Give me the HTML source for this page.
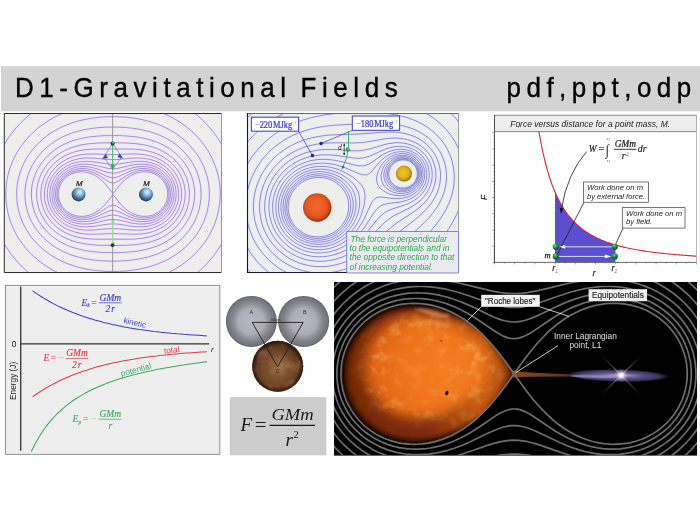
<!DOCTYPE html>
<html lang="en"><head><meta charset="utf-8"><title>D1-Gravitational Fields</title>
<style>html,body{margin:0;padding:0;background:#fff;width:700px;height:525px;overflow:hidden}svg{display:block}text{white-space:pre}</style></head>
<body>
<svg width="700" height="525" viewBox="0 0 700 525">
<defs>
<radialGradient id="gBlue" cx="0.58" cy="0.34" r="0.72"><stop offset="0" stop-color="#d4f0ff"/><stop offset="0.25" stop-color="#a4cce8"/><stop offset="0.55" stop-color="#5a84a8"/><stop offset="0.85" stop-color="#2a4868"/><stop offset="1" stop-color="#182c44"/></radialGradient>
<radialGradient id="gOrange" cx="0.47" cy="0.45" r="0.56"><stop offset="0" stop-color="#f4682a"/><stop offset="0.6" stop-color="#ea5a20"/><stop offset="0.85" stop-color="#c84818"/><stop offset="0.96" stop-color="#8a2c10"/><stop offset="1" stop-color="#6a200c"/></radialGradient>
<radialGradient id="gYellow" cx="0.47" cy="0.45" r="0.56"><stop offset="0" stop-color="#eec422"/><stop offset="0.6" stop-color="#e0b01a"/><stop offset="0.85" stop-color="#b08c14"/><stop offset="0.96" stop-color="#7a6410"/><stop offset="1" stop-color="#5a4a0c"/></radialGradient>
<radialGradient id="gGreen" cx="0.4" cy="0.3" r="0.75"><stop offset="0" stop-color="#7ad890"/><stop offset="0.35" stop-color="#269c44"/><stop offset="1" stop-color="#064a18"/></radialGradient>
<radialGradient id="gGrayA" cx="0.5" cy="0.5" r="0.5"><stop offset="0" stop-color="#b8b8c4"/><stop offset="0.5" stop-color="#adadb8"/><stop offset="0.66" stop-color="#94949c"/><stop offset="0.8" stop-color="#808088"/><stop offset="0.94" stop-color="#74747c"/><stop offset="1" stop-color="#5c5c62"/></radialGradient>
<radialGradient id="gBrown" cx="0.5" cy="0.55" r="0.55"><stop offset="0" stop-color="#8e623e"/><stop offset="0.55" stop-color="#744828"/><stop offset="0.88" stop-color="#52301a"/><stop offset="1" stop-color="#321c0e"/></radialGradient>
<radialGradient id="gStar" gradientUnits="userSpaceOnUse" cx="445" cy="368" r="105"><stop offset="0" stop-color="#f47e22"/><stop offset="0.4" stop-color="#ee741c"/><stop offset="0.65" stop-color="#e06616"/><stop offset="0.85" stop-color="#c45410"/><stop offset="1" stop-color="#9a400a"/></radialGradient>
<linearGradient id="gSh1" gradientUnits="userSpaceOnUse" x1="340" y1="0" x2="515" y2="0"><stop offset="0" stop-color="#6a2006"/><stop offset="0.5" stop-color="#702408"/><stop offset="0.85" stop-color="#7a2606" stop-opacity="0.15"/><stop offset="1" stop-color="#7a2606" stop-opacity="0.3"/></linearGradient>
<linearGradient id="gSh2" gradientUnits="userSpaceOnUse" x1="340" y1="0" x2="515" y2="0"><stop offset="0" stop-color="#2a0a00"/><stop offset="0.5" stop-color="#2a0a00"/><stop offset="0.8" stop-color="#2a0a00" stop-opacity="0.1"/><stop offset="1" stop-color="#2a0a00" stop-opacity="0.4"/></linearGradient>
<linearGradient id="gSh3" gradientUnits="userSpaceOnUse" x1="340" y1="0" x2="515" y2="0"><stop offset="0" stop-color="#0a0200"/><stop offset="0.5" stop-color="#0a0200"/><stop offset="0.8" stop-color="#0a0200" stop-opacity="0.1"/><stop offset="1" stop-color="#0a0200" stop-opacity="0.3"/></linearGradient>
<radialGradient id="gMask" gradientUnits="userSpaceOnUse" cx="425" cy="372" r="88"><stop offset="0" stop-color="#fff" stop-opacity="0.25"/><stop offset="0.35" stop-color="#fff" stop-opacity="0.45"/><stop offset="0.7" stop-color="#fff" stop-opacity="1"/><stop offset="1" stop-color="#fff" stop-opacity="0.8"/></radialGradient>
<mask id="mTex" maskUnits="userSpaceOnUse" x="330" y="280" width="200" height="180"><rect x="330" y="280" width="200" height="180" fill="url(#gMask)"/></mask>
<radialGradient id="gSpike" gradientUnits="userSpaceOnUse" cx="621.2" cy="375.3" r="27"><stop offset="0" stop-color="#c8a8a0" stop-opacity="0.9"/><stop offset="0.4" stop-color="#8a6a60" stop-opacity="0.6"/><stop offset="1" stop-color="#6a5048" stop-opacity="0"/></radialGradient>
<linearGradient id="gTip" gradientUnits="userSpaceOnUse" x1="478" y1="0" x2="515" y2="0"><stop offset="0" stop-color="#3a1a08" stop-opacity="0"/><stop offset="0.6" stop-color="#3a1a08" stop-opacity="0.2"/><stop offset="1" stop-color="#2a1408" stop-opacity="0.6"/></linearGradient>
<linearGradient id="gLimb" gradientUnits="userSpaceOnUse" x1="340" y1="0" x2="514" y2="0"><stop offset="0" stop-color="#5a2406"/><stop offset="0.5" stop-color="#7a3408"/><stop offset="1" stop-color="#9a4a10"/></linearGradient>
<linearGradient id="gStream" gradientUnits="userSpaceOnUse" x1="506" y1="0" x2="588" y2="0"><stop offset="0" stop-color="#8a4a1c"/><stop offset="0.3" stop-color="#7c441c"/><stop offset="0.7" stop-color="#5a3420"/><stop offset="1" stop-color="#4a3848" stop-opacity="0.5"/></linearGradient>
<radialGradient id="gDisk" cx="0.5" cy="0.5" r="0.5"><stop offset="0" stop-color="#8474a4"/><stop offset="0.5" stop-color="#5c4c84"/><stop offset="0.82" stop-color="#423e6e" stop-opacity="0.8"/><stop offset="1" stop-color="#303050" stop-opacity="0"/></radialGradient>
<radialGradient id="gDisk2" cx="0.5" cy="0.5" r="0.5"><stop offset="0" stop-color="#fff"/><stop offset="0.5" stop-color="#b8a8d8" stop-opacity="0.8"/><stop offset="1" stop-color="#8a88c0" stop-opacity="0"/></radialGradient>
<radialGradient id="gGlow" cx="0.5" cy="0.5" r="0.5"><stop offset="0" stop-color="#fff"/><stop offset="0.25" stop-color="#fff" stop-opacity="0.95"/><stop offset="0.5" stop-color="#e8d8f0" stop-opacity="0.5"/><stop offset="1" stop-color="#c0a0c0" stop-opacity="0"/></radialGradient>
<filter id="fBlur5" x="-0.3" y="-0.3" width="1.6" height="1.6"><feGaussianBlur stdDeviation="6"/></filter>
<filter id="fBlur3" x="-0.2" y="-0.2" width="1.4" height="1.4"><feGaussianBlur stdDeviation="2"/></filter>
<filter id="fBlur1" x="-0.2" y="-0.2" width="1.4" height="1.4"><feGaussianBlur stdDeviation="1.1"/></filter>
<filter id="fBlur05" x="-0.2" y="-0.5" width="1.4" height="2"><feGaussianBlur stdDeviation="0.5"/></filter>
<filter id="fTexB" x="0" y="0" width="1" height="1" color-interpolation-filters="sRGB"><feTurbulence type="fractalNoise" baseFrequency="0.07" numOctaves="3" seed="3"/><feColorMatrix type="matrix" values="0 0 0 0 0.72  0 0 0 0 0.56  0 0 0 0 0.4  2.4 0 0 0 -1.0"/></filter>
<filter id="fTex" x="0" y="0" width="1" height="1" color-interpolation-filters="sRGB"><feTurbulence type="fractalNoise" baseFrequency="0.085" numOctaves="4" seed="11"/><feColorMatrix type="matrix" values="0 0 0 0 1  0 0 0 0 0.8  0 0 0 0 0.45  2.4 0 0 0 -1.15"/></filter>
</defs>
<rect x="0" y="0" width="700" height="525" fill="#fff"/>
<rect x="1" y="66" width="699" height="45.3" fill="#d3d3d3"/>
<g transform="translate(0 96.9) scale(1 1.055)" font-family="Liberation Sans,sans-serif" font-size="26" fill="#000" stroke="#000" stroke-width="0.35"><text x="15" y="0" letter-spacing="5.55">D1-Gravitational<tspan dx="-3.8"> Fields</tspan></text><text x="506.6" y="0" letter-spacing="5.45">pdf,ppt,odp</text></g>
<g id="p1">
<clipPath id="c1"><rect x="4.5" y="113.5" width="217.0" height="159.0"/></clipPath>
<rect x="4.5" y="113.5" width="217.0" height="159.0" fill="#eeeeec"/>
<g clip-path="url(#c1)">
<g fill="none" stroke="#f1e6ff" stroke-width="3" opacity="0.95">
<path d=""/>
<path d="M33.8,111.5L29.0,115.2L24.4,119.2L20.1,123.5L15.9,128.0L12.1,132.8L8.6,137.5L5.4,142.5L2.5,147.7 M223.5,147.7L220.6,142.5L217.4,137.5L213.9,132.8L210.1,128.0L205.9,123.5L201.6,119.2L197.0,115.2L192.2,111.5 M2.5,240.5L5.2,245.2L8.2,250.0L11.4,254.5L14.8,258.8L18.5,263.0L22.4,267.0L26.5,270.8L30.9,274.5 M195.1,274.5L199.5,270.8L203.6,267.0L207.5,263.0L211.2,258.8L214.6,254.5L217.8,250.0L220.8,245.2L223.5,240.5"/>
<path d="M67.4,111.5L64.0,112.8L60.8,114.2L57.5,115.7L54.5,117.2L51.5,118.9L48.5,120.6L45.5,122.6L42.8,124.5L40.0,126.5L37.2,128.7L34.8,130.9L32.2,133.2L29.9,135.5L27.6,138.0L25.4,140.5L23.4,143.0L21.5,145.6L19.7,148.2L17.9,151.0L16.2,154.0L14.6,157.0L13.3,159.8L12.0,162.8L10.8,165.8L9.8,168.8L8.8,172.0L8.0,175.0L7.3,178.2L6.7,181.5L6.3,184.8L6.0,188.0L5.8,191.2L5.8,194.5L5.9,197.8L6.1,201.0L6.4,204.2L6.9,207.5L7.5,210.8L8.2,213.8L9.0,217.0L10.1,220.2L11.1,223.2L12.3,226.2L13.7,229.2L15.2,232.2L16.6,235.0L18.3,237.8L20.0,240.5L22.0,243.2L23.9,245.8L26.0,248.4L28.2,250.9L30.5,253.3L33.0,255.7L35.5,258.0L38.0,260.1L40.8,262.3L43.5,264.3L46.2,266.1L49.2,268.0L52.2,269.8L55.5,271.5L58.8,273.1L61.9,274.5 M164.1,274.5L167.2,273.1L170.5,271.5L173.8,269.8L176.8,268.0L179.8,266.1L182.5,264.3L185.2,262.3L188.0,260.1L190.5,258.0L193.0,255.7L195.5,253.3L197.8,250.9L200.0,248.4L202.1,245.8L204.0,243.2L206.0,240.5L207.7,237.8L209.4,235.0L210.8,232.2L212.3,229.2L213.7,226.2L214.9,223.2L215.9,220.2L217.0,217.0L217.8,213.8L218.5,210.8L219.1,207.5L219.6,204.2L219.9,201.0L220.1,197.8L220.2,194.5L220.2,191.2L220.0,188.0L219.7,184.8L219.3,181.5L218.7,178.2L218.0,175.0L217.2,172.0L216.2,168.8L215.2,165.8L214.0,162.8L212.7,159.8L211.4,157.0L209.8,154.0L208.1,151.0L206.3,148.2L204.5,145.6L202.6,143.0L200.6,140.5L198.4,138.0L196.1,135.5L193.8,133.2L191.2,130.9L188.7,128.7L186.0,126.5L183.2,124.5L180.5,122.6L177.5,120.6L174.5,118.9L171.5,117.2L168.5,115.7L165.2,114.2L162.0,112.8L158.6,111.5"/>
<path d="M107.8,116.7L102.2,117.0L96.8,117.6L91.5,118.3L86.2,119.2L81.2,120.3L76.2,121.6L71.5,123.1L67.0,124.8L62.5,126.7L58.2,128.8L54.2,131.0L50.2,133.5L46.5,136.2L43.0,139.0L39.6,142.0L36.5,145.1L33.5,148.5L30.7,152.0L28.1,155.8L25.8,159.5L23.7,163.5L21.9,167.5L20.3,171.8L19.0,176.0L18.0,180.2L17.3,184.8L16.8,189.0L16.6,193.5L16.8,198.0L17.1,202.2L17.8,206.8L18.7,211.0L19.9,215.0L21.3,219.0L22.9,223.0L24.8,226.8L26.9,230.5L29.2,234.2L31.9,237.8L34.6,241.0L37.6,244.2L40.8,247.3L44.2,250.2L47.8,252.9L51.5,255.5L55.2,257.8L59.2,259.9L63.5,261.9L68.0,263.8L72.5,265.4L77.2,266.9L82.0,268.1L87.0,269.2L92.2,270.1L97.5,270.7L102.8,271.2L108.2,271.5L114.0,271.5L119.5,271.4L125.0,271.1L130.2,270.5L135.5,269.8L140.8,268.8L145.8,267.7L149.8,266.6L153.8,265.3L157.8,263.9L161.5,262.4L165.2,260.7L168.8,258.9L172.2,256.9L175.5,254.8L178.8,252.6L181.8,250.3L184.7,247.8L187.4,245.2L190.0,242.6L192.5,239.7L194.9,236.8L197.0,233.8L199.0,230.8L200.8,227.5L202.5,224.2L204.1,220.8L205.4,217.2L206.5,213.8L207.5,210.2L208.2,206.5L208.8,202.8L209.2,199.2L209.3,195.5L209.3,191.8L209.1,188.0L208.7,184.5L208.1,180.8L207.3,177.2L206.3,173.8L205.1,170.2L203.9,167.0L202.4,163.8L200.7,160.5L199.0,157.5L197.1,154.5L194.9,151.5L192.7,148.8L190.2,145.9L187.7,143.2L185.0,140.7L182.0,138.1L179.0,135.8L176.0,133.7L172.8,131.6L169.5,129.7L166.0,127.9L162.5,126.3L158.8,124.7L155.0,123.3L151.2,122.1L147.2,120.9L143.2,119.9L139.0,119.0L134.8,118.3L130.5,117.7L126.0,117.2L121.5,116.9L117.0,116.7L112.2,116.7L107.8,116.7"/>
<path d="M104.5,127.2L99.0,127.6L93.8,128.2L88.8,128.9L83.8,129.8L79.0,130.9L74.5,132.2L70.2,133.7L66.0,135.4L62.0,137.2L58.0,139.4L54.2,141.7L50.8,144.1L47.5,146.8L44.2,149.6L41.2,152.7L38.6,155.8L36.0,159.2L33.7,162.8L31.6,166.5L29.9,170.2L28.4,174.0L27.1,178.0L26.2,182.0L25.4,186.2L25.0,190.5L24.9,194.8L25.1,199.0L25.6,203.0L26.4,207.2L27.4,211.2L28.8,215.2L30.3,219.0L32.1,222.5L33.9,225.8L36.0,229.0L38.3,232.0L40.8,235.0L43.5,237.8L46.5,240.6L49.5,243.1L52.8,245.5L56.2,247.8L59.8,249.8L63.5,251.7L67.2,253.3L71.2,254.9L75.5,256.3L79.8,257.4L84.8,258.6L89.8,259.5L95.0,260.2L100.5,260.7L106.2,261.0L112.0,261.2L118.0,261.1L123.8,260.8L129.2,260.4L134.5,259.7L139.5,258.9L144.2,257.9L148.8,256.8L153.2,255.4L157.5,253.9L161.5,252.2L164.5,250.7L167.5,249.1L170.2,247.5L173.0,245.7L175.5,243.9L178.0,241.9L180.5,239.8L182.8,237.6L185.0,235.2L186.9,233.0L188.9,230.5L190.6,228.0L192.2,225.5L193.8,222.8L195.2,220.0L196.5,217.0L197.6,214.2L198.6,211.2L199.4,208.2L200.0,205.2L200.5,202.2L200.9,199.2L201.1,196.0L201.1,193.0L200.9,189.8L200.6,186.8L200.2,183.8L199.6,180.8L198.8,177.8L197.9,174.8L196.9,172.0L195.6,169.0L194.2,166.2L192.9,163.8L191.3,161.2L189.8,158.9L188.0,156.5L186.1,154.2L184.1,152.0L182.0,149.9L179.8,147.8L177.5,145.9L175.1,144.0L172.6,142.2L170.0,140.6L167.2,139.0L164.5,137.5L161.8,136.2L158.8,134.9L155.8,133.7L152.8,132.6L149.5,131.6L146.2,130.8L143.0,130.0L139.5,129.3L136.0,128.7L132.2,128.2L128.5,127.8L120.8,127.2L116.8,127.1L112.5,127.0L104.5,127.2"/>
<path d="M103.8,135.7L98.2,136.1L93.0,136.5L88.2,137.2L83.8,137.9L79.2,138.9L75.0,140.1L71.0,141.4L67.2,142.9L63.5,144.6L59.7,146.6L56.5,148.7L53.2,151.0L50.2,153.5L47.3,156.2L44.7,159.0L42.3,162.0L40.0,165.2L37.9,168.8L36.2,172.2L34.6,176.0L33.4,179.8L32.5,183.5L31.8,187.2L31.5,191.2L31.4,195.0L31.6,199.0L32.2,203.0L33.0,206.8L34.0,210.5L35.4,214.2L37.0,217.8L38.9,221.2L40.9,224.2L42.9,227.0L45.2,229.7L47.5,232.2L50.0,234.5L52.8,236.8L55.8,239.0L58.8,241.0L61.8,242.7L65.0,244.3L68.5,245.8L72.0,247.1L75.8,248.3L79.5,249.3L83.5,250.2L87.8,251.0L92.8,251.6L98.2,252.1L104.2,252.5L110.5,252.6L117.2,252.6L123.5,252.4L129.2,252.0L134.8,251.5L139.5,250.8L144.0,249.9L148.2,248.9L152.2,247.7L156.2,246.3L160.0,244.8L163.5,243.1L167.0,241.1L169.5,239.5L171.8,237.9L174.0,236.2L176.0,234.5L178.0,232.7L179.9,230.8L181.7,228.8L183.3,226.8L185.0,224.5L186.4,222.2L187.8,220.0L189.0,217.8L190.2,215.2L191.2,212.8L192.0,210.2L192.8,207.8L193.4,205.2L193.9,202.5L194.3,199.8L194.5,197.2L194.6,194.8L194.6,192.0L194.4,189.2L194.1,186.8L193.6,184.0L193.1,181.5L192.4,179.0L191.6,176.5L190.6,174.0L189.5,171.5L188.2,169.0L186.9,166.8L185.7,164.8L184.2,162.7L182.7,160.8L181.1,158.8L179.2,156.8L177.5,155.0L175.8,153.5L173.8,151.8L171.8,150.3L169.8,148.8L167.5,147.4L165.2,146.1L163.0,144.9L160.5,143.7L158.0,142.6L155.5,141.6L150.5,139.9L145.2,138.6L139.5,137.4L133.5,136.6L126.8,136.0L119.5,135.6L111.5,135.6L103.8,135.7"/>
<path d="M99.5,143.0L94.2,143.3L89.5,143.7L85.0,144.3L81.0,145.0L77.0,146.0L73.2,147.1L69.8,148.3L66.2,149.8L62.8,151.6L59.5,153.5L56.5,155.6L53.5,158.0L50.8,160.5L48.4,163.0L46.2,165.8L44.1,168.8L42.2,172.0L40.6,175.2L39.2,178.8L38.1,182.2L37.4,185.8L36.8,189.5L36.6,193.0L36.7,196.8L37.0,200.5L37.7,204.0L38.6,207.8L39.9,211.2L41.4,214.8L43.2,218.0L45.1,221.0L47.4,224.0L49.5,226.4L51.8,228.7L54.0,230.7L56.5,232.6L59.0,234.4L61.7,236.1L64.8,237.7L67.8,239.1L70.8,240.3L74.0,241.4L77.2,242.3L80.8,243.1L84.2,243.8L88.0,244.3L92.0,244.7L96.2,245.1L102.2,245.3L109.2,245.4L118.0,245.4L125.2,245.3L130.2,245.0L135.0,244.7L139.5,244.1L143.5,243.5L147.5,242.6L151.5,241.5L155.2,240.3L158.8,238.9L162.2,237.2L165.5,235.3L168.5,233.4L171.5,231.1L173.3,229.5L175.2,227.8L176.9,226.0L178.4,224.2L179.8,222.5L181.2,220.5L182.5,218.5L183.7,216.5L184.7,214.5L185.7,212.2L186.6,210.0L187.3,208.0L187.9,205.8L188.4,203.5L188.9,201.2L189.1,199.0L189.3,196.8L189.4,194.5L189.4,192.0L189.2,189.8L188.9,187.5L188.6,185.2L188.1,183.0L187.4,180.8L186.7,178.5L185.8,176.2L184.8,174.0L183.8,172.0L182.7,170.0L181.4,168.0L180.0,166.0L178.6,164.2L175.8,161.0L172.8,158.2L169.4,155.5L165.8,153.0L162.0,150.9L158.0,149.0L153.8,147.4L149.2,146.0L144.8,145.0L140.2,144.2L135.5,143.6L130.2,143.2L124.0,142.9L116.2,142.8L107.0,142.8L99.5,143.0"/>
<path d="M96.5,149.0L91.8,149.2L87.5,149.5L83.5,150.0L79.8,150.6L76.2,151.4L72.8,152.5L69.5,153.7L66.2,155.1L63.2,156.7L60.2,158.5L57.5,160.5L54.8,162.9L52.2,165.4L50.0,168.0L48.0,170.7L46.3,173.5L44.7,176.5L43.4,179.8L42.3,183.0L41.5,186.5L41.1,189.8L40.8,193.2L40.9,196.8L41.3,200.2L42.0,203.8L42.9,207.0L44.1,210.2L45.5,213.2L47.2,216.2L49.1,219.0L51.3,221.8L53.8,224.4L56.4,226.8L59.2,229.0L62.2,230.9L65.2,232.6L68.5,234.1L72.2,235.6L76.0,236.7L79.8,237.6L83.0,238.2L86.5,238.6L90.0,238.9L94.0,239.1L99.8,239.2L113.0,239.2L127.2,239.2L131.2,239.2L135.0,239.0L138.5,238.7L141.8,238.4L145.0,237.8L148.0,237.2L151.0,236.4L153.8,235.6L156.5,234.5L159.2,233.3L161.8,232.1L164.2,230.6L166.5,229.1L168.8,227.5L171.0,225.6L173.0,223.6L175.8,220.5L177.1,218.8L178.2,217.1L179.4,215.2L180.4,213.5L181.3,211.5L182.1,209.8L182.9,207.8L183.5,205.8L184.0,203.8L184.5,201.8L184.8,199.5L185.0,197.5L185.2,193.5L185.1,191.5L184.9,189.2L184.2,185.2L183.7,183.2L183.1,181.2L181.7,177.5L180.9,175.8L179.9,173.8L177.7,170.2L176.4,168.5L175.0,166.8L172.2,163.8L169.5,161.3L166.5,159.1L163.5,157.1L160.2,155.3L157.0,153.9L153.2,152.5L149.5,151.4L145.8,150.5L142.5,150.0L139.0,149.5L135.5,149.2L131.5,149.0L126.0,149.0L113.5,149.0L96.5,149.0"/>
<path d="M90.0,154.0L86.2,154.2L82.5,154.6L79.0,155.1L75.8,155.9L72.5,156.9L69.5,158.0L66.5,159.4L63.8,160.9L61.0,162.6L58.5,164.6L56.1,166.8L53.9,169.0L51.9,171.5L50.2,174.0L48.6,176.8L47.3,179.5L46.2,182.5L45.4,185.5L44.8,188.5L44.4,191.8L44.4,195.0L44.6,198.0L45.0,201.2L45.8,204.2L46.7,207.2L48.0,210.2L49.5,213.0L51.2,215.8L53.1,218.2L55.2,220.6L57.5,222.8L60.0,224.8L62.5,226.6L65.0,228.1L67.8,229.4L70.8,230.7L73.8,231.7L77.0,232.6L80.2,233.3L83.5,233.8L87.5,234.1L92.0,234.2L96.5,234.2L107.0,233.7L112.2,233.6L118.0,233.7L131.8,234.2L135.8,234.2L139.5,234.0L142.2,233.8L145.0,233.4L147.5,233.0L150.0,232.4L152.5,231.7L155.0,230.8L157.2,229.9L159.5,228.8L161.8,227.6L163.8,226.4L165.8,225.0L167.5,223.6L169.2,222.1L171.0,220.4L172.7,218.5L174.1,216.8L176.2,213.5L178.0,210.2L179.4,206.8L180.5,203.2L181.2,199.8L181.6,196.0L181.6,192.2L181.2,188.5L180.5,184.8L179.4,181.2L177.9,177.8L176.1,174.5L174.0,171.4L171.6,168.5L169.0,165.9L166.0,163.4L163.5,161.6L161.0,160.1L158.2,158.8L155.5,157.6L152.5,156.5L149.5,155.7L146.2,155.0L143.0,154.5L139.0,154.1L134.5,154.0L129.8,154.0L118.5,154.5L113.0,154.6L107.5,154.5L95.8,154.0L90.0,154.0"/>
<path d="M83.2,158.2L80.0,158.6L77.0,159.2L74.0,160.0L71.2,160.9L68.5,162.1L65.8,163.5L63.2,165.0L61.0,166.6L58.7,168.5L56.8,170.5L55.0,172.5L53.2,174.9L51.8,177.2L50.5,179.8L49.4,182.2L48.6,185.0L47.9,187.8L47.5,190.5L47.3,193.2L47.4,196.2L47.7,199.0L48.2,201.8L48.9,204.5L50.0,207.2L51.1,209.8L52.5,212.2L54.2,214.7L56.0,216.9L58.0,219.0L60.2,221.0L62.5,222.7L65.0,224.3L67.2,225.5L69.5,226.6L71.8,227.5L74.2,228.3L76.8,228.9L79.2,229.4L81.8,229.8L84.5,230.1L88.2,230.2L92.5,230.1L96.5,229.8L106.8,228.8L109.8,228.7L112.7,228.6L115.8,228.6L118.8,228.8L129.8,229.8L134.5,230.1L139.5,230.2L142.0,230.0L144.2,229.8L146.8,229.4L149.0,229.0L151.2,228.4L153.5,227.7L155.8,226.9L157.8,226.0L159.8,225.0L161.8,223.9L163.8,222.5L165.5,221.2L167.2,219.8L168.8,218.3L170.2,216.6L171.6,215.0L172.8,213.2L173.9,211.5L175.5,208.5L176.8,205.2L177.8,202.0L178.4,198.8L178.7,195.5L178.6,192.0L178.2,188.5L177.5,185.2L176.5,182.0L175.0,178.8L173.3,175.8L171.4,173.0L169.2,170.5L166.7,168.0L164.0,165.8L161.0,163.9L159.0,162.8L156.8,161.7L154.5,160.8L152.0,160.0L149.5,159.3L147.0,158.8L144.5,158.4L141.8,158.2L137.8,158.0L133.5,158.1L129.5,158.4L119.0,159.4L116.0,159.6L113.0,159.6L110.0,159.6L107.0,159.4L96.5,158.4L92.0,158.1L87.5,158.0L83.2,158.2"/>
<path d="M82.5,161.5L79.5,161.8L76.8,162.3L74.0,163.0L71.5,163.9L69.0,164.9L66.5,166.2L64.2,167.6L62.0,169.2L60.0,170.9L58.2,172.7L56.5,174.8L54.9,177.0L53.6,179.2L52.4,181.8L51.4,184.2L50.7,186.8L50.2,189.5L49.9,192.0L49.9,194.8L50.0,197.2L50.4,200.0L51.0,202.5L51.8,205.0L52.9,207.5L54.0,209.8L55.5,212.1L57.2,214.2L59.0,216.2L61.0,218.2L63.0,219.7L65.2,221.3L67.5,222.5L69.2,223.4L71.2,224.2L73.2,224.9L75.2,225.5L77.2,226.0L79.5,226.4L81.5,226.6L83.8,226.8L87.8,226.8L92.0,226.5L96.2,226.0L106.8,224.3L109.8,224.0L112.8,223.9L115.8,224.0L119.0,224.3L130.5,226.1L135.5,226.7L138.2,226.8L141.0,226.8L143.5,226.7L146.0,226.4L148.2,226.1L150.2,225.6L152.2,225.1L154.2,224.4L156.2,223.6L158.2,222.7L160.0,221.7L161.8,220.6L163.5,219.4L165.0,218.2L166.5,216.7L168.0,215.2L169.2,213.7L170.5,212.0L171.7,210.2L172.6,208.5L173.9,205.8L174.9,202.8L175.6,199.8L176.1,196.5L176.1,193.2L175.9,190.2L175.4,187.2L174.6,184.2L173.4,181.2L172.0,178.5L170.4,176.0L168.5,173.5L166.3,171.2L164.0,169.2L161.3,167.2L158.5,165.7L156.8,164.8L154.8,164.0L152.8,163.3L150.8,162.7L148.8,162.2L146.8,161.9L144.8,161.6L142.5,161.4L138.5,161.4L134.2,161.6L130.0,162.2L119.2,163.9L116.0,164.2L113.0,164.3L110.0,164.2L106.8,163.9L96.0,162.2L91.5,161.6L86.8,161.4L82.5,161.5"/>
<path d="M81.8,164.2L79.0,164.5L76.5,165.0L74.0,165.6L71.5,166.5L69.2,167.4L67.0,168.6L64.8,170.0L62.8,171.5L61.0,173.1L59.2,175.0L57.6,177.0L56.3,179.0L55.2,181.0L54.1,183.2L53.3,185.5L52.7,188.0L52.3,190.2L52.0,192.8L52.0,195.2L52.2,197.8L52.7,200.2L53.3,202.8L54.2,205.0L55.2,207.2L56.3,209.2L57.8,211.4L59.3,213.2L61.0,215.1L62.9,216.8L64.9,218.2L67.0,219.6L69.2,220.8L71.2,221.6L73.2,222.3L75.2,222.9L77.2,223.4L79.2,223.7L81.5,223.9L83.5,224.0L85.8,224.0L89.5,223.8L93.5,223.2L97.2,222.4L105.0,220.5L108.0,219.9L111.0,219.5L114.0,219.5L116.5,219.7L119.2,220.1L122.0,220.7L130.2,222.7L133.0,223.3L135.5,223.6L138.5,224.0L141.2,224.1L144.0,224.0L146.8,223.7L148.8,223.4L150.8,222.9L152.8,222.3L154.5,221.7L156.2,221.0L158.0,220.1L159.8,219.1L161.2,218.2L162.8,217.0L164.3,215.8L165.8,214.3L167.0,212.9L168.2,211.4L169.4,209.8L170.3,208.2L171.2,206.5L172.3,203.8L173.1,201.0L173.7,198.2L174.0,195.2L173.9,192.2L173.6,189.5L173.0,186.8L172.2,184.0L171.0,181.2L169.6,178.8L168.0,176.5L166.1,174.2L164.0,172.2L161.8,170.4L159.2,168.8L156.8,167.4L155.0,166.7L153.0,165.9L151.0,165.3L149.0,164.9L147.0,164.5L144.8,164.3L142.5,164.2L140.2,164.2L136.5,164.4L132.5,165.0L128.8,165.8L121.0,167.7L117.8,168.4L114.8,168.7L111.8,168.7L109.2,168.5L106.5,168.0L96.2,165.6L91.5,164.7L89.0,164.4L86.5,164.2L84.0,164.1L81.8,164.2"/>
<path d="M79.5,166.7L77.0,167.1L74.8,167.6L72.5,168.3L70.5,169.1L68.2,170.3L66.2,171.5L64.5,172.8L62.7,174.2L61.0,175.9L59.5,177.7L58.2,179.5L57.1,181.5L56.1,183.5L55.3,185.5L54.7,187.8L54.2,190.0L54.0,192.2L53.9,194.5L54.0,196.8L54.4,199.0L54.9,201.2L55.6,203.5L56.5,205.5L57.5,207.5L58.8,209.5L60.1,211.2L61.7,213.0L63.3,214.5L65.0,215.9L67.0,217.2L69.0,218.3L71.2,219.4L73.2,220.1L75.0,220.6L77.0,221.1L79.0,221.4L81.0,221.6L83.0,221.7L85.0,221.7L87.2,221.5L91.0,220.9L94.8,220.0L98.2,218.9L105.2,216.5L108.0,215.7L110.8,215.2L112.2,215.1L113.5,215.1L116.0,215.3L118.8,215.9L121.2,216.7L130.0,219.6L133.0,220.5L135.8,221.0L139.0,221.5L142.0,221.7L145.0,221.6L147.8,221.3L149.8,220.9L151.5,220.5L153.2,219.9L155.0,219.3L156.8,218.5L158.2,217.7L159.8,216.7L161.2,215.7L162.8,214.5L164.0,213.2L165.2,212.0L166.5,210.5L167.6,209.0L168.5,207.5L169.3,206.0L170.1,204.2L171.0,201.8L171.6,199.0L172.0,196.5L172.1,193.8L171.9,191.0L171.5,188.5L170.8,186.0L169.9,183.5L168.7,181.0L167.3,178.8L165.7,176.8L163.8,174.8L161.8,172.9L159.5,171.3L157.2,170.0L154.8,168.8L153.0,168.2L151.0,167.6L149.2,167.2L147.2,166.8L145.2,166.6L143.2,166.5L141.2,166.5L139.0,166.7L135.2,167.2L131.5,168.1L127.8,169.2L120.8,171.7L118.0,172.5L115.2,173.0L113.8,173.1L112.5,173.1L110.0,172.9L107.2,172.3L104.8,171.5L96.2,168.6L93.5,167.9L90.8,167.2L87.8,166.8L85.0,166.5L82.2,166.5L79.5,166.7"/>
<path d="M79.0,168.7L76.8,169.1L74.5,169.6L72.5,170.3L70.5,171.1L68.5,172.2L66.8,173.2L65.0,174.5L63.5,175.8L62.0,177.4L60.7,179.0L59.4,180.8L58.3,182.8L57.4,184.8L56.7,186.8L56.1,188.8L55.8,190.8L55.6,192.8L55.6,195.0L55.7,197.0L56.1,199.2L56.6,201.2L57.3,203.2L58.2,205.2L59.2,207.0L60.3,208.8L61.7,210.5L63.1,212.0L64.8,213.5L66.5,214.8L68.2,215.9L70.2,217.0L72.2,217.8L74.0,218.4L76.0,218.9L78.0,219.3L80.0,219.6L82.0,219.7L84.0,219.6L86.2,219.4L88.2,219.1L92.0,218.3L95.8,217.0L99.3,215.5L106.0,212.3L108.5,211.3L109.8,210.9L111.0,210.6L112.2,210.5L113.2,210.5L114.2,210.5L115.5,210.7L118.0,211.5L120.5,212.5L126.2,215.2L129.0,216.5L132.2,217.7L135.2,218.6L138.5,219.3L141.8,219.6L145.0,219.6L148.0,219.3L149.8,219.0L151.5,218.6L153.0,218.1L154.8,217.4L156.2,216.7L157.8,215.9L159.2,215.0L160.8,213.9L162.0,212.8L163.2,211.6L164.5,210.2L165.5,209.0L166.5,207.5L167.4,206.0L168.2,204.5L168.8,203.0L169.5,200.8L170.1,198.2L170.4,195.8L170.4,193.2L170.2,190.8L169.8,188.5L169.1,186.0L168.2,183.8L167.0,181.5L165.7,179.5L164.1,177.5L162.4,175.8L160.5,174.1L158.2,172.6L156.0,171.4L153.8,170.4L152.0,169.8L150.0,169.3L148.0,168.9L146.0,168.6L144.0,168.5L142.0,168.6L140.0,168.7L137.8,169.1L134.0,169.9L130.2,171.2L126.6,172.8L120.0,175.9L117.5,176.9L116.2,177.3L115.0,177.6L113.8,177.7L112.8,177.7L111.8,177.7L110.5,177.5L108.0,176.7L105.5,175.7L99.9,173.0L97.1,171.8L94.2,170.6L91.2,169.7L88.2,169.1L85.0,168.6L82.0,168.5L79.0,168.7"/>
<path d="M78.8,170.5L76.8,170.8L74.8,171.3L72.8,171.9L71.0,172.6L69.2,173.5L67.5,174.6L65.8,175.9L64.2,177.2L62.8,178.8L61.6,180.2L60.4,182.0L59.4,183.8L58.7,185.5L58.0,187.5L57.5,189.2L57.2,191.2L57.0,193.2L57.0,195.2L57.2,197.2L57.6,199.2L58.1,201.2L58.8,203.0L59.6,204.8L60.6,206.5L61.8,208.2L63.1,209.8L64.5,211.2L66.0,212.5L67.5,213.6L69.2,214.7L71.0,215.6L73.0,216.4L75.0,217.0L77.0,217.5L79.3,217.8L81.2,217.9L83.2,217.9L85.5,217.7L87.5,217.3L89.8,216.8L91.8,216.2L93.6,215.5L95.5,214.7L97.5,213.6L100.5,211.9L106.8,207.7L109.2,206.2L110.2,205.8L111.2,205.4L112.2,205.3L113.0,205.2L114.0,205.3L115.0,205.5L116.0,205.9L117.0,206.3L119.0,207.5L124.5,211.2L127.5,213.1L130.8,214.8L134.0,216.1L135.8,216.7L137.5,217.1L139.5,217.5L141.2,217.8L143.0,217.9L144.8,217.9L146.5,217.8L148.2,217.6L149.8,217.3L151.5,216.9L153.2,216.3L154.8,215.7L156.2,214.9L157.8,214.1L160.2,212.3L161.5,211.2L162.7,210.0L163.8,208.7L164.7,207.5L165.6,206.2L166.4,204.8L167.1,203.2L167.7,201.8L168.3,199.5L168.8,197.2L169.0,195.0L168.9,192.8L168.7,190.2L168.2,188.0L167.4,185.8L166.6,183.8L165.4,181.8L164.2,180.0L162.8,178.2L161.0,176.5L159.2,175.1L157.2,173.8L155.2,172.8L153.0,171.8L151.0,171.2L149.0,170.7L147.0,170.5L144.8,170.3L142.8,170.3L140.5,170.5L138.5,170.9L136.2,171.4L134.5,171.9L132.5,172.7L130.5,173.5L128.5,174.6L125.6,176.2L119.2,180.5L116.7,182.0L115.8,182.4L114.8,182.8L113.8,182.9L113.0,183.0L112.0,182.9L111.0,182.7L110.0,182.3L109.0,181.9L107.0,180.7L101.5,177.0L98.7,175.2L95.5,173.5L92.2,172.2L90.5,171.6L88.8,171.1L85.5,170.5L83.8,170.4L82.0,170.3L78.8,170.5"/>
<path d="M78.8,172.0L76.8,172.3L75.0,172.7L73.0,173.3L71.2,174.0L69.5,175.0L68.0,175.9L66.5,177.0L65.1,178.2L63.9,179.5L62.7,181.0L61.6,182.5L60.7,184.2L59.9,186.0L59.3,187.8L58.8,189.5L58.5,191.5L58.3,193.2L58.3,195.2L58.5,197.2L58.9,199.0L59.4,201.0L60.1,202.8L60.9,204.5L61.8,206.0L62.9,207.5L64.2,209.0L65.5,210.3L67.0,211.6L68.5,212.6L70.2,213.7L72.0,214.5L73.8,215.1L76.2,215.8L78.8,216.2L81.2,216.4L83.8,216.3L86.5,215.9L89.0,215.2L91.5,214.4L94.0,213.2L96.2,212.0L98.4,210.5L100.6,208.8L102.8,206.8L104.6,205.0L106.3,203.0L108.6,200.2L112.0,195.7L112.5,195.1L112.8,194.9L113.0,194.8L113.2,194.9L113.8,195.4L118.2,201.2L121.2,204.7L124.2,207.8L127.2,210.3L129.0,211.5L130.7,212.5L132.5,213.5L134.2,214.3L136.0,214.9L138.0,215.5L139.8,215.9L141.8,216.2L143.8,216.4L145.8,216.3L147.8,216.2L149.8,215.8L151.8,215.3L153.5,214.7L155.2,213.9L157.0,212.9L158.8,211.8L160.2,210.5L161.6,209.2L162.9,207.8L164.0,206.3L165.1,204.5L165.9,202.8L166.6,201.0L167.1,199.0L167.5,196.8L167.7,194.8L167.6,192.5L167.4,190.2L166.9,188.2L166.2,186.2L165.3,184.2L164.2,182.3L163.0,180.6L161.6,179.0L160.0,177.4L158.2,176.1L156.2,174.8L154.2,173.8L152.2,173.1L149.8,172.4L147.2,172.0L144.8,171.8L142.2,171.9L139.5,172.3L137.0,173.0L134.5,173.8L131.9,175.0L129.7,176.2L127.5,177.8L125.3,179.5L123.1,181.5L121.4,183.2L119.6,185.2L117.4,188.0L114.0,192.5L113.5,193.1L113.0,193.4L112.8,193.3L112.2,192.8L107.4,186.5L105.7,184.5L103.9,182.5L102.1,180.8L100.2,179.1L98.5,177.8L96.5,176.4L94.5,175.2L92.2,174.1L90.0,173.3L87.8,172.6L85.5,172.2L83.2,171.9L81.0,171.8L78.8,172.0"/>
</g>
<g fill="none" stroke="#5c3aa8" stroke-width="0.52">
<path d=""/>
<path d="M33.8,111.5L29.0,115.2L24.4,119.2L20.1,123.5L15.9,128.0L12.1,132.8L8.6,137.5L5.4,142.5L2.5,147.7 M223.5,147.7L220.6,142.5L217.4,137.5L213.9,132.8L210.1,128.0L205.9,123.5L201.6,119.2L197.0,115.2L192.2,111.5 M2.5,240.5L5.2,245.2L8.2,250.0L11.4,254.5L14.8,258.8L18.5,263.0L22.4,267.0L26.5,270.8L30.9,274.5 M195.1,274.5L199.5,270.8L203.6,267.0L207.5,263.0L211.2,258.8L214.6,254.5L217.8,250.0L220.8,245.2L223.5,240.5"/>
<path d="M67.4,111.5L64.0,112.8L60.8,114.2L57.5,115.7L54.5,117.2L51.5,118.9L48.5,120.6L45.5,122.6L42.8,124.5L40.0,126.5L37.2,128.7L34.8,130.9L32.2,133.2L29.9,135.5L27.6,138.0L25.4,140.5L23.4,143.0L21.5,145.6L19.7,148.2L17.9,151.0L16.2,154.0L14.6,157.0L13.3,159.8L12.0,162.8L10.8,165.8L9.8,168.8L8.8,172.0L8.0,175.0L7.3,178.2L6.7,181.5L6.3,184.8L6.0,188.0L5.8,191.2L5.8,194.5L5.9,197.8L6.1,201.0L6.4,204.2L6.9,207.5L7.5,210.8L8.2,213.8L9.0,217.0L10.1,220.2L11.1,223.2L12.3,226.2L13.7,229.2L15.2,232.2L16.6,235.0L18.3,237.8L20.0,240.5L22.0,243.2L23.9,245.8L26.0,248.4L28.2,250.9L30.5,253.3L33.0,255.7L35.5,258.0L38.0,260.1L40.8,262.3L43.5,264.3L46.2,266.1L49.2,268.0L52.2,269.8L55.5,271.5L58.8,273.1L61.9,274.5 M164.1,274.5L167.2,273.1L170.5,271.5L173.8,269.8L176.8,268.0L179.8,266.1L182.5,264.3L185.2,262.3L188.0,260.1L190.5,258.0L193.0,255.7L195.5,253.3L197.8,250.9L200.0,248.4L202.1,245.8L204.0,243.2L206.0,240.5L207.7,237.8L209.4,235.0L210.8,232.2L212.3,229.2L213.7,226.2L214.9,223.2L215.9,220.2L217.0,217.0L217.8,213.8L218.5,210.8L219.1,207.5L219.6,204.2L219.9,201.0L220.1,197.8L220.2,194.5L220.2,191.2L220.0,188.0L219.7,184.8L219.3,181.5L218.7,178.2L218.0,175.0L217.2,172.0L216.2,168.8L215.2,165.8L214.0,162.8L212.7,159.8L211.4,157.0L209.8,154.0L208.1,151.0L206.3,148.2L204.5,145.6L202.6,143.0L200.6,140.5L198.4,138.0L196.1,135.5L193.8,133.2L191.2,130.9L188.7,128.7L186.0,126.5L183.2,124.5L180.5,122.6L177.5,120.6L174.5,118.9L171.5,117.2L168.5,115.7L165.2,114.2L162.0,112.8L158.6,111.5"/>
<path d="M107.8,116.7L102.2,117.0L96.8,117.6L91.5,118.3L86.2,119.2L81.2,120.3L76.2,121.6L71.5,123.1L67.0,124.8L62.5,126.7L58.2,128.8L54.2,131.0L50.2,133.5L46.5,136.2L43.0,139.0L39.6,142.0L36.5,145.1L33.5,148.5L30.7,152.0L28.1,155.8L25.8,159.5L23.7,163.5L21.9,167.5L20.3,171.8L19.0,176.0L18.0,180.2L17.3,184.8L16.8,189.0L16.6,193.5L16.8,198.0L17.1,202.2L17.8,206.8L18.7,211.0L19.9,215.0L21.3,219.0L22.9,223.0L24.8,226.8L26.9,230.5L29.2,234.2L31.9,237.8L34.6,241.0L37.6,244.2L40.8,247.3L44.2,250.2L47.8,252.9L51.5,255.5L55.2,257.8L59.2,259.9L63.5,261.9L68.0,263.8L72.5,265.4L77.2,266.9L82.0,268.1L87.0,269.2L92.2,270.1L97.5,270.7L102.8,271.2L108.2,271.5L114.0,271.5L119.5,271.4L125.0,271.1L130.2,270.5L135.5,269.8L140.8,268.8L145.8,267.7L149.8,266.6L153.8,265.3L157.8,263.9L161.5,262.4L165.2,260.7L168.8,258.9L172.2,256.9L175.5,254.8L178.8,252.6L181.8,250.3L184.7,247.8L187.4,245.2L190.0,242.6L192.5,239.7L194.9,236.8L197.0,233.8L199.0,230.8L200.8,227.5L202.5,224.2L204.1,220.8L205.4,217.2L206.5,213.8L207.5,210.2L208.2,206.5L208.8,202.8L209.2,199.2L209.3,195.5L209.3,191.8L209.1,188.0L208.7,184.5L208.1,180.8L207.3,177.2L206.3,173.8L205.1,170.2L203.9,167.0L202.4,163.8L200.7,160.5L199.0,157.5L197.1,154.5L194.9,151.5L192.7,148.8L190.2,145.9L187.7,143.2L185.0,140.7L182.0,138.1L179.0,135.8L176.0,133.7L172.8,131.6L169.5,129.7L166.0,127.9L162.5,126.3L158.8,124.7L155.0,123.3L151.2,122.1L147.2,120.9L143.2,119.9L139.0,119.0L134.8,118.3L130.5,117.7L126.0,117.2L121.5,116.9L117.0,116.7L112.2,116.7L107.8,116.7"/>
<path d="M104.5,127.2L99.0,127.6L93.8,128.2L88.8,128.9L83.8,129.8L79.0,130.9L74.5,132.2L70.2,133.7L66.0,135.4L62.0,137.2L58.0,139.4L54.2,141.7L50.8,144.1L47.5,146.8L44.2,149.6L41.2,152.7L38.6,155.8L36.0,159.2L33.7,162.8L31.6,166.5L29.9,170.2L28.4,174.0L27.1,178.0L26.2,182.0L25.4,186.2L25.0,190.5L24.9,194.8L25.1,199.0L25.6,203.0L26.4,207.2L27.4,211.2L28.8,215.2L30.3,219.0L32.1,222.5L33.9,225.8L36.0,229.0L38.3,232.0L40.8,235.0L43.5,237.8L46.5,240.6L49.5,243.1L52.8,245.5L56.2,247.8L59.8,249.8L63.5,251.7L67.2,253.3L71.2,254.9L75.5,256.3L79.8,257.4L84.8,258.6L89.8,259.5L95.0,260.2L100.5,260.7L106.2,261.0L112.0,261.2L118.0,261.1L123.8,260.8L129.2,260.4L134.5,259.7L139.5,258.9L144.2,257.9L148.8,256.8L153.2,255.4L157.5,253.9L161.5,252.2L164.5,250.7L167.5,249.1L170.2,247.5L173.0,245.7L175.5,243.9L178.0,241.9L180.5,239.8L182.8,237.6L185.0,235.2L186.9,233.0L188.9,230.5L190.6,228.0L192.2,225.5L193.8,222.8L195.2,220.0L196.5,217.0L197.6,214.2L198.6,211.2L199.4,208.2L200.0,205.2L200.5,202.2L200.9,199.2L201.1,196.0L201.1,193.0L200.9,189.8L200.6,186.8L200.2,183.8L199.6,180.8L198.8,177.8L197.9,174.8L196.9,172.0L195.6,169.0L194.2,166.2L192.9,163.8L191.3,161.2L189.8,158.9L188.0,156.5L186.1,154.2L184.1,152.0L182.0,149.9L179.8,147.8L177.5,145.9L175.1,144.0L172.6,142.2L170.0,140.6L167.2,139.0L164.5,137.5L161.8,136.2L158.8,134.9L155.8,133.7L152.8,132.6L149.5,131.6L146.2,130.8L143.0,130.0L139.5,129.3L136.0,128.7L132.2,128.2L128.5,127.8L120.8,127.2L116.8,127.1L112.5,127.0L104.5,127.2"/>
<path d="M103.8,135.7L98.2,136.1L93.0,136.5L88.2,137.2L83.8,137.9L79.2,138.9L75.0,140.1L71.0,141.4L67.2,142.9L63.5,144.6L59.7,146.6L56.5,148.7L53.2,151.0L50.2,153.5L47.3,156.2L44.7,159.0L42.3,162.0L40.0,165.2L37.9,168.8L36.2,172.2L34.6,176.0L33.4,179.8L32.5,183.5L31.8,187.2L31.5,191.2L31.4,195.0L31.6,199.0L32.2,203.0L33.0,206.8L34.0,210.5L35.4,214.2L37.0,217.8L38.9,221.2L40.9,224.2L42.9,227.0L45.2,229.7L47.5,232.2L50.0,234.5L52.8,236.8L55.8,239.0L58.8,241.0L61.8,242.7L65.0,244.3L68.5,245.8L72.0,247.1L75.8,248.3L79.5,249.3L83.5,250.2L87.8,251.0L92.8,251.6L98.2,252.1L104.2,252.5L110.5,252.6L117.2,252.6L123.5,252.4L129.2,252.0L134.8,251.5L139.5,250.8L144.0,249.9L148.2,248.9L152.2,247.7L156.2,246.3L160.0,244.8L163.5,243.1L167.0,241.1L169.5,239.5L171.8,237.9L174.0,236.2L176.0,234.5L178.0,232.7L179.9,230.8L181.7,228.8L183.3,226.8L185.0,224.5L186.4,222.2L187.8,220.0L189.0,217.8L190.2,215.2L191.2,212.8L192.0,210.2L192.8,207.8L193.4,205.2L193.9,202.5L194.3,199.8L194.5,197.2L194.6,194.8L194.6,192.0L194.4,189.2L194.1,186.8L193.6,184.0L193.1,181.5L192.4,179.0L191.6,176.5L190.6,174.0L189.5,171.5L188.2,169.0L186.9,166.8L185.7,164.8L184.2,162.7L182.7,160.8L181.1,158.8L179.2,156.8L177.5,155.0L175.8,153.5L173.8,151.8L171.8,150.3L169.8,148.8L167.5,147.4L165.2,146.1L163.0,144.9L160.5,143.7L158.0,142.6L155.5,141.6L150.5,139.9L145.2,138.6L139.5,137.4L133.5,136.6L126.8,136.0L119.5,135.6L111.5,135.6L103.8,135.7"/>
<path d="M99.5,143.0L94.2,143.3L89.5,143.7L85.0,144.3L81.0,145.0L77.0,146.0L73.2,147.1L69.8,148.3L66.2,149.8L62.8,151.6L59.5,153.5L56.5,155.6L53.5,158.0L50.8,160.5L48.4,163.0L46.2,165.8L44.1,168.8L42.2,172.0L40.6,175.2L39.2,178.8L38.1,182.2L37.4,185.8L36.8,189.5L36.6,193.0L36.7,196.8L37.0,200.5L37.7,204.0L38.6,207.8L39.9,211.2L41.4,214.8L43.2,218.0L45.1,221.0L47.4,224.0L49.5,226.4L51.8,228.7L54.0,230.7L56.5,232.6L59.0,234.4L61.7,236.1L64.8,237.7L67.8,239.1L70.8,240.3L74.0,241.4L77.2,242.3L80.8,243.1L84.2,243.8L88.0,244.3L92.0,244.7L96.2,245.1L102.2,245.3L109.2,245.4L118.0,245.4L125.2,245.3L130.2,245.0L135.0,244.7L139.5,244.1L143.5,243.5L147.5,242.6L151.5,241.5L155.2,240.3L158.8,238.9L162.2,237.2L165.5,235.3L168.5,233.4L171.5,231.1L173.3,229.5L175.2,227.8L176.9,226.0L178.4,224.2L179.8,222.5L181.2,220.5L182.5,218.5L183.7,216.5L184.7,214.5L185.7,212.2L186.6,210.0L187.3,208.0L187.9,205.8L188.4,203.5L188.9,201.2L189.1,199.0L189.3,196.8L189.4,194.5L189.4,192.0L189.2,189.8L188.9,187.5L188.6,185.2L188.1,183.0L187.4,180.8L186.7,178.5L185.8,176.2L184.8,174.0L183.8,172.0L182.7,170.0L181.4,168.0L180.0,166.0L178.6,164.2L175.8,161.0L172.8,158.2L169.4,155.5L165.8,153.0L162.0,150.9L158.0,149.0L153.8,147.4L149.2,146.0L144.8,145.0L140.2,144.2L135.5,143.6L130.2,143.2L124.0,142.9L116.2,142.8L107.0,142.8L99.5,143.0"/>
<path d="M96.5,149.0L91.8,149.2L87.5,149.5L83.5,150.0L79.8,150.6L76.2,151.4L72.8,152.5L69.5,153.7L66.2,155.1L63.2,156.7L60.2,158.5L57.5,160.5L54.8,162.9L52.2,165.4L50.0,168.0L48.0,170.7L46.3,173.5L44.7,176.5L43.4,179.8L42.3,183.0L41.5,186.5L41.1,189.8L40.8,193.2L40.9,196.8L41.3,200.2L42.0,203.8L42.9,207.0L44.1,210.2L45.5,213.2L47.2,216.2L49.1,219.0L51.3,221.8L53.8,224.4L56.4,226.8L59.2,229.0L62.2,230.9L65.2,232.6L68.5,234.1L72.2,235.6L76.0,236.7L79.8,237.6L83.0,238.2L86.5,238.6L90.0,238.9L94.0,239.1L99.8,239.2L113.0,239.2L127.2,239.2L131.2,239.2L135.0,239.0L138.5,238.7L141.8,238.4L145.0,237.8L148.0,237.2L151.0,236.4L153.8,235.6L156.5,234.5L159.2,233.3L161.8,232.1L164.2,230.6L166.5,229.1L168.8,227.5L171.0,225.6L173.0,223.6L175.8,220.5L177.1,218.8L178.2,217.1L179.4,215.2L180.4,213.5L181.3,211.5L182.1,209.8L182.9,207.8L183.5,205.8L184.0,203.8L184.5,201.8L184.8,199.5L185.0,197.5L185.2,193.5L185.1,191.5L184.9,189.2L184.2,185.2L183.7,183.2L183.1,181.2L181.7,177.5L180.9,175.8L179.9,173.8L177.7,170.2L176.4,168.5L175.0,166.8L172.2,163.8L169.5,161.3L166.5,159.1L163.5,157.1L160.2,155.3L157.0,153.9L153.2,152.5L149.5,151.4L145.8,150.5L142.5,150.0L139.0,149.5L135.5,149.2L131.5,149.0L126.0,149.0L113.5,149.0L96.5,149.0"/>
<path d="M90.0,154.0L86.2,154.2L82.5,154.6L79.0,155.1L75.8,155.9L72.5,156.9L69.5,158.0L66.5,159.4L63.8,160.9L61.0,162.6L58.5,164.6L56.1,166.8L53.9,169.0L51.9,171.5L50.2,174.0L48.6,176.8L47.3,179.5L46.2,182.5L45.4,185.5L44.8,188.5L44.4,191.8L44.4,195.0L44.6,198.0L45.0,201.2L45.8,204.2L46.7,207.2L48.0,210.2L49.5,213.0L51.2,215.8L53.1,218.2L55.2,220.6L57.5,222.8L60.0,224.8L62.5,226.6L65.0,228.1L67.8,229.4L70.8,230.7L73.8,231.7L77.0,232.6L80.2,233.3L83.5,233.8L87.5,234.1L92.0,234.2L96.5,234.2L107.0,233.7L112.2,233.6L118.0,233.7L131.8,234.2L135.8,234.2L139.5,234.0L142.2,233.8L145.0,233.4L147.5,233.0L150.0,232.4L152.5,231.7L155.0,230.8L157.2,229.9L159.5,228.8L161.8,227.6L163.8,226.4L165.8,225.0L167.5,223.6L169.2,222.1L171.0,220.4L172.7,218.5L174.1,216.8L176.2,213.5L178.0,210.2L179.4,206.8L180.5,203.2L181.2,199.8L181.6,196.0L181.6,192.2L181.2,188.5L180.5,184.8L179.4,181.2L177.9,177.8L176.1,174.5L174.0,171.4L171.6,168.5L169.0,165.9L166.0,163.4L163.5,161.6L161.0,160.1L158.2,158.8L155.5,157.6L152.5,156.5L149.5,155.7L146.2,155.0L143.0,154.5L139.0,154.1L134.5,154.0L129.8,154.0L118.5,154.5L113.0,154.6L107.5,154.5L95.8,154.0L90.0,154.0"/>
<path d="M83.2,158.2L80.0,158.6L77.0,159.2L74.0,160.0L71.2,160.9L68.5,162.1L65.8,163.5L63.2,165.0L61.0,166.6L58.7,168.5L56.8,170.5L55.0,172.5L53.2,174.9L51.8,177.2L50.5,179.8L49.4,182.2L48.6,185.0L47.9,187.8L47.5,190.5L47.3,193.2L47.4,196.2L47.7,199.0L48.2,201.8L48.9,204.5L50.0,207.2L51.1,209.8L52.5,212.2L54.2,214.7L56.0,216.9L58.0,219.0L60.2,221.0L62.5,222.7L65.0,224.3L67.2,225.5L69.5,226.6L71.8,227.5L74.2,228.3L76.8,228.9L79.2,229.4L81.8,229.8L84.5,230.1L88.2,230.2L92.5,230.1L96.5,229.8L106.8,228.8L109.8,228.7L112.7,228.6L115.8,228.6L118.8,228.8L129.8,229.8L134.5,230.1L139.5,230.2L142.0,230.0L144.2,229.8L146.8,229.4L149.0,229.0L151.2,228.4L153.5,227.7L155.8,226.9L157.8,226.0L159.8,225.0L161.8,223.9L163.8,222.5L165.5,221.2L167.2,219.8L168.8,218.3L170.2,216.6L171.6,215.0L172.8,213.2L173.9,211.5L175.5,208.5L176.8,205.2L177.8,202.0L178.4,198.8L178.7,195.5L178.6,192.0L178.2,188.5L177.5,185.2L176.5,182.0L175.0,178.8L173.3,175.8L171.4,173.0L169.2,170.5L166.7,168.0L164.0,165.8L161.0,163.9L159.0,162.8L156.8,161.7L154.5,160.8L152.0,160.0L149.5,159.3L147.0,158.8L144.5,158.4L141.8,158.2L137.8,158.0L133.5,158.1L129.5,158.4L119.0,159.4L116.0,159.6L113.0,159.6L110.0,159.6L107.0,159.4L96.5,158.4L92.0,158.1L87.5,158.0L83.2,158.2"/>
<path d="M82.5,161.5L79.5,161.8L76.8,162.3L74.0,163.0L71.5,163.9L69.0,164.9L66.5,166.2L64.2,167.6L62.0,169.2L60.0,170.9L58.2,172.7L56.5,174.8L54.9,177.0L53.6,179.2L52.4,181.8L51.4,184.2L50.7,186.8L50.2,189.5L49.9,192.0L49.9,194.8L50.0,197.2L50.4,200.0L51.0,202.5L51.8,205.0L52.9,207.5L54.0,209.8L55.5,212.1L57.2,214.2L59.0,216.2L61.0,218.2L63.0,219.7L65.2,221.3L67.5,222.5L69.2,223.4L71.2,224.2L73.2,224.9L75.2,225.5L77.2,226.0L79.5,226.4L81.5,226.6L83.8,226.8L87.8,226.8L92.0,226.5L96.2,226.0L106.8,224.3L109.8,224.0L112.8,223.9L115.8,224.0L119.0,224.3L130.5,226.1L135.5,226.7L138.2,226.8L141.0,226.8L143.5,226.7L146.0,226.4L148.2,226.1L150.2,225.6L152.2,225.1L154.2,224.4L156.2,223.6L158.2,222.7L160.0,221.7L161.8,220.6L163.5,219.4L165.0,218.2L166.5,216.7L168.0,215.2L169.2,213.7L170.5,212.0L171.7,210.2L172.6,208.5L173.9,205.8L174.9,202.8L175.6,199.8L176.1,196.5L176.1,193.2L175.9,190.2L175.4,187.2L174.6,184.2L173.4,181.2L172.0,178.5L170.4,176.0L168.5,173.5L166.3,171.2L164.0,169.2L161.3,167.2L158.5,165.7L156.8,164.8L154.8,164.0L152.8,163.3L150.8,162.7L148.8,162.2L146.8,161.9L144.8,161.6L142.5,161.4L138.5,161.4L134.2,161.6L130.0,162.2L119.2,163.9L116.0,164.2L113.0,164.3L110.0,164.2L106.8,163.9L96.0,162.2L91.5,161.6L86.8,161.4L82.5,161.5"/>
<path d="M81.8,164.2L79.0,164.5L76.5,165.0L74.0,165.6L71.5,166.5L69.2,167.4L67.0,168.6L64.8,170.0L62.8,171.5L61.0,173.1L59.2,175.0L57.6,177.0L56.3,179.0L55.2,181.0L54.1,183.2L53.3,185.5L52.7,188.0L52.3,190.2L52.0,192.8L52.0,195.2L52.2,197.8L52.7,200.2L53.3,202.8L54.2,205.0L55.2,207.2L56.3,209.2L57.8,211.4L59.3,213.2L61.0,215.1L62.9,216.8L64.9,218.2L67.0,219.6L69.2,220.8L71.2,221.6L73.2,222.3L75.2,222.9L77.2,223.4L79.2,223.7L81.5,223.9L83.5,224.0L85.8,224.0L89.5,223.8L93.5,223.2L97.2,222.4L105.0,220.5L108.0,219.9L111.0,219.5L114.0,219.5L116.5,219.7L119.2,220.1L122.0,220.7L130.2,222.7L133.0,223.3L135.5,223.6L138.5,224.0L141.2,224.1L144.0,224.0L146.8,223.7L148.8,223.4L150.8,222.9L152.8,222.3L154.5,221.7L156.2,221.0L158.0,220.1L159.8,219.1L161.2,218.2L162.8,217.0L164.3,215.8L165.8,214.3L167.0,212.9L168.2,211.4L169.4,209.8L170.3,208.2L171.2,206.5L172.3,203.8L173.1,201.0L173.7,198.2L174.0,195.2L173.9,192.2L173.6,189.5L173.0,186.8L172.2,184.0L171.0,181.2L169.6,178.8L168.0,176.5L166.1,174.2L164.0,172.2L161.8,170.4L159.2,168.8L156.8,167.4L155.0,166.7L153.0,165.9L151.0,165.3L149.0,164.9L147.0,164.5L144.8,164.3L142.5,164.2L140.2,164.2L136.5,164.4L132.5,165.0L128.8,165.8L121.0,167.7L117.8,168.4L114.8,168.7L111.8,168.7L109.2,168.5L106.5,168.0L96.2,165.6L91.5,164.7L89.0,164.4L86.5,164.2L84.0,164.1L81.8,164.2"/>
<path d="M79.5,166.7L77.0,167.1L74.8,167.6L72.5,168.3L70.5,169.1L68.2,170.3L66.2,171.5L64.5,172.8L62.7,174.2L61.0,175.9L59.5,177.7L58.2,179.5L57.1,181.5L56.1,183.5L55.3,185.5L54.7,187.8L54.2,190.0L54.0,192.2L53.9,194.5L54.0,196.8L54.4,199.0L54.9,201.2L55.6,203.5L56.5,205.5L57.5,207.5L58.8,209.5L60.1,211.2L61.7,213.0L63.3,214.5L65.0,215.9L67.0,217.2L69.0,218.3L71.2,219.4L73.2,220.1L75.0,220.6L77.0,221.1L79.0,221.4L81.0,221.6L83.0,221.7L85.0,221.7L87.2,221.5L91.0,220.9L94.8,220.0L98.2,218.9L105.2,216.5L108.0,215.7L110.8,215.2L112.2,215.1L113.5,215.1L116.0,215.3L118.8,215.9L121.2,216.7L130.0,219.6L133.0,220.5L135.8,221.0L139.0,221.5L142.0,221.7L145.0,221.6L147.8,221.3L149.8,220.9L151.5,220.5L153.2,219.9L155.0,219.3L156.8,218.5L158.2,217.7L159.8,216.7L161.2,215.7L162.8,214.5L164.0,213.2L165.2,212.0L166.5,210.5L167.6,209.0L168.5,207.5L169.3,206.0L170.1,204.2L171.0,201.8L171.6,199.0L172.0,196.5L172.1,193.8L171.9,191.0L171.5,188.5L170.8,186.0L169.9,183.5L168.7,181.0L167.3,178.8L165.7,176.8L163.8,174.8L161.8,172.9L159.5,171.3L157.2,170.0L154.8,168.8L153.0,168.2L151.0,167.6L149.2,167.2L147.2,166.8L145.2,166.6L143.2,166.5L141.2,166.5L139.0,166.7L135.2,167.2L131.5,168.1L127.8,169.2L120.8,171.7L118.0,172.5L115.2,173.0L113.8,173.1L112.5,173.1L110.0,172.9L107.2,172.3L104.8,171.5L96.2,168.6L93.5,167.9L90.8,167.2L87.8,166.8L85.0,166.5L82.2,166.5L79.5,166.7"/>
<path d="M79.0,168.7L76.8,169.1L74.5,169.6L72.5,170.3L70.5,171.1L68.5,172.2L66.8,173.2L65.0,174.5L63.5,175.8L62.0,177.4L60.7,179.0L59.4,180.8L58.3,182.8L57.4,184.8L56.7,186.8L56.1,188.8L55.8,190.8L55.6,192.8L55.6,195.0L55.7,197.0L56.1,199.2L56.6,201.2L57.3,203.2L58.2,205.2L59.2,207.0L60.3,208.8L61.7,210.5L63.1,212.0L64.8,213.5L66.5,214.8L68.2,215.9L70.2,217.0L72.2,217.8L74.0,218.4L76.0,218.9L78.0,219.3L80.0,219.6L82.0,219.7L84.0,219.6L86.2,219.4L88.2,219.1L92.0,218.3L95.8,217.0L99.3,215.5L106.0,212.3L108.5,211.3L109.8,210.9L111.0,210.6L112.2,210.5L113.2,210.5L114.2,210.5L115.5,210.7L118.0,211.5L120.5,212.5L126.2,215.2L129.0,216.5L132.2,217.7L135.2,218.6L138.5,219.3L141.8,219.6L145.0,219.6L148.0,219.3L149.8,219.0L151.5,218.6L153.0,218.1L154.8,217.4L156.2,216.7L157.8,215.9L159.2,215.0L160.8,213.9L162.0,212.8L163.2,211.6L164.5,210.2L165.5,209.0L166.5,207.5L167.4,206.0L168.2,204.5L168.8,203.0L169.5,200.8L170.1,198.2L170.4,195.8L170.4,193.2L170.2,190.8L169.8,188.5L169.1,186.0L168.2,183.8L167.0,181.5L165.7,179.5L164.1,177.5L162.4,175.8L160.5,174.1L158.2,172.6L156.0,171.4L153.8,170.4L152.0,169.8L150.0,169.3L148.0,168.9L146.0,168.6L144.0,168.5L142.0,168.6L140.0,168.7L137.8,169.1L134.0,169.9L130.2,171.2L126.6,172.8L120.0,175.9L117.5,176.9L116.2,177.3L115.0,177.6L113.8,177.7L112.8,177.7L111.8,177.7L110.5,177.5L108.0,176.7L105.5,175.7L99.9,173.0L97.1,171.8L94.2,170.6L91.2,169.7L88.2,169.1L85.0,168.6L82.0,168.5L79.0,168.7"/>
<path d="M78.8,170.5L76.8,170.8L74.8,171.3L72.8,171.9L71.0,172.6L69.2,173.5L67.5,174.6L65.8,175.9L64.2,177.2L62.8,178.8L61.6,180.2L60.4,182.0L59.4,183.8L58.7,185.5L58.0,187.5L57.5,189.2L57.2,191.2L57.0,193.2L57.0,195.2L57.2,197.2L57.6,199.2L58.1,201.2L58.8,203.0L59.6,204.8L60.6,206.5L61.8,208.2L63.1,209.8L64.5,211.2L66.0,212.5L67.5,213.6L69.2,214.7L71.0,215.6L73.0,216.4L75.0,217.0L77.0,217.5L79.3,217.8L81.2,217.9L83.2,217.9L85.5,217.7L87.5,217.3L89.8,216.8L91.8,216.2L93.6,215.5L95.5,214.7L97.5,213.6L100.5,211.9L106.8,207.7L109.2,206.2L110.2,205.8L111.2,205.4L112.2,205.3L113.0,205.2L114.0,205.3L115.0,205.5L116.0,205.9L117.0,206.3L119.0,207.5L124.5,211.2L127.5,213.1L130.8,214.8L134.0,216.1L135.8,216.7L137.5,217.1L139.5,217.5L141.2,217.8L143.0,217.9L144.8,217.9L146.5,217.8L148.2,217.6L149.8,217.3L151.5,216.9L153.2,216.3L154.8,215.7L156.2,214.9L157.8,214.1L160.2,212.3L161.5,211.2L162.7,210.0L163.8,208.7L164.7,207.5L165.6,206.2L166.4,204.8L167.1,203.2L167.7,201.8L168.3,199.5L168.8,197.2L169.0,195.0L168.9,192.8L168.7,190.2L168.2,188.0L167.4,185.8L166.6,183.8L165.4,181.8L164.2,180.0L162.8,178.2L161.0,176.5L159.2,175.1L157.2,173.8L155.2,172.8L153.0,171.8L151.0,171.2L149.0,170.7L147.0,170.5L144.8,170.3L142.8,170.3L140.5,170.5L138.5,170.9L136.2,171.4L134.5,171.9L132.5,172.7L130.5,173.5L128.5,174.6L125.6,176.2L119.2,180.5L116.7,182.0L115.8,182.4L114.8,182.8L113.8,182.9L113.0,183.0L112.0,182.9L111.0,182.7L110.0,182.3L109.0,181.9L107.0,180.7L101.5,177.0L98.7,175.2L95.5,173.5L92.2,172.2L90.5,171.6L88.8,171.1L85.5,170.5L83.8,170.4L82.0,170.3L78.8,170.5"/>
<path d="M78.8,172.0L76.8,172.3L75.0,172.7L73.0,173.3L71.2,174.0L69.5,175.0L68.0,175.9L66.5,177.0L65.1,178.2L63.9,179.5L62.7,181.0L61.6,182.5L60.7,184.2L59.9,186.0L59.3,187.8L58.8,189.5L58.5,191.5L58.3,193.2L58.3,195.2L58.5,197.2L58.9,199.0L59.4,201.0L60.1,202.8L60.9,204.5L61.8,206.0L62.9,207.5L64.2,209.0L65.5,210.3L67.0,211.6L68.5,212.6L70.2,213.7L72.0,214.5L73.8,215.1L76.2,215.8L78.8,216.2L81.2,216.4L83.8,216.3L86.5,215.9L89.0,215.2L91.5,214.4L94.0,213.2L96.2,212.0L98.4,210.5L100.6,208.8L102.8,206.8L104.6,205.0L106.3,203.0L108.6,200.2L112.0,195.7L112.5,195.1L112.8,194.9L113.0,194.8L113.2,194.9L113.8,195.4L118.2,201.2L121.2,204.7L124.2,207.8L127.2,210.3L129.0,211.5L130.7,212.5L132.5,213.5L134.2,214.3L136.0,214.9L138.0,215.5L139.8,215.9L141.8,216.2L143.8,216.4L145.8,216.3L147.8,216.2L149.8,215.8L151.8,215.3L153.5,214.7L155.2,213.9L157.0,212.9L158.8,211.8L160.2,210.5L161.6,209.2L162.9,207.8L164.0,206.3L165.1,204.5L165.9,202.8L166.6,201.0L167.1,199.0L167.5,196.8L167.7,194.8L167.6,192.5L167.4,190.2L166.9,188.2L166.2,186.2L165.3,184.2L164.2,182.3L163.0,180.6L161.6,179.0L160.0,177.4L158.2,176.1L156.2,174.8L154.2,173.8L152.2,173.1L149.8,172.4L147.2,172.0L144.8,171.8L142.2,171.9L139.5,172.3L137.0,173.0L134.5,173.8L131.9,175.0L129.7,176.2L127.5,177.8L125.3,179.5L123.1,181.5L121.4,183.2L119.6,185.2L117.4,188.0L114.0,192.5L113.5,193.1L113.0,193.4L112.8,193.3L112.2,192.8L107.4,186.5L105.7,184.5L103.9,182.5L102.1,180.8L100.2,179.1L98.5,177.8L96.5,176.4L94.5,175.2L92.2,174.1L90.0,173.3L87.8,172.6L85.5,172.2L83.2,171.9L81.0,171.8L78.8,172.0"/>
</g>
<line x1="112.6" y1="113.5" x2="112.6" y2="272.5" stroke="#96929c" stroke-width="0.9"/>
<g stroke="#5a6aa0" stroke-width="0.6" fill="none"><path d="M112.6,143.6 L103.7,157 L112.6,169.5 L121.7,157 Z"/></g>
<path d="M102.0,159.0 l4.0,-5.0 l1.9,3.9 z" fill="#3e4e8c"/>
<path d="M123.4,158.4 l-4.0,-5.0 l-1.9,3.9 z" fill="#3e4e8c"/>
<line x1="112.6" y1="143.6" x2="112.6" y2="166" stroke="#48c468" stroke-width="0.9"/>
<path d="M110.6,164.5 h4 l-2,6 z" fill="#25a845"/>
<circle cx="112.6" cy="143.6" r="2.1" fill="#1a5a2a"/>
<circle cx="113.1" cy="142.6" r="1.1" fill="#55cc77"/>
<line x1="112.6" y1="221" x2="112.6" y2="244" stroke="#9fdc9f" stroke-width="1.1"/>
<circle cx="112.89999999999999" cy="221.3" r="1.5" fill="#8fdc8f"/>
<circle cx="113.1" cy="243" r="1.5" fill="#a0e0a0"/>
<circle cx="112.6" cy="245.2" r="1.9" fill="#2a3a2a"/>
<circle cx="78.6" cy="194.4" r="7.0" fill="url(#gBlue)"/>
<text x="75.89999999999999" y="185.7" font-family="Liberation Sans,sans-serif" font-style="italic" font-size="7.8" fill="#2a2a2a" stroke="#2a2a2a" stroke-width="0.25">M</text>
<circle cx="146.0" cy="194.4" r="7.0" fill="url(#gBlue)"/>
<text x="143.3" y="185.7" font-family="Liberation Sans,sans-serif" font-style="italic" font-size="7.8" fill="#2a2a2a" stroke="#2a2a2a" stroke-width="0.25">M</text>
</g>
<path d="M221.5,113.5 H4.3 V272.5 H221.5" fill="none" stroke="#2a2a2a" stroke-width="1"/>
<line x1="221.5" y1="113.5" x2="221.5" y2="272.5" stroke="#999" stroke-width="1"/>
</g>
<g id="p2">
<clipPath id="c2"><rect x="247.5" y="113.5" width="211.0" height="159.0"/></clipPath>
<rect x="247.5" y="113.5" width="211.0" height="159.0" fill="#eeeeec"/>
<g clip-path="url(#c2)">
<g fill="none" stroke="#e9e9ff" stroke-width="3" opacity="0.95">
<path d="M401.5,160.0L400.2,160.2L398.8,160.6L397.5,161.1L396.2,161.7L395.0,162.5L394.0,163.2L392.9,164.2L392.0,165.3L391.1,166.5L390.4,167.8L389.8,169.0L389.4,170.2L389.0,171.5L388.8,173.0L388.8,174.5L388.9,175.8L389.1,177.0L389.4,178.2L389.8,179.5L390.5,180.8L391.2,182.0L392.0,183.0L393.0,184.0L394.0,184.9L395.0,185.6L396.2,186.4L397.5,186.9L399.0,187.4L400.2,187.7L401.8,187.9L403.2,188.0L404.5,187.9L406.0,187.6L407.3,187.3L408.5,186.8L409.8,186.3L411.0,185.5L412.0,184.8L413.1,183.8L414.1,182.8L414.8,181.8L415.6,180.5L416.2,179.2L416.7,177.8L417.1,176.2L417.3,175.0L417.3,173.8L417.2,172.2L417.0,170.8L416.6,169.5L416.2,168.2L415.5,167.0L414.8,165.8L414.0,164.8L413.0,163.8L412.0,162.9L411.0,162.1L409.8,161.4L408.5,160.9L407.0,160.4L405.8,160.1L404.2,159.9L402.8,159.9L401.5,160.0 M316.2,177.5L313.2,177.9L310.5,178.5L307.8,179.4L305.0,180.5L302.5,181.9L300.0,183.6L297.8,185.5L295.8,187.6L294.0,189.8L292.3,192.2L291.0,194.8L289.9,197.5L289.0,200.2L288.5,203.2L288.2,206.2L288.2,209.0L288.6,212.0L289.1,214.8L290.0,217.5L291.1,220.0L292.4,222.5L294.1,225.0L295.9,227.2L298.0,229.3L300.2,231.1L302.8,232.7L305.2,234.1L308.0,235.2L310.8,236.0L313.8,236.6L316.5,236.8L319.5,236.8L322.5,236.5L325.5,235.9L328.2,235.0L331.0,233.9L333.8,232.4L336.2,230.7L338.6,228.8L340.8,226.5L342.6,224.2L344.3,221.8L345.8,219.0L346.9,216.2L347.8,213.2L348.4,210.5L348.7,207.5L348.7,204.5L348.3,201.5L347.8,198.8L346.9,196.0L345.7,193.5L344.3,191.0L342.7,188.8L340.7,186.5L338.5,184.5L336.0,182.6L333.5,181.1L330.8,179.8L328.0,178.8L325.2,178.1L322.2,177.6L319.2,177.4L316.2,177.5"/>
<path d="M402.0,159.0L400.5,159.2L399.0,159.5L397.8,159.9L396.2,160.6L395.0,161.2L393.8,162.1L392.7,163.0L391.5,164.2L390.6,165.2L389.7,166.5L389.1,167.8L388.4,169.2L387.9,170.8L387.7,172.0L387.5,173.5L387.5,175.0L387.6,176.5L387.9,177.8L388.3,179.2L388.8,180.5L389.5,181.8L390.3,183.0L391.2,184.1L392.2,185.1L393.4,186.0L394.5,186.8L395.8,187.4L397.2,188.1L398.8,188.5L400.2,188.8L401.8,189.0L403.2,189.0L404.8,188.9L406.2,188.6L407.8,188.2L409.0,187.7L410.5,186.9L411.8,186.1L413.0,185.1L414.0,184.2L415.0,183.0L415.9,181.8L416.6,180.5L417.1,179.2L417.6,177.8L418.0,176.2L418.1,174.8L418.2,173.2L418.0,171.8L417.7,170.2L417.4,169.0L416.8,167.5L416.1,166.2L415.3,165.0L414.2,163.8L413.2,162.8L412.0,161.8L410.8,161.0L409.5,160.3L408.0,159.7L406.5,159.3L405.0,159.0L403.5,158.9L402.0,159.0 M317.0,175.7L313.8,176.1L310.8,176.7L307.8,177.6L305.0,178.8L302.2,180.2L299.8,181.8L297.2,183.8L295.0,186.0L293.1,188.2L291.4,190.8L289.9,193.5L288.7,196.2L287.7,199.2L287.1,202.2L286.7,205.3L286.7,208.2L286.9,211.2L287.4,214.2L288.3,217.2L289.4,220.0L290.8,222.8L292.4,225.2L294.3,227.8L296.5,230.0L299.0,232.1L301.5,233.8L304.2,235.3L307.0,236.5L310.0,237.4L313.0,238.0L316.0,238.4L319.0,238.4L322.2,238.1L325.2,237.6L328.2,236.7L331.2,235.5L334.2,234.0L336.9,232.2L339.4,230.2L341.8,228.0L343.9,225.5L345.8,222.8L347.3,220.0L348.6,217.0L349.6,214.0L350.3,210.8L350.7,207.5L350.7,204.5L350.5,201.5L349.9,198.5L349.1,195.8L347.9,193.0L346.5,190.5L344.7,188.0L342.8,185.8L340.5,183.6L338.0,181.7L335.2,179.9L332.5,178.6L329.5,177.4L326.5,176.6L323.2,176.0L320.0,175.7L317.0,175.7"/>
<path d="M401.2,158.0L399.8,158.2L398.0,158.6L396.5,159.2L395.0,159.9L393.6,160.8L392.2,161.7L391.1,162.8L390.0,163.9L389.0,165.2L388.2,166.5L387.4,168.0L386.8,169.5L386.4,171.0L386.1,172.5L385.9,174.2L385.9,175.8L386.1,177.2L386.4,178.8L386.9,180.2L387.6,181.8L388.4,183.0L389.3,184.2L390.4,185.5L391.5,186.5L392.8,187.4L394.0,188.2L395.5,188.9L397.0,189.4L398.5,189.8L400.2,190.1L402.0,190.3L403.5,190.2L405.0,190.1L406.8,189.7L408.2,189.2L409.8,188.6L411.2,187.8L412.5,186.9L413.8,185.9L415.0,184.6L416.0,183.4L416.9,182.0L417.7,180.5L418.3,179.0L418.7,177.5L419.0,176.0L419.1,174.5L419.1,172.8L418.9,171.2L418.6,169.8L418.1,168.2L417.5,166.8L416.6,165.2L415.7,164.0L414.6,162.8L413.5,161.7L412.2,160.7L410.8,159.8L409.2,159.1L407.8,158.6L406.0,158.2L404.5,158.0L403.0,157.9L401.2,158.0 M315.5,174.0L312.2,174.5L309.0,175.3L306.0,176.3L303.0,177.7L300.2,179.3L297.5,181.3L295.0,183.5L292.8,186.0L290.8,188.5L289.1,191.2L287.6,194.2L286.5,197.2L285.7,200.2L285.2,203.5L285.0,206.8L285.1,210.0L285.5,213.2L286.3,216.5L287.3,219.5L288.7,222.5L290.3,225.2L292.2,227.9L294.3,230.2L296.8,232.5L299.2,234.4L302.0,236.1L305.0,237.5L308.0,238.6L311.0,239.4L314.2,240.0L317.5,240.2L320.8,240.1L324.2,239.6L327.5,238.9L330.8,237.7L333.8,236.4L336.8,234.6L339.5,232.7L342.0,230.5L344.4,228.0L346.5,225.2L348.4,222.2L350.0,219.2L351.3,216.0L352.2,212.8L352.9,209.2L353.2,205.8L353.1,202.5L352.6,199.2L351.9,196.2L350.9,193.5L349.6,190.8L347.8,188.0L345.8,185.5L343.5,183.1L341.0,181.0L338.2,179.2L335.2,177.5L332.2,176.2L329.0,175.1L325.8,174.4L322.2,173.9L318.8,173.8L315.5,174.0"/>
<path d="M401.2,156.7L399.5,157.0L397.8,157.4L396.0,158.0L394.5,158.6L393.0,159.5L391.5,160.5L390.0,161.8L388.8,163.0L387.7,164.2L386.7,165.7L385.9,167.2L385.1,169.0L384.5,170.8L384.1,172.5L383.9,174.2L383.9,176.0L384.1,177.8L384.4,179.2L384.8,180.8L385.5,182.2L386.3,183.8L387.2,185.0L388.3,186.2L389.5,187.3L390.8,188.3L392.3,189.2L393.8,190.0L395.5,190.7L397.2,191.2L399.0,191.5L400.8,191.7L402.5,191.7L404.2,191.6L406.0,191.3L407.8,190.8L409.5,190.1L411.2,189.2L412.8,188.3L414.1,187.2L415.4,186.0L416.5,184.7L417.5,183.2L418.4,181.8L419.1,180.0L419.6,178.5L420.0,176.8L420.2,175.0L420.2,173.2L420.1,171.5L419.7,169.8L419.2,168.0L418.6,166.5L417.8,165.0L416.7,163.5L415.7,162.2L414.4,161.0L413.0,159.9L411.5,158.9L410.0,158.2L408.2,157.5L406.5,157.1L404.8,156.8L403.0,156.7L401.2,156.7 M316.8,171.7L313.2,172.2L309.8,172.9L306.5,174.0L303.2,175.4L300.2,177.0L297.3,179.0L294.8,181.1L292.2,183.6L290.0,186.2L288.2,189.0L286.5,192.0L285.2,195.2L284.2,198.5L283.4,202.0L283.1,205.2L283.1,208.8L283.4,212.3L284.0,215.5L285.0,218.8L286.3,222.0L287.9,225.0L289.9,228.0L292.0,230.5L294.4,233.0L297.2,235.2L300.0,237.1L303.0,238.7L306.2,240.1L309.5,241.1L313.0,241.8L316.2,242.1L319.8,242.1L323.2,241.8L327.0,241.1L330.5,240.0L333.8,238.7L337.0,236.9L338.8,235.8L340.2,234.8L343.0,232.5L345.8,229.8L348.2,226.8L350.3,223.8L352.0,220.5L353.6,217.0L354.7,213.5L355.5,209.8L356.0,206.0L356.0,202.5L355.7,199.2L355.1,196.0L354.1,193.0L352.8,190.2L351.2,187.5L349.1,184.8L346.7,182.2L344.0,180.0L341.0,177.9L338.0,176.1L334.8,174.6L331.2,173.4L327.8,172.5L324.0,171.9L320.2,171.6L316.8,171.7"/>
<path d="M399.5,155.5L397.5,155.9L395.8,156.4L393.8,157.2L392.0,158.2L390.3,159.2L388.8,160.5L387.4,161.8L386.1,163.2L384.8,165.0L383.7,166.8L382.9,168.5L382.1,170.5L381.6,172.2L381.3,174.2L381.1,176.2L381.2,178.0L381.4,179.5L381.9,181.2L382.6,183.0L383.4,184.5L384.4,186.0L385.5,187.2L386.8,188.4L388.1,189.5L389.8,190.5L391.5,191.4L393.2,192.2L395.2,192.8L397.0,193.2L399.0,193.4L401.0,193.5L403.0,193.4L405.0,193.1L407.0,192.7L409.0,192.0L410.8,191.2L412.5,190.2L414.0,189.1L415.5,187.8L416.8,186.5L418.0,185.0L419.1,183.2L420.0,181.5L420.6,179.8L421.1,178.0L421.4,176.0L421.5,174.0L421.5,172.2L421.2,170.2L420.7,168.5L420.1,166.8L419.2,165.0L418.1,163.2L417.0,161.8L415.8,160.5L414.2,159.2L412.8,158.2L411.0,157.2L409.2,156.5L407.2,155.8L405.2,155.5L403.5,155.3L401.5,155.3L399.5,155.5 M318.0,169.2L314.2,169.6L310.5,170.3L307.0,171.4L303.5,172.7L300.2,174.4L297.0,176.4L294.2,178.6L291.5,181.2L289.2,183.8L287.0,186.8L285.1,190.0L283.6,193.2L282.4,196.8L281.6,200.2L281.1,203.8L280.9,207.5L281.1,211.2L281.7,214.8L282.6,218.2L283.9,221.8L285.5,225.0L287.5,228.2L289.6,231.0L292.1,233.8L294.8,236.1L297.8,238.3L301.0,240.1L304.2,241.6L307.8,242.8L311.2,243.7L315.0,244.2L318.8,244.4L320.8,244.3L322.8,244.1L324.8,243.8L326.8,243.4L330.5,242.4L332.5,241.7L334.2,241.0L337.8,239.2L339.5,238.2L341.2,237.0L342.9,235.8L344.5,234.4L346.1,233.0L347.5,231.5L350.1,228.5L351.4,226.8L352.6,225.0L354.6,221.5L355.6,219.5L356.5,217.5L357.9,213.5L358.4,211.5L358.9,209.2L359.5,205.2L359.7,203.2L359.7,201.2L359.5,198.0L358.9,194.8L358.0,191.8L357.3,190.2L356.6,188.8L354.9,186.0L352.9,183.5L350.4,181.0L347.5,178.5L344.2,176.2L340.7,174.2L337.0,172.5L333.2,171.2L329.5,170.2L325.8,169.5L321.8,169.2L318.0,169.2"/>
<path d="M399.8,153.7L397.5,154.1L395.5,154.6L393.2,155.4L391.2,156.3L389.3,157.5L387.5,158.8L385.7,160.2L384.0,162.0L382.5,163.8L381.1,165.8L379.8,168.0L378.7,170.2L377.8,172.5L377.2,174.8L376.8,177.0L376.6,179.0L376.7,180.8L377.0,182.2L377.4,183.8L378.1,185.2L378.9,186.5L379.9,187.8L381.1,189.0L382.6,190.2L384.5,191.5L386.3,192.5L388.2,193.4L390.5,194.3L392.5,194.8L394.8,195.3L397.0,195.6L399.2,195.7L401.8,195.6L404.0,195.4L406.2,194.9L408.5,194.2L410.5,193.3L412.5,192.2L414.2,191.1L416.0,189.6L417.6,188.0L419.0,186.3L420.2,184.5L421.2,182.5L422.0,180.5L422.5,178.5L422.9,176.5L423.0,174.2L422.9,172.0L422.6,170.0L422.1,168.0L421.3,166.0L420.3,164.0L419.2,162.2L417.8,160.5L416.2,158.9L414.5,157.5L412.8,156.4L410.8,155.4L408.8,154.6L406.5,154.1L404.2,153.7L402.0,153.6L399.8,153.7 M317.8,166.5L313.8,167.0L309.8,167.8L306.0,168.9L302.2,170.5L298.8,172.3L295.5,174.4L293.8,175.7L292.2,177.0L289.5,179.6L287.0,182.6L284.8,185.8L283.7,187.5L282.8,189.2L281.2,192.8L280.0,196.5L279.1,200.2L278.6,204.0L278.5,206.0L278.5,208.0L278.6,210.0L278.8,212.0L279.4,215.8L280.5,219.5L281.8,223.0L283.6,226.5L285.6,229.8L288.0,232.9L289.2,234.3L290.8,235.8L293.8,238.4L297.0,240.7L298.8,241.7L300.5,242.6L304.0,244.2L307.8,245.4L311.5,246.2L315.5,246.7L319.5,246.8L321.8,246.7L323.8,246.5L326.0,246.2L328.2,245.7L330.5,245.1L332.5,244.5L334.8,243.6L336.8,242.7L338.8,241.7L340.8,240.5L342.7,239.2L344.5,238.0L346.2,236.6L348.0,235.0L349.6,233.5L351.2,231.8L352.7,230.0L354.2,228.0L355.6,226.0L356.9,224.0L358.1,221.8L359.2,219.8L360.2,217.5L361.1,215.2L362.0,212.8L362.8,210.2L363.4,207.8L364.1,205.0L364.5,202.5L364.8,200.0L365.0,197.8L365.0,195.8L364.9,194.2L364.7,192.8L364.4,191.2L364.1,190.0L363.6,188.8L363.0,187.5L361.5,185.2L360.5,184.0L359.4,182.8L358.1,181.5L356.4,180.0L353.3,177.5L349.5,175.0L345.6,172.8L341.8,170.9L337.8,169.3L333.8,168.1L329.8,167.2L325.8,166.6L321.8,166.4L317.8,166.5"/>
<path d="M399.5,151.7L397.8,151.9L395.8,152.3L394.0,152.8L392.2,153.4L390.5,154.1L388.8,155.0L387.0,156.0L385.5,157.0L382.6,159.2L379.6,162.0L377.2,164.8L372.5,170.4L370.8,172.3L369.5,173.4L368.5,174.0L367.5,174.5L366.2,174.8L365.0,174.9L363.5,174.8L362.0,174.5L360.2,174.0L357.0,172.8L349.4,169.5L345.5,167.9L341.8,166.6L338.0,165.4L334.8,164.6L331.2,163.9L328.0,163.5L324.8,163.2L320.8,163.2L316.8,163.4L312.7,164.0L309.0,164.8L305.2,166.0L301.8,167.4L298.2,169.2L295.0,171.2L293.2,172.5L291.5,173.9L289.9,175.2L288.3,176.8L286.9,178.2L285.5,179.9L283.0,183.2L281.9,185.0L280.8,187.0L279.0,190.8L278.3,192.8L277.6,194.8L276.6,198.8L276.2,201.0L276.0,203.0L275.8,205.0L275.8,207.2L275.8,209.5L276.0,211.5L276.6,215.5L277.1,217.5L277.6,219.5L278.3,221.5L279.1,223.5L280.0,225.5L280.8,227.2L282.0,229.2L283.1,231.0L284.4,232.8L285.8,234.5L287.2,236.1L288.8,237.7L290.2,239.0L292.0,240.5L293.8,241.8L295.5,243.0L297.2,244.0L299.2,245.1L301.3,246.0L303.2,246.9L305.2,247.6L307.2,248.2L309.2,248.7L311.5,249.1L313.5,249.4L315.8,249.6L317.8,249.7L320.0,249.7L322.2,249.6L324.5,249.3L326.5,249.0L328.8,248.6L330.8,248.1L333.0,247.4L335.2,246.6L337.2,245.8L339.2,244.8L341.2,243.8L345.0,241.5L347.0,240.0L348.9,238.5L350.8,236.9L352.5,235.2L354.1,233.5L355.9,231.5L357.5,229.5L358.9,227.5L361.7,223.2L364.2,218.8L366.3,214.2L370.0,206.0L371.5,203.0L372.4,201.5L373.2,200.3L374.2,199.2L375.1,198.5L376.0,197.9L377.2,197.4L378.5,197.2L379.8,197.0L381.2,197.1L383.0,197.2L391.8,198.4L395.8,198.6L398.2,198.6L400.8,198.4L403.2,198.1L405.5,197.5L408.0,196.8L410.2,195.8L412.5,194.7L414.8,193.2L416.8,191.6L418.5,189.9L420.1,188.0L421.4,186.0L422.1,184.8L422.8,183.2L423.4,181.8L423.9,180.2L424.3,178.8L424.5,177.2L424.7,175.8L424.7,174.0L424.7,172.5L424.5,171.0L424.3,169.5L423.9,168.0L423.4,166.5L422.8,165.0L422.0,163.5L421.3,162.2L420.4,161.0L419.5,159.8L418.3,158.5L417.2,157.5L416.0,156.5L414.8,155.6L413.5,154.8L412.0,154.0L410.5,153.3L409.0,152.8L407.5,152.4L406.0,152.0L404.5,151.8L402.8,151.7L401.2,151.7L399.5,151.7"/>
<path d="M397.5,149.5L394.8,149.9L391.8,150.7L389.0,151.6L386.2,152.9L383.6,154.2L380.8,156.0L378.2,157.8L373.0,161.5L370.2,163.3L368.8,164.1L367.2,164.8L366.0,165.2L364.5,165.6L362.8,165.8L361.0,165.9L359.0,165.8L356.8,165.5L352.8,164.6L344.5,162.4L340.5,161.4L336.8,160.6L333.2,160.1L330.0,159.7L327.0,159.4L323.8,159.3L320.8,159.4L316.8,159.7L313.0,160.3L309.2,161.1L305.5,162.3L302.0,163.6L298.5,165.2L295.2,167.1L292.2,169.1L290.4,170.5L288.6,172.0L287.0,173.5L285.3,175.2L283.7,177.0L282.3,178.8L281.0,180.5L279.7,182.5L278.5,184.5L277.4,186.5L276.4,188.8L275.6,190.8L274.9,192.8L274.2,195.0L273.7,197.2L273.2,199.5L272.9,201.8L272.7,204.0L272.6,206.2L272.6,208.5L272.8,210.8L273.0,213.0L273.3,215.2L273.8,217.5L274.4,219.8L275.1,222.0L276.0,224.2L276.8,226.2L277.8,228.2L278.9,230.2L280.2,232.2L281.4,234.0L283.6,236.8L286.0,239.4L288.5,241.8L291.4,244.0L294.3,246.0L297.5,247.8L300.8,249.3L304.0,250.5L307.5,251.6L311.0,252.3L314.5,252.8L318.0,253.0L321.8,252.9L325.2,252.6L329.0,252.0L332.5,251.1L335.5,250.2L338.5,249.0L341.5,247.6L344.2,246.2L347.0,244.5L349.8,242.5L352.5,240.4L355.0,238.1L357.2,236.0L359.3,233.8L361.4,231.2L363.3,228.8L366.8,223.8L373.0,214.1L375.2,211.0L376.3,209.8L377.5,208.5L378.8,207.4L379.9,206.5L381.2,205.7L382.8,205.0L384.2,204.5L386.0,204.0L389.2,203.4L396.0,202.6L399.0,202.2L402.0,201.6L405.0,200.8L407.8,199.9L410.5,198.7L413.0,197.4L415.5,195.7L417.2,194.3L419.0,192.8L420.4,191.2L421.8,189.5L422.9,187.8L424.0,185.8L425.0,183.8L425.7,181.8L426.2,179.8L426.6,177.8L426.8,175.5L426.8,173.5L426.6,171.2L426.3,169.2L425.8,167.2L425.1,165.2L424.2,163.2L423.2,161.5L422.0,159.8L420.8,158.1L419.2,156.5L417.8,155.2L416.0,153.9L414.2,152.8L412.2,151.8L410.2,150.9L408.2,150.3L406.2,149.8L404.0,149.5L402.0,149.3L399.8,149.3L397.5,149.5"/>
<path d="M397.0,146.5L394.5,146.8L392.0,147.2L389.5,147.8L387.0,148.6L384.5,149.5L381.8,150.6L372.8,154.8L369.5,156.2L367.5,156.9L365.8,157.4L364.0,157.8L362.0,158.1L360.2,158.2L358.2,158.3L354.2,158.1L350.2,157.6L337.5,155.6L333.2,155.2L329.2,154.9L325.0,154.8L321.0,155.0L317.0,155.4L313.2,156.0L310.0,156.7L306.8,157.6L303.5,158.7L300.5,159.9L297.5,161.3L294.5,163.0L291.8,164.7L289.0,166.7L287.1,168.2L285.2,169.9L283.5,171.6L281.7,173.5L280.2,175.3L278.7,177.2L277.3,179.2L275.9,181.5L274.7,183.8L273.6,186.0L272.6,188.2L271.7,190.5L271.0,192.8L270.4,195.2L269.8,197.8L269.4,200.2L269.1,202.8L269.0,205.2L269.0,207.5L269.0,210.0L269.3,212.5L269.6,215.0L270.1,217.5L270.6,219.8L271.4,222.2L272.2,224.5L273.1,226.8L274.1,229.0L275.3,231.2L276.5,233.2L277.8,235.2L279.3,237.2L281.5,240.0L284.2,242.8L287.2,245.4L290.2,247.7L293.5,249.8L296.8,251.5L300.2,253.1L303.8,254.4L307.5,255.4L311.2,256.2L315.0,256.6L318.8,256.8L322.8,256.7L326.5,256.4L330.2,255.7L334.0,254.8L337.0,253.9L340.0,252.8L343.0,251.4L345.8,250.1L348.5,248.5L351.2,246.7L354.0,244.8L356.5,242.8L358.8,240.8L360.9,238.8L363.1,236.5L365.2,234.2L368.8,230.0L376.0,221.0L378.8,217.8L380.2,216.3L381.7,215.0L383.0,213.9L384.5,212.8L386.0,211.9L387.5,211.0L390.8,209.6L394.0,208.4L403.0,205.6L405.8,204.6L408.0,203.7L410.2,202.6L412.5,201.4L414.8,200.0L416.8,198.6L418.8,196.9L420.5,195.3L422.1,193.5L423.7,191.5L425.0,189.5L426.1,187.5L427.1,185.2L427.9,183.0L428.5,180.8L429.0,178.5L429.2,176.2L429.2,173.8L429.1,171.5L428.7,169.2L428.2,167.0L427.5,164.8L426.5,162.5L425.4,160.5L424.1,158.5L422.8,156.8L421.2,155.1L419.5,153.4L417.8,152.1L415.8,150.7L413.8,149.6L411.5,148.6L409.2,147.8L406.8,147.1L404.2,146.7L402.0,146.5L399.5,146.4L397.0,146.5"/>
<path d="M397.5,142.7L395.0,142.8L392.5,143.1L390.0,143.4L387.2,143.9L382.0,145.3L372.8,148.1L369.0,149.1L365.0,150.0L361.0,150.6L357.0,150.8L352.8,150.8L348.8,150.5L336.5,149.6L332.5,149.5L329.0,149.4L325.0,149.5L321.2,149.8L317.5,150.2L314.0,150.8L310.0,151.6L306.2,152.7L302.5,154.0L298.8,155.5L295.2,157.2L291.8,159.3L288.5,161.4L285.5,163.7L283.5,165.4L281.5,167.3L279.6,169.2L277.8,171.3L276.0,173.5L274.4,175.8L272.9,178.0L271.6,180.2L270.3,182.8L269.1,185.2L268.1,187.8L267.3,190.2L266.5,192.8L265.9,195.5L265.4,198.0L265.0,200.8L264.8,203.2L264.7,206.0L264.7,208.8L264.9,211.5L265.2,214.2L265.6,216.8L266.2,219.5L266.8,222.0L267.6,224.5L268.5,227.0L269.6,229.5L270.8,232.0L272.2,234.5L273.7,236.8L275.2,239.0L276.8,241.0L279.4,244.0L282.2,246.8L285.4,249.5L288.8,251.9L292.2,254.1L295.8,255.9L299.5,257.5L303.2,258.8L307.2,259.9L311.2,260.6L315.2,261.1L319.2,261.3L323.5,261.2L327.5,260.8L331.8,260.1L335.8,259.2L338.5,258.3L341.0,257.5L343.5,256.5L346.0,255.4L348.5,254.1L351.0,252.7L353.5,251.2L356.0,249.6L358.6,247.8L361.1,245.7L363.8,243.5L366.2,241.2L371.0,236.5L379.0,228.0L381.8,225.1L385.0,222.1L388.0,219.6L391.2,217.4L394.8,215.2L398.2,213.5L406.8,209.4L411.0,207.1L414.7,204.8L418.2,202.2L420.2,200.5L422.3,198.5L424.1,196.5L425.8,194.2L427.3,192.0L428.6,189.8L429.7,187.2L430.6,184.8L431.3,182.2L431.8,179.8L432.1,177.2L432.2,174.5L432.1,172.0L431.8,169.5L431.3,167.0L430.5,164.5L429.5,162.0L428.4,159.8L427.0,157.5L425.6,155.5L424.0,153.6L422.1,151.8L420.2,150.1L418.0,148.5L415.8,147.1L413.5,146.0L411.0,145.0L408.5,144.2L406.0,143.6L403.2,143.1L400.5,142.8L397.5,142.7"/>
<path d="M390.7,138.2L387.5,138.5L384.0,139.0L368.8,141.6L365.0,142.2L361.2,142.6L357.2,142.8L353.0,143.0L336.2,142.8L328.8,143.0L324.5,143.2L320.5,143.7L316.5,144.2L312.8,145.0L308.0,146.1L303.2,147.6L298.8,149.4L294.2,151.5L290.0,153.9L286.0,156.5L282.2,159.4L278.8,162.5L276.8,164.5L274.7,166.8L272.8,169.1L270.9,171.5L269.2,174.0L267.6,176.8L266.2,179.2L264.9,182.0L263.8,184.8L262.8,187.5L261.9,190.2L261.1,193.2L260.5,196.0L260.1,199.0L259.8,201.8L259.6,204.8L259.6,207.8L259.7,210.8L260.0,213.5L260.4,216.5L260.9,219.2L261.6,222.2L262.4,225.0L263.5,228.0L264.6,230.8L265.9,233.5L267.2,236.0L268.7,238.5L270.4,241.0L272.1,243.2L274.0,245.6L276.0,247.8L279.0,250.8L282.2,253.5L285.8,256.1L289.2,258.3L293.0,260.3L297.0,262.1L301.0,263.6L305.0,264.7L309.2,265.6L313.5,266.3L317.8,266.6L322.0,266.6L326.5,266.4L330.8,265.8L335.0,265.0L339.2,263.9L342.2,263.0L345.2,261.9L348.2,260.6L351.2,259.2L354.2,257.7L357.0,256.1L359.9,254.2L362.8,252.3L367.2,248.9L371.9,245.0L376.3,241.0L386.8,231.1L389.8,228.5L392.8,226.0L396.0,223.5L399.3,221.2L410.2,214.2L414.5,211.3L418.8,208.1L422.2,205.0L424.5,202.7L426.8,200.1L428.7,197.5L430.4,194.8L431.9,192.0L433.1,189.2L434.2,186.2L435.0,183.2L435.6,180.2L435.9,177.2L435.9,174.2L435.7,171.2L435.3,168.5L434.6,165.5L433.6,162.5L432.5,159.8L431.2,157.2L429.5,154.6L427.7,152.2L425.7,150.0L423.5,148.0L421.2,146.2L418.8,144.4L416.0,142.9L413.2,141.6L410.2,140.5L407.2,139.6L404.2,138.9L401.0,138.4L397.8,138.2L394.2,138.1L390.7,138.2"/>
<path d="M387.2,132.0L380.5,132.3L366.5,133.5L359.8,134.0L353.0,134.2L337.8,134.7L329.5,135.1L324.5,135.6L319.8,136.3L315.2,137.1L310.8,138.1L307.8,138.9L304.8,139.8L299.2,141.8L296.5,142.9L294.0,144.1L291.5,145.4L288.8,146.9L286.2,148.4L284.0,149.9L281.8,151.5L279.5,153.2L277.2,155.1L275.2,156.9L273.2,158.9L271.3,161.0L269.1,163.5L267.1,166.0L265.2,168.8L263.4,171.5L261.7,174.5L260.1,177.5L258.8,180.5L257.6,183.5L256.5,186.5L255.6,189.8L254.8,193.0L254.2,196.2L253.8,199.5L253.5,202.8L253.4,206.0L253.5,209.2L253.7,212.5L254.1,215.8L254.6,219.0L255.3,222.2L256.2,225.5L257.2,228.5L258.3,231.5L259.6,234.5L261.1,237.5L262.6,240.2L264.4,243.0L266.3,245.8L268.2,248.2L270.3,250.8L272.7,253.2L275.1,255.5L278.5,258.4L282.0,261.0L285.8,263.4L289.8,265.6L293.8,267.5L298.0,269.2L302.5,270.6L307.0,271.7L311.5,272.4L316.0,272.9L320.5,273.1L325.2,273.0L329.8,272.6L334.5,271.9L339.0,271.0L343.5,269.7L347.0,268.5L350.5,267.2L354.0,265.7L357.5,264.0L361.0,262.1L364.5,260.0L368.0,257.7L371.5,255.2L375.5,252.2L380.0,248.5L393.8,236.5L399.2,232.0L404.2,228.0L413.8,220.6L417.8,217.3L422.5,213.1L424.5,211.1L426.5,209.0L429.1,206.0L431.4,203.0L433.4,200.0L435.2,196.8L436.8,193.5L438.0,190.3L439.1,186.8L439.8,183.5L440.3,180.0L440.5,176.5L440.5,173.0L440.1,169.8L439.5,166.2L438.6,163.0L437.4,159.8L436.1,156.8L434.4,153.8L432.5,151.0L430.3,148.2L428.0,145.8L425.5,143.5L422.8,141.4L419.8,139.4L416.8,137.7L413.5,136.2L410.2,135.0L406.8,134.0L403.2,133.2L399.5,132.6L395.8,132.2L391.8,132.0L387.2,132.0"/>
<path d="M355.1,274.5L358.5,273.0L362.0,271.4L365.5,269.6L368.8,267.8L372.2,265.7L375.6,263.5L379.0,261.2L382.7,258.5L386.5,255.6L390.6,252.2L401.0,243.5L415.5,230.8L420.0,226.7L423.8,223.1L428.5,218.1L432.4,213.5L434.2,211.1L435.9,208.8L437.4,206.5L438.9,204.0L440.1,201.8L441.3,199.2L442.4,196.8L443.3,194.2L444.2,191.8L444.9,189.2L445.4,186.8L445.9,184.2L446.3,181.0L446.5,178.0L446.5,174.8L446.3,171.8L445.9,168.8L445.4,165.8L444.6,162.8L443.7,159.8L442.5,156.8L441.2,154.0L439.7,151.2L438.1,148.8L436.3,146.2L434.3,143.8L432.2,141.5L429.8,139.2L427.5,137.3L425.0,135.4L422.5,133.8L419.8,132.1L417.0,130.7L414.0,129.4L411.0,128.2L408.0,127.2L404.8,126.3L401.5,125.6L398.0,125.0L394.5,124.5L390.8,124.1L387.0,123.8L382.8,123.7L378.2,123.6L366.8,123.8L347.2,124.5L337.5,125.0L329.5,125.7L325.5,126.2L321.5,126.8L317.8,127.5L314.2,128.2L310.8,129.1L307.2,130.0L304.0,131.0L300.8,132.1L297.2,133.5L293.8,135.0L290.2,136.7L287.0,138.4L283.8,140.4L280.8,142.3L277.8,144.5L274.8,146.8L272.0,149.1L269.5,151.5L267.0,154.0L264.5,156.8L262.2,159.5L260.0,162.5L258.0,165.5L256.2,168.5L254.3,172.0L252.6,175.5L251.0,179.2L249.7,183.0L248.5,186.8L247.6,190.5L246.9,194.2L246.3,198.2L246.0,202.2L245.9,206.2L246.0,210.0L246.3,214.0L246.8,218.0L247.5,221.8L248.4,225.5L249.5,229.2L250.8,233.0L252.3,236.5L253.9,240.0L255.8,243.5L257.8,246.8L260.1,250.0L262.6,253.2L265.2,256.2L267.8,259.0L270.8,261.8L273.8,264.3L277.0,266.8L280.2,269.0L283.5,270.9L287.0,272.8L290.6,274.5"/>
<path d="M245.5,244.2L248.0,248.8L250.6,253.0L253.5,257.0L256.7,261.0L260.2,264.8L263.8,268.2L267.5,271.5L271.4,274.5 M379.2,274.5L384.7,271.0L390.2,267.2L396.0,262.9L402.0,258.1L408.5,252.6L415.2,246.5L421.2,240.8L426.8,235.2L431.0,230.6L434.8,226.2L438.2,221.8L441.2,217.4L444.0,213.0L446.3,208.8L448.5,204.2L450.3,199.8L451.8,195.0L453.0,190.2L453.8,185.2L454.2,180.5L454.3,178.0L454.3,175.5L453.9,170.8L453.2,166.0L452.2,161.5L450.8,157.0L449.9,154.8L448.9,152.5L446.8,148.2L444.4,144.2L441.7,140.5L438.5,136.8L435.0,133.3L431.2,130.0L429.2,128.5L427.0,126.9L424.8,125.5L422.2,124.0L417.5,121.6L415.0,120.5L412.2,119.4L406.8,117.5L401.0,115.9L394.8,114.6L388.2,113.7L384.2,113.2L380.2,112.9L371.5,112.5L361.5,112.3L351.2,112.5L342.0,113.0L333.5,113.7L325.5,114.8L318.0,116.1L311.8,117.5L305.8,119.2L300.0,121.1L294.5,123.2L289.2,125.6L284.0,128.3L279.0,131.3L274.2,134.5L269.8,137.9L265.5,141.6L261.5,145.4L257.8,149.5L254.3,153.8L251.1,158.2L248.1,163.0L245.5,167.9"/>
<path d="M287.7,111.5L281.5,114.6L275.5,118.0L272.5,119.8L269.8,121.7L267.0,123.6L264.2,125.7L261.7,127.8L259.1,130.0L256.6,132.2L254.2,134.6L252.0,136.9L249.8,139.4L247.5,142.0L245.5,144.5 M460.5,153.6L459.2,150.2L457.7,147.0L456.1,143.8L454.4,140.8L452.5,137.8L450.5,134.9L448.2,132.0L446.0,129.4L443.5,126.8L441.0,124.3L438.2,121.9L435.5,119.6L432.5,117.4L429.5,115.4L426.2,113.4L422.8,111.5 M245.5,266.6L249.0,270.7L252.6,274.5 M404.6,274.5L409.5,270.7L414.5,266.5L419.2,262.4L424.0,257.9L428.5,253.5L433.0,248.8L437.0,244.2L440.7,239.8L444.0,235.5L447.2,231.0L450.0,226.7L452.6,222.2L454.9,218.0L457.1,213.5L458.9,209.0L460.5,204.7"/>
<path d="M254.4,111.5L249.9,115.2L245.5,119.3 M460.5,124.1L457.8,120.8L455.0,117.5L452.1,114.5L449.0,111.5 M433.3,274.5L437.2,270.6L441.0,266.7L444.8,262.6L448.3,258.5L451.7,254.2L454.8,250.2L457.7,246.0L460.5,241.7"/>
<path d=""/>
<path d=""/>
</g>
<g fill="none" stroke="#3a36a8" stroke-width="0.54">
<path d="M401.5,160.0L400.2,160.2L398.8,160.6L397.5,161.1L396.2,161.7L395.0,162.5L394.0,163.2L392.9,164.2L392.0,165.3L391.1,166.5L390.4,167.8L389.8,169.0L389.4,170.2L389.0,171.5L388.8,173.0L388.8,174.5L388.9,175.8L389.1,177.0L389.4,178.2L389.8,179.5L390.5,180.8L391.2,182.0L392.0,183.0L393.0,184.0L394.0,184.9L395.0,185.6L396.2,186.4L397.5,186.9L399.0,187.4L400.2,187.7L401.8,187.9L403.2,188.0L404.5,187.9L406.0,187.6L407.3,187.3L408.5,186.8L409.8,186.3L411.0,185.5L412.0,184.8L413.1,183.8L414.1,182.8L414.8,181.8L415.6,180.5L416.2,179.2L416.7,177.8L417.1,176.2L417.3,175.0L417.3,173.8L417.2,172.2L417.0,170.8L416.6,169.5L416.2,168.2L415.5,167.0L414.8,165.8L414.0,164.8L413.0,163.8L412.0,162.9L411.0,162.1L409.8,161.4L408.5,160.9L407.0,160.4L405.8,160.1L404.2,159.9L402.8,159.9L401.5,160.0 M316.2,177.5L313.2,177.9L310.5,178.5L307.8,179.4L305.0,180.5L302.5,181.9L300.0,183.6L297.8,185.5L295.8,187.6L294.0,189.8L292.3,192.2L291.0,194.8L289.9,197.5L289.0,200.2L288.5,203.2L288.2,206.2L288.2,209.0L288.6,212.0L289.1,214.8L290.0,217.5L291.1,220.0L292.4,222.5L294.1,225.0L295.9,227.2L298.0,229.3L300.2,231.1L302.8,232.7L305.2,234.1L308.0,235.2L310.8,236.0L313.8,236.6L316.5,236.8L319.5,236.8L322.5,236.5L325.5,235.9L328.2,235.0L331.0,233.9L333.8,232.4L336.2,230.7L338.6,228.8L340.8,226.5L342.6,224.2L344.3,221.8L345.8,219.0L346.9,216.2L347.8,213.2L348.4,210.5L348.7,207.5L348.7,204.5L348.3,201.5L347.8,198.8L346.9,196.0L345.7,193.5L344.3,191.0L342.7,188.8L340.7,186.5L338.5,184.5L336.0,182.6L333.5,181.1L330.8,179.8L328.0,178.8L325.2,178.1L322.2,177.6L319.2,177.4L316.2,177.5"/>
<path d="M402.0,159.0L400.5,159.2L399.0,159.5L397.8,159.9L396.2,160.6L395.0,161.2L393.8,162.1L392.7,163.0L391.5,164.2L390.6,165.2L389.7,166.5L389.1,167.8L388.4,169.2L387.9,170.8L387.7,172.0L387.5,173.5L387.5,175.0L387.6,176.5L387.9,177.8L388.3,179.2L388.8,180.5L389.5,181.8L390.3,183.0L391.2,184.1L392.2,185.1L393.4,186.0L394.5,186.8L395.8,187.4L397.2,188.1L398.8,188.5L400.2,188.8L401.8,189.0L403.2,189.0L404.8,188.9L406.2,188.6L407.8,188.2L409.0,187.7L410.5,186.9L411.8,186.1L413.0,185.1L414.0,184.2L415.0,183.0L415.9,181.8L416.6,180.5L417.1,179.2L417.6,177.8L418.0,176.2L418.1,174.8L418.2,173.2L418.0,171.8L417.7,170.2L417.4,169.0L416.8,167.5L416.1,166.2L415.3,165.0L414.2,163.8L413.2,162.8L412.0,161.8L410.8,161.0L409.5,160.3L408.0,159.7L406.5,159.3L405.0,159.0L403.5,158.9L402.0,159.0 M317.0,175.7L313.8,176.1L310.8,176.7L307.8,177.6L305.0,178.8L302.2,180.2L299.8,181.8L297.2,183.8L295.0,186.0L293.1,188.2L291.4,190.8L289.9,193.5L288.7,196.2L287.7,199.2L287.1,202.2L286.7,205.3L286.7,208.2L286.9,211.2L287.4,214.2L288.3,217.2L289.4,220.0L290.8,222.8L292.4,225.2L294.3,227.8L296.5,230.0L299.0,232.1L301.5,233.8L304.2,235.3L307.0,236.5L310.0,237.4L313.0,238.0L316.0,238.4L319.0,238.4L322.2,238.1L325.2,237.6L328.2,236.7L331.2,235.5L334.2,234.0L336.9,232.2L339.4,230.2L341.8,228.0L343.9,225.5L345.8,222.8L347.3,220.0L348.6,217.0L349.6,214.0L350.3,210.8L350.7,207.5L350.7,204.5L350.5,201.5L349.9,198.5L349.1,195.8L347.9,193.0L346.5,190.5L344.7,188.0L342.8,185.8L340.5,183.6L338.0,181.7L335.2,179.9L332.5,178.6L329.5,177.4L326.5,176.6L323.2,176.0L320.0,175.7L317.0,175.7"/>
<path d="M401.2,158.0L399.8,158.2L398.0,158.6L396.5,159.2L395.0,159.9L393.6,160.8L392.2,161.7L391.1,162.8L390.0,163.9L389.0,165.2L388.2,166.5L387.4,168.0L386.8,169.5L386.4,171.0L386.1,172.5L385.9,174.2L385.9,175.8L386.1,177.2L386.4,178.8L386.9,180.2L387.6,181.8L388.4,183.0L389.3,184.2L390.4,185.5L391.5,186.5L392.8,187.4L394.0,188.2L395.5,188.9L397.0,189.4L398.5,189.8L400.2,190.1L402.0,190.3L403.5,190.2L405.0,190.1L406.8,189.7L408.2,189.2L409.8,188.6L411.2,187.8L412.5,186.9L413.8,185.9L415.0,184.6L416.0,183.4L416.9,182.0L417.7,180.5L418.3,179.0L418.7,177.5L419.0,176.0L419.1,174.5L419.1,172.8L418.9,171.2L418.6,169.8L418.1,168.2L417.5,166.8L416.6,165.2L415.7,164.0L414.6,162.8L413.5,161.7L412.2,160.7L410.8,159.8L409.2,159.1L407.8,158.6L406.0,158.2L404.5,158.0L403.0,157.9L401.2,158.0 M315.5,174.0L312.2,174.5L309.0,175.3L306.0,176.3L303.0,177.7L300.2,179.3L297.5,181.3L295.0,183.5L292.8,186.0L290.8,188.5L289.1,191.2L287.6,194.2L286.5,197.2L285.7,200.2L285.2,203.5L285.0,206.8L285.1,210.0L285.5,213.2L286.3,216.5L287.3,219.5L288.7,222.5L290.3,225.2L292.2,227.9L294.3,230.2L296.8,232.5L299.2,234.4L302.0,236.1L305.0,237.5L308.0,238.6L311.0,239.4L314.2,240.0L317.5,240.2L320.8,240.1L324.2,239.6L327.5,238.9L330.8,237.7L333.8,236.4L336.8,234.6L339.5,232.7L342.0,230.5L344.4,228.0L346.5,225.2L348.4,222.2L350.0,219.2L351.3,216.0L352.2,212.8L352.9,209.2L353.2,205.8L353.1,202.5L352.6,199.2L351.9,196.2L350.9,193.5L349.6,190.8L347.8,188.0L345.8,185.5L343.5,183.1L341.0,181.0L338.2,179.2L335.2,177.5L332.2,176.2L329.0,175.1L325.8,174.4L322.2,173.9L318.8,173.8L315.5,174.0"/>
<path d="M401.2,156.7L399.5,157.0L397.8,157.4L396.0,158.0L394.5,158.6L393.0,159.5L391.5,160.5L390.0,161.8L388.8,163.0L387.7,164.2L386.7,165.7L385.9,167.2L385.1,169.0L384.5,170.8L384.1,172.5L383.9,174.2L383.9,176.0L384.1,177.8L384.4,179.2L384.8,180.8L385.5,182.2L386.3,183.8L387.2,185.0L388.3,186.2L389.5,187.3L390.8,188.3L392.3,189.2L393.8,190.0L395.5,190.7L397.2,191.2L399.0,191.5L400.8,191.7L402.5,191.7L404.2,191.6L406.0,191.3L407.8,190.8L409.5,190.1L411.2,189.2L412.8,188.3L414.1,187.2L415.4,186.0L416.5,184.7L417.5,183.2L418.4,181.8L419.1,180.0L419.6,178.5L420.0,176.8L420.2,175.0L420.2,173.2L420.1,171.5L419.7,169.8L419.2,168.0L418.6,166.5L417.8,165.0L416.7,163.5L415.7,162.2L414.4,161.0L413.0,159.9L411.5,158.9L410.0,158.2L408.2,157.5L406.5,157.1L404.8,156.8L403.0,156.7L401.2,156.7 M316.8,171.7L313.2,172.2L309.8,172.9L306.5,174.0L303.2,175.4L300.2,177.0L297.3,179.0L294.8,181.1L292.2,183.6L290.0,186.2L288.2,189.0L286.5,192.0L285.2,195.2L284.2,198.5L283.4,202.0L283.1,205.2L283.1,208.8L283.4,212.3L284.0,215.5L285.0,218.8L286.3,222.0L287.9,225.0L289.9,228.0L292.0,230.5L294.4,233.0L297.2,235.2L300.0,237.1L303.0,238.7L306.2,240.1L309.5,241.1L313.0,241.8L316.2,242.1L319.8,242.1L323.2,241.8L327.0,241.1L330.5,240.0L333.8,238.7L337.0,236.9L338.8,235.8L340.2,234.8L343.0,232.5L345.8,229.8L348.2,226.8L350.3,223.8L352.0,220.5L353.6,217.0L354.7,213.5L355.5,209.8L356.0,206.0L356.0,202.5L355.7,199.2L355.1,196.0L354.1,193.0L352.8,190.2L351.2,187.5L349.1,184.8L346.7,182.2L344.0,180.0L341.0,177.9L338.0,176.1L334.8,174.6L331.2,173.4L327.8,172.5L324.0,171.9L320.2,171.6L316.8,171.7"/>
<path d="M399.5,155.5L397.5,155.9L395.8,156.4L393.8,157.2L392.0,158.2L390.3,159.2L388.8,160.5L387.4,161.8L386.1,163.2L384.8,165.0L383.7,166.8L382.9,168.5L382.1,170.5L381.6,172.2L381.3,174.2L381.1,176.2L381.2,178.0L381.4,179.5L381.9,181.2L382.6,183.0L383.4,184.5L384.4,186.0L385.5,187.2L386.8,188.4L388.1,189.5L389.8,190.5L391.5,191.4L393.2,192.2L395.2,192.8L397.0,193.2L399.0,193.4L401.0,193.5L403.0,193.4L405.0,193.1L407.0,192.7L409.0,192.0L410.8,191.2L412.5,190.2L414.0,189.1L415.5,187.8L416.8,186.5L418.0,185.0L419.1,183.2L420.0,181.5L420.6,179.8L421.1,178.0L421.4,176.0L421.5,174.0L421.5,172.2L421.2,170.2L420.7,168.5L420.1,166.8L419.2,165.0L418.1,163.2L417.0,161.8L415.8,160.5L414.2,159.2L412.8,158.2L411.0,157.2L409.2,156.5L407.2,155.8L405.2,155.5L403.5,155.3L401.5,155.3L399.5,155.5 M318.0,169.2L314.2,169.6L310.5,170.3L307.0,171.4L303.5,172.7L300.2,174.4L297.0,176.4L294.2,178.6L291.5,181.2L289.2,183.8L287.0,186.8L285.1,190.0L283.6,193.2L282.4,196.8L281.6,200.2L281.1,203.8L280.9,207.5L281.1,211.2L281.7,214.8L282.6,218.2L283.9,221.8L285.5,225.0L287.5,228.2L289.6,231.0L292.1,233.8L294.8,236.1L297.8,238.3L301.0,240.1L304.2,241.6L307.8,242.8L311.2,243.7L315.0,244.2L318.8,244.4L320.8,244.3L322.8,244.1L324.8,243.8L326.8,243.4L330.5,242.4L332.5,241.7L334.2,241.0L337.8,239.2L339.5,238.2L341.2,237.0L342.9,235.8L344.5,234.4L346.1,233.0L347.5,231.5L350.1,228.5L351.4,226.8L352.6,225.0L354.6,221.5L355.6,219.5L356.5,217.5L357.9,213.5L358.4,211.5L358.9,209.2L359.5,205.2L359.7,203.2L359.7,201.2L359.5,198.0L358.9,194.8L358.0,191.8L357.3,190.2L356.6,188.8L354.9,186.0L352.9,183.5L350.4,181.0L347.5,178.5L344.2,176.2L340.7,174.2L337.0,172.5L333.2,171.2L329.5,170.2L325.8,169.5L321.8,169.2L318.0,169.2"/>
<path d="M399.8,153.7L397.5,154.1L395.5,154.6L393.2,155.4L391.2,156.3L389.3,157.5L387.5,158.8L385.7,160.2L384.0,162.0L382.5,163.8L381.1,165.8L379.8,168.0L378.7,170.2L377.8,172.5L377.2,174.8L376.8,177.0L376.6,179.0L376.7,180.8L377.0,182.2L377.4,183.8L378.1,185.2L378.9,186.5L379.9,187.8L381.1,189.0L382.6,190.2L384.5,191.5L386.3,192.5L388.2,193.4L390.5,194.3L392.5,194.8L394.8,195.3L397.0,195.6L399.2,195.7L401.8,195.6L404.0,195.4L406.2,194.9L408.5,194.2L410.5,193.3L412.5,192.2L414.2,191.1L416.0,189.6L417.6,188.0L419.0,186.3L420.2,184.5L421.2,182.5L422.0,180.5L422.5,178.5L422.9,176.5L423.0,174.2L422.9,172.0L422.6,170.0L422.1,168.0L421.3,166.0L420.3,164.0L419.2,162.2L417.8,160.5L416.2,158.9L414.5,157.5L412.8,156.4L410.8,155.4L408.8,154.6L406.5,154.1L404.2,153.7L402.0,153.6L399.8,153.7 M317.8,166.5L313.8,167.0L309.8,167.8L306.0,168.9L302.2,170.5L298.8,172.3L295.5,174.4L293.8,175.7L292.2,177.0L289.5,179.6L287.0,182.6L284.8,185.8L283.7,187.5L282.8,189.2L281.2,192.8L280.0,196.5L279.1,200.2L278.6,204.0L278.5,206.0L278.5,208.0L278.6,210.0L278.8,212.0L279.4,215.8L280.5,219.5L281.8,223.0L283.6,226.5L285.6,229.8L288.0,232.9L289.2,234.3L290.8,235.8L293.8,238.4L297.0,240.7L298.8,241.7L300.5,242.6L304.0,244.2L307.8,245.4L311.5,246.2L315.5,246.7L319.5,246.8L321.8,246.7L323.8,246.5L326.0,246.2L328.2,245.7L330.5,245.1L332.5,244.5L334.8,243.6L336.8,242.7L338.8,241.7L340.8,240.5L342.7,239.2L344.5,238.0L346.2,236.6L348.0,235.0L349.6,233.5L351.2,231.8L352.7,230.0L354.2,228.0L355.6,226.0L356.9,224.0L358.1,221.8L359.2,219.8L360.2,217.5L361.1,215.2L362.0,212.8L362.8,210.2L363.4,207.8L364.1,205.0L364.5,202.5L364.8,200.0L365.0,197.8L365.0,195.8L364.9,194.2L364.7,192.8L364.4,191.2L364.1,190.0L363.6,188.8L363.0,187.5L361.5,185.2L360.5,184.0L359.4,182.8L358.1,181.5L356.4,180.0L353.3,177.5L349.5,175.0L345.6,172.8L341.8,170.9L337.8,169.3L333.8,168.1L329.8,167.2L325.8,166.6L321.8,166.4L317.8,166.5"/>
<path d="M399.5,151.7L397.8,151.9L395.8,152.3L394.0,152.8L392.2,153.4L390.5,154.1L388.8,155.0L387.0,156.0L385.5,157.0L382.6,159.2L379.6,162.0L377.2,164.8L372.5,170.4L370.8,172.3L369.5,173.4L368.5,174.0L367.5,174.5L366.2,174.8L365.0,174.9L363.5,174.8L362.0,174.5L360.2,174.0L357.0,172.8L349.4,169.5L345.5,167.9L341.8,166.6L338.0,165.4L334.8,164.6L331.2,163.9L328.0,163.5L324.8,163.2L320.8,163.2L316.8,163.4L312.7,164.0L309.0,164.8L305.2,166.0L301.8,167.4L298.2,169.2L295.0,171.2L293.2,172.5L291.5,173.9L289.9,175.2L288.3,176.8L286.9,178.2L285.5,179.9L283.0,183.2L281.9,185.0L280.8,187.0L279.0,190.8L278.3,192.8L277.6,194.8L276.6,198.8L276.2,201.0L276.0,203.0L275.8,205.0L275.8,207.2L275.8,209.5L276.0,211.5L276.6,215.5L277.1,217.5L277.6,219.5L278.3,221.5L279.1,223.5L280.0,225.5L280.8,227.2L282.0,229.2L283.1,231.0L284.4,232.8L285.8,234.5L287.2,236.1L288.8,237.7L290.2,239.0L292.0,240.5L293.8,241.8L295.5,243.0L297.2,244.0L299.2,245.1L301.3,246.0L303.2,246.9L305.2,247.6L307.2,248.2L309.2,248.7L311.5,249.1L313.5,249.4L315.8,249.6L317.8,249.7L320.0,249.7L322.2,249.6L324.5,249.3L326.5,249.0L328.8,248.6L330.8,248.1L333.0,247.4L335.2,246.6L337.2,245.8L339.2,244.8L341.2,243.8L345.0,241.5L347.0,240.0L348.9,238.5L350.8,236.9L352.5,235.2L354.1,233.5L355.9,231.5L357.5,229.5L358.9,227.5L361.7,223.2L364.2,218.8L366.3,214.2L370.0,206.0L371.5,203.0L372.4,201.5L373.2,200.3L374.2,199.2L375.1,198.5L376.0,197.9L377.2,197.4L378.5,197.2L379.8,197.0L381.2,197.1L383.0,197.2L391.8,198.4L395.8,198.6L398.2,198.6L400.8,198.4L403.2,198.1L405.5,197.5L408.0,196.8L410.2,195.8L412.5,194.7L414.8,193.2L416.8,191.6L418.5,189.9L420.1,188.0L421.4,186.0L422.1,184.8L422.8,183.2L423.4,181.8L423.9,180.2L424.3,178.8L424.5,177.2L424.7,175.8L424.7,174.0L424.7,172.5L424.5,171.0L424.3,169.5L423.9,168.0L423.4,166.5L422.8,165.0L422.0,163.5L421.3,162.2L420.4,161.0L419.5,159.8L418.3,158.5L417.2,157.5L416.0,156.5L414.8,155.6L413.5,154.8L412.0,154.0L410.5,153.3L409.0,152.8L407.5,152.4L406.0,152.0L404.5,151.8L402.8,151.7L401.2,151.7L399.5,151.7"/>
<path d="M397.5,149.5L394.8,149.9L391.8,150.7L389.0,151.6L386.2,152.9L383.6,154.2L380.8,156.0L378.2,157.8L373.0,161.5L370.2,163.3L368.8,164.1L367.2,164.8L366.0,165.2L364.5,165.6L362.8,165.8L361.0,165.9L359.0,165.8L356.8,165.5L352.8,164.6L344.5,162.4L340.5,161.4L336.8,160.6L333.2,160.1L330.0,159.7L327.0,159.4L323.8,159.3L320.8,159.4L316.8,159.7L313.0,160.3L309.2,161.1L305.5,162.3L302.0,163.6L298.5,165.2L295.2,167.1L292.2,169.1L290.4,170.5L288.6,172.0L287.0,173.5L285.3,175.2L283.7,177.0L282.3,178.8L281.0,180.5L279.7,182.5L278.5,184.5L277.4,186.5L276.4,188.8L275.6,190.8L274.9,192.8L274.2,195.0L273.7,197.2L273.2,199.5L272.9,201.8L272.7,204.0L272.6,206.2L272.6,208.5L272.8,210.8L273.0,213.0L273.3,215.2L273.8,217.5L274.4,219.8L275.1,222.0L276.0,224.2L276.8,226.2L277.8,228.2L278.9,230.2L280.2,232.2L281.4,234.0L283.6,236.8L286.0,239.4L288.5,241.8L291.4,244.0L294.3,246.0L297.5,247.8L300.8,249.3L304.0,250.5L307.5,251.6L311.0,252.3L314.5,252.8L318.0,253.0L321.8,252.9L325.2,252.6L329.0,252.0L332.5,251.1L335.5,250.2L338.5,249.0L341.5,247.6L344.2,246.2L347.0,244.5L349.8,242.5L352.5,240.4L355.0,238.1L357.2,236.0L359.3,233.8L361.4,231.2L363.3,228.8L366.8,223.8L373.0,214.1L375.2,211.0L376.3,209.8L377.5,208.5L378.8,207.4L379.9,206.5L381.2,205.7L382.8,205.0L384.2,204.5L386.0,204.0L389.2,203.4L396.0,202.6L399.0,202.2L402.0,201.6L405.0,200.8L407.8,199.9L410.5,198.7L413.0,197.4L415.5,195.7L417.2,194.3L419.0,192.8L420.4,191.2L421.8,189.5L422.9,187.8L424.0,185.8L425.0,183.8L425.7,181.8L426.2,179.8L426.6,177.8L426.8,175.5L426.8,173.5L426.6,171.2L426.3,169.2L425.8,167.2L425.1,165.2L424.2,163.2L423.2,161.5L422.0,159.8L420.8,158.1L419.2,156.5L417.8,155.2L416.0,153.9L414.2,152.8L412.2,151.8L410.2,150.9L408.2,150.3L406.2,149.8L404.0,149.5L402.0,149.3L399.8,149.3L397.5,149.5"/>
<path d="M397.0,146.5L394.5,146.8L392.0,147.2L389.5,147.8L387.0,148.6L384.5,149.5L381.8,150.6L372.8,154.8L369.5,156.2L367.5,156.9L365.8,157.4L364.0,157.8L362.0,158.1L360.2,158.2L358.2,158.3L354.2,158.1L350.2,157.6L337.5,155.6L333.2,155.2L329.2,154.9L325.0,154.8L321.0,155.0L317.0,155.4L313.2,156.0L310.0,156.7L306.8,157.6L303.5,158.7L300.5,159.9L297.5,161.3L294.5,163.0L291.8,164.7L289.0,166.7L287.1,168.2L285.2,169.9L283.5,171.6L281.7,173.5L280.2,175.3L278.7,177.2L277.3,179.2L275.9,181.5L274.7,183.8L273.6,186.0L272.6,188.2L271.7,190.5L271.0,192.8L270.4,195.2L269.8,197.8L269.4,200.2L269.1,202.8L269.0,205.2L269.0,207.5L269.0,210.0L269.3,212.5L269.6,215.0L270.1,217.5L270.6,219.8L271.4,222.2L272.2,224.5L273.1,226.8L274.1,229.0L275.3,231.2L276.5,233.2L277.8,235.2L279.3,237.2L281.5,240.0L284.2,242.8L287.2,245.4L290.2,247.7L293.5,249.8L296.8,251.5L300.2,253.1L303.8,254.4L307.5,255.4L311.2,256.2L315.0,256.6L318.8,256.8L322.8,256.7L326.5,256.4L330.2,255.7L334.0,254.8L337.0,253.9L340.0,252.8L343.0,251.4L345.8,250.1L348.5,248.5L351.2,246.7L354.0,244.8L356.5,242.8L358.8,240.8L360.9,238.8L363.1,236.5L365.2,234.2L368.8,230.0L376.0,221.0L378.8,217.8L380.2,216.3L381.7,215.0L383.0,213.9L384.5,212.8L386.0,211.9L387.5,211.0L390.8,209.6L394.0,208.4L403.0,205.6L405.8,204.6L408.0,203.7L410.2,202.6L412.5,201.4L414.8,200.0L416.8,198.6L418.8,196.9L420.5,195.3L422.1,193.5L423.7,191.5L425.0,189.5L426.1,187.5L427.1,185.2L427.9,183.0L428.5,180.8L429.0,178.5L429.2,176.2L429.2,173.8L429.1,171.5L428.7,169.2L428.2,167.0L427.5,164.8L426.5,162.5L425.4,160.5L424.1,158.5L422.8,156.8L421.2,155.1L419.5,153.4L417.8,152.1L415.8,150.7L413.8,149.6L411.5,148.6L409.2,147.8L406.8,147.1L404.2,146.7L402.0,146.5L399.5,146.4L397.0,146.5"/>
<path d="M397.5,142.7L395.0,142.8L392.5,143.1L390.0,143.4L387.2,143.9L382.0,145.3L372.8,148.1L369.0,149.1L365.0,150.0L361.0,150.6L357.0,150.8L352.8,150.8L348.8,150.5L336.5,149.6L332.5,149.5L329.0,149.4L325.0,149.5L321.2,149.8L317.5,150.2L314.0,150.8L310.0,151.6L306.2,152.7L302.5,154.0L298.8,155.5L295.2,157.2L291.8,159.3L288.5,161.4L285.5,163.7L283.5,165.4L281.5,167.3L279.6,169.2L277.8,171.3L276.0,173.5L274.4,175.8L272.9,178.0L271.6,180.2L270.3,182.8L269.1,185.2L268.1,187.8L267.3,190.2L266.5,192.8L265.9,195.5L265.4,198.0L265.0,200.8L264.8,203.2L264.7,206.0L264.7,208.8L264.9,211.5L265.2,214.2L265.6,216.8L266.2,219.5L266.8,222.0L267.6,224.5L268.5,227.0L269.6,229.5L270.8,232.0L272.2,234.5L273.7,236.8L275.2,239.0L276.8,241.0L279.4,244.0L282.2,246.8L285.4,249.5L288.8,251.9L292.2,254.1L295.8,255.9L299.5,257.5L303.2,258.8L307.2,259.9L311.2,260.6L315.2,261.1L319.2,261.3L323.5,261.2L327.5,260.8L331.8,260.1L335.8,259.2L338.5,258.3L341.0,257.5L343.5,256.5L346.0,255.4L348.5,254.1L351.0,252.7L353.5,251.2L356.0,249.6L358.6,247.8L361.1,245.7L363.8,243.5L366.2,241.2L371.0,236.5L379.0,228.0L381.8,225.1L385.0,222.1L388.0,219.6L391.2,217.4L394.8,215.2L398.2,213.5L406.8,209.4L411.0,207.1L414.7,204.8L418.2,202.2L420.2,200.5L422.3,198.5L424.1,196.5L425.8,194.2L427.3,192.0L428.6,189.8L429.7,187.2L430.6,184.8L431.3,182.2L431.8,179.8L432.1,177.2L432.2,174.5L432.1,172.0L431.8,169.5L431.3,167.0L430.5,164.5L429.5,162.0L428.4,159.8L427.0,157.5L425.6,155.5L424.0,153.6L422.1,151.8L420.2,150.1L418.0,148.5L415.8,147.1L413.5,146.0L411.0,145.0L408.5,144.2L406.0,143.6L403.2,143.1L400.5,142.8L397.5,142.7"/>
<path d="M390.7,138.2L387.5,138.5L384.0,139.0L368.8,141.6L365.0,142.2L361.2,142.6L357.2,142.8L353.0,143.0L336.2,142.8L328.8,143.0L324.5,143.2L320.5,143.7L316.5,144.2L312.8,145.0L308.0,146.1L303.2,147.6L298.8,149.4L294.2,151.5L290.0,153.9L286.0,156.5L282.2,159.4L278.8,162.5L276.8,164.5L274.7,166.8L272.8,169.1L270.9,171.5L269.2,174.0L267.6,176.8L266.2,179.2L264.9,182.0L263.8,184.8L262.8,187.5L261.9,190.2L261.1,193.2L260.5,196.0L260.1,199.0L259.8,201.8L259.6,204.8L259.6,207.8L259.7,210.8L260.0,213.5L260.4,216.5L260.9,219.2L261.6,222.2L262.4,225.0L263.5,228.0L264.6,230.8L265.9,233.5L267.2,236.0L268.7,238.5L270.4,241.0L272.1,243.2L274.0,245.6L276.0,247.8L279.0,250.8L282.2,253.5L285.8,256.1L289.2,258.3L293.0,260.3L297.0,262.1L301.0,263.6L305.0,264.7L309.2,265.6L313.5,266.3L317.8,266.6L322.0,266.6L326.5,266.4L330.8,265.8L335.0,265.0L339.2,263.9L342.2,263.0L345.2,261.9L348.2,260.6L351.2,259.2L354.2,257.7L357.0,256.1L359.9,254.2L362.8,252.3L367.2,248.9L371.9,245.0L376.3,241.0L386.8,231.1L389.8,228.5L392.8,226.0L396.0,223.5L399.3,221.2L410.2,214.2L414.5,211.3L418.8,208.1L422.2,205.0L424.5,202.7L426.8,200.1L428.7,197.5L430.4,194.8L431.9,192.0L433.1,189.2L434.2,186.2L435.0,183.2L435.6,180.2L435.9,177.2L435.9,174.2L435.7,171.2L435.3,168.5L434.6,165.5L433.6,162.5L432.5,159.8L431.2,157.2L429.5,154.6L427.7,152.2L425.7,150.0L423.5,148.0L421.2,146.2L418.8,144.4L416.0,142.9L413.2,141.6L410.2,140.5L407.2,139.6L404.2,138.9L401.0,138.4L397.8,138.2L394.2,138.1L390.7,138.2"/>
<path d="M387.2,132.0L380.5,132.3L366.5,133.5L359.8,134.0L353.0,134.2L337.8,134.7L329.5,135.1L324.5,135.6L319.8,136.3L315.2,137.1L310.8,138.1L307.8,138.9L304.8,139.8L299.2,141.8L296.5,142.9L294.0,144.1L291.5,145.4L288.8,146.9L286.2,148.4L284.0,149.9L281.8,151.5L279.5,153.2L277.2,155.1L275.2,156.9L273.2,158.9L271.3,161.0L269.1,163.5L267.1,166.0L265.2,168.8L263.4,171.5L261.7,174.5L260.1,177.5L258.8,180.5L257.6,183.5L256.5,186.5L255.6,189.8L254.8,193.0L254.2,196.2L253.8,199.5L253.5,202.8L253.4,206.0L253.5,209.2L253.7,212.5L254.1,215.8L254.6,219.0L255.3,222.2L256.2,225.5L257.2,228.5L258.3,231.5L259.6,234.5L261.1,237.5L262.6,240.2L264.4,243.0L266.3,245.8L268.2,248.2L270.3,250.8L272.7,253.2L275.1,255.5L278.5,258.4L282.0,261.0L285.8,263.4L289.8,265.6L293.8,267.5L298.0,269.2L302.5,270.6L307.0,271.7L311.5,272.4L316.0,272.9L320.5,273.1L325.2,273.0L329.8,272.6L334.5,271.9L339.0,271.0L343.5,269.7L347.0,268.5L350.5,267.2L354.0,265.7L357.5,264.0L361.0,262.1L364.5,260.0L368.0,257.7L371.5,255.2L375.5,252.2L380.0,248.5L393.8,236.5L399.2,232.0L404.2,228.0L413.8,220.6L417.8,217.3L422.5,213.1L424.5,211.1L426.5,209.0L429.1,206.0L431.4,203.0L433.4,200.0L435.2,196.8L436.8,193.5L438.0,190.3L439.1,186.8L439.8,183.5L440.3,180.0L440.5,176.5L440.5,173.0L440.1,169.8L439.5,166.2L438.6,163.0L437.4,159.8L436.1,156.8L434.4,153.8L432.5,151.0L430.3,148.2L428.0,145.8L425.5,143.5L422.8,141.4L419.8,139.4L416.8,137.7L413.5,136.2L410.2,135.0L406.8,134.0L403.2,133.2L399.5,132.6L395.8,132.2L391.8,132.0L387.2,132.0"/>
<path d="M355.1,274.5L358.5,273.0L362.0,271.4L365.5,269.6L368.8,267.8L372.2,265.7L375.6,263.5L379.0,261.2L382.7,258.5L386.5,255.6L390.6,252.2L401.0,243.5L415.5,230.8L420.0,226.7L423.8,223.1L428.5,218.1L432.4,213.5L434.2,211.1L435.9,208.8L437.4,206.5L438.9,204.0L440.1,201.8L441.3,199.2L442.4,196.8L443.3,194.2L444.2,191.8L444.9,189.2L445.4,186.8L445.9,184.2L446.3,181.0L446.5,178.0L446.5,174.8L446.3,171.8L445.9,168.8L445.4,165.8L444.6,162.8L443.7,159.8L442.5,156.8L441.2,154.0L439.7,151.2L438.1,148.8L436.3,146.2L434.3,143.8L432.2,141.5L429.8,139.2L427.5,137.3L425.0,135.4L422.5,133.8L419.8,132.1L417.0,130.7L414.0,129.4L411.0,128.2L408.0,127.2L404.8,126.3L401.5,125.6L398.0,125.0L394.5,124.5L390.8,124.1L387.0,123.8L382.8,123.7L378.2,123.6L366.8,123.8L347.2,124.5L337.5,125.0L329.5,125.7L325.5,126.2L321.5,126.8L317.8,127.5L314.2,128.2L310.8,129.1L307.2,130.0L304.0,131.0L300.8,132.1L297.2,133.5L293.8,135.0L290.2,136.7L287.0,138.4L283.8,140.4L280.8,142.3L277.8,144.5L274.8,146.8L272.0,149.1L269.5,151.5L267.0,154.0L264.5,156.8L262.2,159.5L260.0,162.5L258.0,165.5L256.2,168.5L254.3,172.0L252.6,175.5L251.0,179.2L249.7,183.0L248.5,186.8L247.6,190.5L246.9,194.2L246.3,198.2L246.0,202.2L245.9,206.2L246.0,210.0L246.3,214.0L246.8,218.0L247.5,221.8L248.4,225.5L249.5,229.2L250.8,233.0L252.3,236.5L253.9,240.0L255.8,243.5L257.8,246.8L260.1,250.0L262.6,253.2L265.2,256.2L267.8,259.0L270.8,261.8L273.8,264.3L277.0,266.8L280.2,269.0L283.5,270.9L287.0,272.8L290.6,274.5"/>
<path d="M245.5,244.2L248.0,248.8L250.6,253.0L253.5,257.0L256.7,261.0L260.2,264.8L263.8,268.2L267.5,271.5L271.4,274.5 M379.2,274.5L384.7,271.0L390.2,267.2L396.0,262.9L402.0,258.1L408.5,252.6L415.2,246.5L421.2,240.8L426.8,235.2L431.0,230.6L434.8,226.2L438.2,221.8L441.2,217.4L444.0,213.0L446.3,208.8L448.5,204.2L450.3,199.8L451.8,195.0L453.0,190.2L453.8,185.2L454.2,180.5L454.3,178.0L454.3,175.5L453.9,170.8L453.2,166.0L452.2,161.5L450.8,157.0L449.9,154.8L448.9,152.5L446.8,148.2L444.4,144.2L441.7,140.5L438.5,136.8L435.0,133.3L431.2,130.0L429.2,128.5L427.0,126.9L424.8,125.5L422.2,124.0L417.5,121.6L415.0,120.5L412.2,119.4L406.8,117.5L401.0,115.9L394.8,114.6L388.2,113.7L384.2,113.2L380.2,112.9L371.5,112.5L361.5,112.3L351.2,112.5L342.0,113.0L333.5,113.7L325.5,114.8L318.0,116.1L311.8,117.5L305.8,119.2L300.0,121.1L294.5,123.2L289.2,125.6L284.0,128.3L279.0,131.3L274.2,134.5L269.8,137.9L265.5,141.6L261.5,145.4L257.8,149.5L254.3,153.8L251.1,158.2L248.1,163.0L245.5,167.9"/>
<path d="M287.7,111.5L281.5,114.6L275.5,118.0L272.5,119.8L269.8,121.7L267.0,123.6L264.2,125.7L261.7,127.8L259.1,130.0L256.6,132.2L254.2,134.6L252.0,136.9L249.8,139.4L247.5,142.0L245.5,144.5 M460.5,153.6L459.2,150.2L457.7,147.0L456.1,143.8L454.4,140.8L452.5,137.8L450.5,134.9L448.2,132.0L446.0,129.4L443.5,126.8L441.0,124.3L438.2,121.9L435.5,119.6L432.5,117.4L429.5,115.4L426.2,113.4L422.8,111.5 M245.5,266.6L249.0,270.7L252.6,274.5 M404.6,274.5L409.5,270.7L414.5,266.5L419.2,262.4L424.0,257.9L428.5,253.5L433.0,248.8L437.0,244.2L440.7,239.8L444.0,235.5L447.2,231.0L450.0,226.7L452.6,222.2L454.9,218.0L457.1,213.5L458.9,209.0L460.5,204.7"/>
<path d="M254.4,111.5L249.9,115.2L245.5,119.3 M460.5,124.1L457.8,120.8L455.0,117.5L452.1,114.5L449.0,111.5 M433.3,274.5L437.2,270.6L441.0,266.7L444.8,262.6L448.3,258.5L451.7,254.2L454.8,250.2L457.7,246.0L460.5,241.7"/>
<path d=""/>
<path d=""/>
</g>
<circle cx="317.2" cy="207.5" r="14.2" fill="url(#gOrange)"/>
<circle cx="403.9" cy="173.6" r="8" fill="url(#gYellow)"/>
<g stroke="#3a3acc" stroke-width="0.7" fill="none"><line x1="298.5" y1="131" x2="312.4" y2="155.5"/><line x1="352" y1="130.5" x2="321.1" y2="143.5"/></g>
<circle cx="312.4" cy="155.5" r="1.7" fill="#1a1ac8"/><circle cx="321.1" cy="143.5" r="1.7" fill="#1a1ac8"/>
<rect x="251.4" y="117.2" width="47.2" height="14" fill="#fcfcff" stroke="#3a3acc" stroke-width="1"/>
<rect x="352.3" y="116" width="47.3" height="14.3" fill="#fcfcff" stroke="#3a3acc" stroke-width="1"/>
<g transform="translate(254.9 127.9) scale(1 1.13)"><text x="0" y="0" font-family="Liberation Serif,serif" font-size="8.4" fill="#3a3acc" stroke="#3a3acc" stroke-width="0.2"><tspan fill="#8a8ae0" stroke="#8a8ae0">−</tspan>220<tspan dx="0.8">MJkg</tspan><tspan dy="-3.6" font-size="4" stroke="none" fill="#7a7ad8">−1</tspan></text></g>
<g transform="translate(356 127) scale(1 1.13)"><text x="0" y="0" font-family="Liberation Serif,serif" font-size="8.4" fill="#3a3acc" stroke="#3a3acc" stroke-width="0.2"><tspan fill="#8a8ae0" stroke="#8a8ae0">−</tspan>180<tspan dx="0.8">MJkg</tspan><tspan dy="-3.6" font-size="4" stroke="none" fill="#7a7ad8">−1</tspan></text></g>
<path d="M348.5,131 V147 Q348,157 342.8,167.4" fill="none" stroke="#22aa66" stroke-width="0.9"/>
<path d="M341.6,169.4 l0.5,-3.8 l2.6,1.4 z" fill="#2a6a8a"/>
<circle cx="347.8" cy="149.5" r="2.2" fill="#1fa050"/><circle cx="348.3" cy="148.8" r="1" fill="#7fe0a0"/>
<line x1="344.2" y1="144" x2="344.2" y2="155" stroke="#222" stroke-width="0.7"/>
<path d="M343.2,146 l1,-2.6 l1,2.6 z M343.2,153 l1,2.6 l1,-2.6 z" fill="#222"/>
<text x="338" y="149.5" font-family="Liberation Serif,serif" font-style="italic" font-size="7.5" fill="#222">d</text>
</g>
<rect x="346.7" y="231.6" width="111.8" height="41.4" fill="#ebebf2" stroke="#6a6ad8" stroke-width="0.8"/>
<g font-family="Liberation Sans,sans-serif" font-style="italic" font-size="8.35" fill="#30a84c"><text x="350.5" y="241.6">The force is perpendicular</text><text x="349.6" y="251">to the equipotentials and in</text><text x="349.6" y="260.4">the opposite direction to that</text><text x="349.6" y="269.8">of increasing potential.</text></g>
<path d="M458.5,113.5 H247.5" fill="none" stroke="#6a6a6a" stroke-width="1"/>
<path d="M247.5,113.0 V272.5 H346.7" fill="none" stroke="#16162a" stroke-width="1.1"/>
<line x1="458.5" y1="113.5" x2="458.5" y2="231.6" stroke="#888" stroke-width="0.8"/>
</g>
<g id="p3">
<rect x="494.5" y="115.3" width="202.0" height="147.09999999999997" fill="#fff"/>
<path d="M555.0,192.1L556.5,195.5L558.1,198.8L559.6,201.8L561.2,204.6L562.7,207.2L564.3,209.6L565.8,211.9L567.4,214.0L568.9,216.0L570.5,217.9L572.0,219.7L573.6,221.3L575.1,222.9L576.7,224.4L578.2,225.8L579.8,227.1L581.3,228.3L582.9,229.5L584.4,230.7L586.0,231.7L587.5,232.7L589.1,233.7L590.6,234.6L592.2,235.5L593.7,236.3L595.3,237.1L596.8,237.9L598.4,238.6L599.9,239.3L601.5,240.0L603.0,240.6L604.6,241.2L606.1,241.8L607.7,242.4L609.2,242.9L610.8,243.4L612.3,243.9L613.9,244.4L615.4,244.9L615.4,262.4L555.0,262.4Z" fill="#5a4fcf"/>
<path d="M539.0,131.9L540.3,139.4L541.6,146.2L543.0,152.5L544.3,158.3L545.6,163.7L546.9,168.6L548.3,173.2L549.6,177.5L550.9,181.4L552.2,185.1L553.6,188.6L554.9,191.8L556.2,194.8L557.5,197.6L558.9,200.3L560.2,202.7L561.5,205.1L562.8,207.3L564.1,209.4L565.5,211.4L566.8,213.2L568.1,215.0L569.4,216.6L570.8,218.2L572.1,219.7L573.4,221.1L574.7,222.5L576.1,223.8L577.4,225.0L578.7,226.2L580.0,227.3L581.4,228.4L582.7,229.4L584.0,230.4L585.3,231.3L586.6,232.2L588.0,233.0L589.3,233.8L590.6,234.6L591.9,235.4L593.3,236.1L594.6,236.8L595.9,237.5L597.2,238.1L598.6,238.7L599.9,239.3L601.2,239.9L602.5,240.4L603.9,241.0L605.2,241.5L606.5,242.0L607.8,242.4L609.1,242.9L610.5,243.3L611.8,243.8L613.1,244.2L614.4,244.6L615.8,245.0L617.1,245.4L618.4,245.7L619.7,246.1L621.1,246.4L622.4,246.7L623.7,247.1L625.0,247.4L626.4,247.7L627.7,248.0L629.0,248.2L630.3,248.5L631.6,248.8L633.0,249.0L634.3,249.3L635.6,249.5L636.9,249.8L638.3,250.0L639.6,250.2L640.9,250.5L642.2,250.7L643.6,250.9L644.9,251.1L646.2,251.3L647.5,251.5L648.9,251.7L650.2,251.8L651.5,252.0L652.8,252.2L654.1,252.4L655.5,252.5L656.8,252.7L658.1,252.8L659.4,253.0L660.8,253.1L662.1,253.3L663.4,253.4L664.7,253.6L666.1,253.7L667.4,253.8L668.7,254.0L670.0,254.1L671.4,254.2L672.7,254.3L674.0,254.5L675.3,254.6L676.6,254.7L678.0,254.8L679.3,254.9L680.6,255.0L681.9,255.1L683.3,255.2L684.6,255.3L685.9,255.4L687.2,255.5L688.6,255.6L689.9,255.7L691.2,255.8L692.5,255.9L693.9,256.0L695.2,256.1L696.5,256.1" fill="none" stroke="#e0203a" stroke-width="1.1"/>
<rect x="494.5" y="115.3" width="202.0" height="16.299999999999997" fill="#eeeeee"/>
<path d="M494.5,115.3 H696.5" stroke="#8a8a8a" stroke-width="1" fill="none"/><path d="M696.5,115.3 V131.6" stroke="#aaa" stroke-width="0.9" fill="none"/><path d="M494.5,131.6 H696.5" stroke="#7a7a7a" stroke-width="0.9" fill="none"/><path d="M494.5,114.8 V131.6" stroke="#3a3a3a" stroke-width="0.9" fill="none"/>
<text x="510.2" y="126.9" font-family="Liberation Sans,sans-serif" font-style="italic" font-size="8.9" fill="#222" textLength="160" lengthAdjust="spacingAndGlyphs">Force versus distance for a point mass, M.</text>
<line x1="494.5" y1="131.6" x2="494.5" y2="263.4" stroke="#3a3a3a" stroke-width="0.9"/>
<line x1="493.5" y1="262.4" x2="696.5" y2="262.4" stroke="#6a6a6a" stroke-width="1"/>
<line x1="696.5" y1="131.6" x2="696.5" y2="262.4" stroke="#aaa" stroke-width="0.8"/>
<path d="M492.3,262.4h2.2M492.3,246.2h2.2M492.3,230.0h2.2M492.3,213.8h2.2M492.3,197.6h2.2M492.3,181.4h2.2M492.3,165.2h2.2M492.3,149.0h2.2M492.3,132.8h2.2M493.4,259.2h1.1M493.4,255.9h1.1M493.4,252.7h1.1M493.4,249.4h1.1M493.4,246.2h1.1M493.4,243.0h1.1M493.4,239.7h1.1M493.4,236.5h1.1M493.4,233.2h1.1M493.4,230.0h1.1M493.4,226.8h1.1M493.4,223.5h1.1M493.4,220.3h1.1M493.4,217.0h1.1M493.4,213.8h1.1M493.4,210.6h1.1M493.4,207.3h1.1M493.4,204.1h1.1M493.4,200.8h1.1M493.4,197.6h1.1M493.4,194.4h1.1M493.4,191.1h1.1M493.4,187.9h1.1M493.4,184.6h1.1M493.4,181.4h1.1M493.4,178.2h1.1M493.4,174.9h1.1M493.4,171.7h1.1M493.4,168.4h1.1M493.4,165.2h1.1M493.4,162.0h1.1M493.4,158.7h1.1M493.4,155.5h1.1M493.4,152.2h1.1M493.4,149.0h1.1M493.4,145.8h1.1M493.4,142.5h1.1M493.4,139.3h1.1M493.4,136.0h1.1M494.5,262.4v2M504.6,262.4v1.2M514.7,262.4v2M524.8,262.4v1.2M534.9,262.4v2M545.0,262.4v1.2M555.1,262.4v2M565.2,262.4v1.2M575.3,262.4v2M585.4,262.4v1.2M595.5,262.4v2M605.6,262.4v1.2M615.7,262.4v2M625.8,262.4v1.2M635.9,262.4v2M646.0,262.4v1.2M656.1,262.4v2M666.2,262.4v1.2M676.3,262.4v2M686.4,262.4v1.2M696.5,262.4v2" stroke="#555" stroke-width="0.5" fill="none"/>
<text transform="translate(486.5,200) rotate(-90)" font-family="Liberation Sans,sans-serif" font-style="italic" font-size="8.2" fill="#222" stroke="#222" stroke-width="0.2">F</text>
<g font-family="Liberation Sans,sans-serif" font-style="italic" fill="#333" stroke="#333" stroke-width="0.25"><text x="552.2" y="271.3" font-size="9">r<tspan font-size="5" dy="1.5" fill="#777" stroke="none">1</tspan></text><text x="611.5" y="271.3" font-size="9">r<tspan font-size="5" dy="1.5" fill="#777" stroke="none">2</tspan></text><text x="592.5" y="275.5" font-size="9.5">r</text></g>
<text x="544.4" y="258.2" font-family="Liberation Serif,serif" font-style="italic" font-size="8.5" fill="#111" stroke="#111" stroke-width="0.25">m</text>
<g stroke="#1a1a1a" stroke-width="0.8" fill="none"><line x1="584" y1="202.3" x2="557" y2="255"/><line x1="623" y1="228" x2="615.3" y2="245"/><path d="M586.6,151.6 Q567,174 561.6,208.6"/></g>
<path d="M559.6,207.8 l3.8,0.8 l-2.4,5.4 z" fill="#111"/>
<line x1="563" y1="246.8" x2="612" y2="246.8" stroke="#b4acf0" stroke-width="1.4"/>
<path d="M559.4,246.8 l5.8,-1.9 v3.8 z" fill="#f4f0ff"/>
<line x1="559" y1="256.4" x2="607" y2="256.4" stroke="#e6e2ff" stroke-width="0.95"/>
<path d="M611.3,256.4 l-6.4,-1.8 v3.6 z" fill="#fff"/>
<circle cx="555.8" cy="246.8" r="3.1" fill="url(#gGreen)"/>
<circle cx="555.8" cy="256.4" r="3.1" fill="url(#gGreen)"/>
<circle cx="614.8" cy="246.8" r="3.1" fill="url(#gGreen)"/>
<circle cx="614.8" cy="256.4" r="3.1" fill="url(#gGreen)"/>
<rect x="583.6" y="182" width="65" height="20.3" fill="#fff" stroke="#555" stroke-width="0.8"/>
<rect x="622.6" y="207.6" width="62.4" height="20.5" fill="#fff" stroke="#555" stroke-width="0.8"/>
<g font-family="Liberation Sans,sans-serif" font-style="italic" font-size="7.6" fill="#222"><text x="587" y="190.4" textLength="56" lengthAdjust="spacingAndGlyphs">Work done on m</text><text x="587" y="198.9" textLength="58" lengthAdjust="spacingAndGlyphs">by external force.</text><text x="626" y="215.8" textLength="56" lengthAdjust="spacingAndGlyphs">Work done on m</text><text x="626" y="224.4">by field.</text></g>
<g font-family="Liberation Serif,serif" font-style="italic" fill="#222" stroke="#222" stroke-width="0.22"><text x="588.8" y="151.8" font-size="9.4">W</text><text x="598.6" y="151.6" font-size="10.4" font-style="normal">=</text><text x="0" y="0" font-size="15" font-style="normal" stroke-width="0.1" transform="translate(605.4 154.6) scale(0.78 1)">∫</text><text x="606.6" y="140.4" font-size="5" fill="#555" stroke="none">r<tspan font-size="3.4" dy="0.9">2</tspan></text><text x="606.8" y="162.2" font-size="5" fill="#555" stroke="none">r<tspan font-size="3.4" dy="0.9">1</tspan></text><text x="614.8" y="146.6" font-size="9.3">GMm</text><text x="621.8" y="159.4" font-size="9.6">r<tspan font-size="5.4" dy="-3.8" dx="0.4" fill="#555" stroke="none">2</tspan></text><text x="637.8" y="151.8" font-size="9.8">dr</text></g>
<line x1="614" y1="149.3" x2="636.4" y2="149.3" stroke="#222" stroke-width="0.9"/>
</g>
<g id="p4">
<rect x="5.5" y="285.4" width="214.3" height="169.0" fill="#eeeeee" stroke="#949494" stroke-width="1"/>
<line x1="20.7" y1="286.4" x2="20.7" y2="450.8" stroke="#333" stroke-width="1.3"/>
<line x1="20.7" y1="343.8" x2="209.2" y2="343.8" stroke="#333" stroke-width="1.3"/>
<path d="M32.6,290.9L35.6,292.9L38.5,294.9L41.5,296.8L44.4,298.6L47.4,300.3L50.3,302.0L53.3,303.6L56.2,305.1L59.2,306.6L62.2,308.0L65.1,309.3L68.1,310.6L71.0,311.8L74.0,313.0L76.9,314.1L79.9,315.2L82.9,316.3L85.8,317.2L88.8,318.2L91.7,319.1L94.7,320.0L97.6,320.8L100.6,321.6L103.5,322.4L106.5,323.1L109.5,323.8L112.4,324.5L115.4,325.1L118.3,325.7L121.3,326.3L124.2,326.9L127.2,327.4L130.1,327.9L133.1,328.4L136.1,328.9L139.0,329.4L142.0,329.8L144.9,330.2L147.9,330.6L150.8,331.0L153.8,331.4L156.7,331.7L159.7,332.1L162.7,332.4L165.6,332.7L168.6,333.0L171.5,333.3L174.5,333.5L177.4,333.8L180.4,334.0L183.4,334.3L186.3,334.5L189.3,334.7L192.2,334.9L195.2,335.1L198.1,335.3L201.1,335.5L204.0,335.7L207.0,335.9" fill="none" stroke="#3a3ad0" stroke-width="1.05"/>
<path d="M32.6,396.7L35.6,394.7L38.5,392.7L41.5,390.8L44.4,389.0L47.4,387.3L50.3,385.6L53.3,384.0L56.2,382.5L59.2,381.0L62.2,379.6L65.1,378.3L68.1,377.0L71.0,375.8L74.0,374.6L76.9,373.5L79.9,372.4L82.9,371.3L85.8,370.4L88.8,369.4L91.7,368.5L94.7,367.6L97.6,366.8L100.6,366.0L103.5,365.2L106.5,364.5L109.5,363.8L112.4,363.1L115.4,362.5L118.3,361.9L121.3,361.3L124.2,360.7L127.2,360.2L130.1,359.7L133.1,359.2L136.1,358.7L139.0,358.2L142.0,357.8L144.9,357.4L147.9,357.0L150.8,356.6L153.8,356.2L156.7,355.9L159.7,355.5L162.7,355.2L165.6,354.9L168.6,354.6L171.5,354.3L174.5,354.1L177.4,353.8L180.4,353.6L183.4,353.3L186.3,353.1L189.3,352.9L192.2,352.7L195.2,352.5L198.1,352.3L201.1,352.1L204.0,351.9L207.0,351.7" fill="none" stroke="#e03a4a" stroke-width="1.05"/>
<path d="M31.2,451.7L34.2,445.6L37.2,440.2L40.1,435.2L43.1,430.7L46.1,426.5L49.1,422.7L52.1,419.2L55.0,416.0L58.0,413.0L61.0,410.2L64.0,407.6L67.0,405.2L69.9,402.9L72.9,400.8L75.9,398.8L78.9,396.9L81.9,395.1L84.8,393.4L87.8,391.8L90.8,390.3L93.8,388.8L96.8,387.5L99.7,386.2L102.7,384.9L105.7,383.8L108.7,382.6L111.7,381.5L114.6,380.5L117.6,379.5L120.6,378.6L123.6,377.7L126.5,376.8L129.5,376.0L132.5,375.1L135.5,374.4L138.5,373.6L141.4,372.9L144.4,372.2L147.4,371.5L150.4,370.9L153.4,370.3L156.3,369.6L159.3,369.1L162.3,368.5L165.3,367.9L168.3,367.4L171.2,366.9L174.2,366.4L177.2,365.9L180.2,365.4L183.2,365.0L186.1,364.5L189.1,364.1L192.1,363.7L195.1,363.3L198.1,362.9L201.0,362.5L204.0,362.1L207.0,361.7" fill="none" stroke="#3aa860" stroke-width="1.05"/>
<text x="11.7" y="346.8" font-family="Liberation Sans,sans-serif" font-size="8.4" fill="#222">0</text>
<text transform="translate(15.7,400) rotate(-90)" font-family="Liberation Sans,sans-serif" font-size="8.3" fill="#222">Energy (J)</text>
<text x="211" y="351.5" font-family="Liberation Sans,sans-serif" font-style="italic" font-size="8" fill="#222">r</text>
<text transform="translate(123.2,322.8) rotate(13)" font-family="Liberation Sans,sans-serif" font-size="8" fill="#3a3ad0">kinetic</text>
<text transform="translate(164.3,353.4) rotate(-5)" font-family="Liberation Sans,sans-serif" font-size="8.2" fill="#e03a4a">total</text>
<text transform="translate(121.6,376.6) rotate(-15.5)" font-family="Liberation Sans,sans-serif" font-size="8.3" fill="#3aa860">potential</text>
<g font-family="Liberation Serif,serif" font-style="italic" font-size="9.5" fill="#3a3ad0" stroke="#3a3ad0" stroke-width="0.15"><text x="81.5" y="305.6">E<tspan font-size="5.5" dy="1.6">k</tspan></text><text x="91.3" y="305.6" font-style="normal">=</text><text x="99.6" y="300.9">GMm</text><text x="105.6" y="312">2<tspan dx="1">r</tspan></text></g><line x1="98.8" y1="302.8" x2="121.8" y2="302.8" stroke="#3a3ad0" stroke-width="0.7"/>
<g font-family="Liberation Serif,serif" font-style="italic" font-size="9.5" fill="#e03a4a" stroke="#e03a4a" stroke-width="0.15"><text x="43.5" y="361.3">E</text><text x="50.6" y="361.3" font-style="normal">=</text><text x="58.6" y="361.3" font-style="normal" fill="#f08a92">−</text><text x="66.2" y="356.3">GMm</text><text x="72" y="367.8">2<tspan dx="1">r</tspan></text></g><line x1="65.6" y1="358.5" x2="88.2" y2="358.5" stroke="#e03a4a" stroke-width="0.7"/>
<g font-family="Liberation Serif,serif" font-style="italic" font-size="9.5" fill="#3aa860" stroke="#3aa860" stroke-width="0.15"><text x="72.6" y="422.2">E<tspan font-size="5.5" dy="1.6">p</tspan></text><text x="83" y="422.2" font-style="normal">=</text><text x="91" y="422.2" font-style="normal" fill="#8acc9a">−</text><text x="99.4" y="417">GMm</text><text x="108.6" y="428.6">r</text></g><line x1="98.6" y1="419.2" x2="121.6" y2="419.2" stroke="#3aa860" stroke-width="0.7"/>
</g>
<g id="p56">
<circle cx="251.4" cy="321.4" r="25.5" fill="url(#gGrayA)"/>
<circle cx="303.6" cy="321.4" r="25.5" fill="url(#gGrayA)"/>
<clipPath id="c5c"><circle cx="277.7" cy="366.3" r="25.5"/></clipPath>
<circle cx="277.7" cy="366.3" r="25.5" fill="url(#gBrown)"/>
<g clip-path="url(#c5c)"><rect x="250" y="339" width="56" height="56" filter="url(#fTexB)" opacity="0.5"/><circle cx="277.7" cy="366.3" r="25.5" fill="none" stroke="#2a1608" stroke-width="5" filter="url(#fBlur1)" opacity="0.8"/></g>
<path d="M252.2,322.4 H303.2 L277.6,366.8 Z" fill="none" stroke="#241c20" stroke-width="0.9"/>
<text x="249.4" y="314.2" font-family="Liberation Sans,sans-serif" font-size="5.4" fill="#333">A</text>
<text x="303" y="314.2" font-family="Liberation Sans,sans-serif" font-size="5.4" fill="#333">B</text>
<text x="276" y="372.5" font-family="Liberation Sans,sans-serif" font-size="5" fill="#2a1a10">C</text>
<text x="270.5" y="321.3" font-family="Liberation Sans,sans-serif" font-size="4.2" fill="#333">40cm</text>
<rect x="229.8" y="397.1" width="96.6" height="58.2" fill="#cdcdcd"/>
<g font-family="Liberation Serif,serif" font-style="italic" font-size="19" fill="#1a1a1a"><text x="240.6" y="431.4">F</text><text x="254.8" y="431.4" font-style="normal" textLength="11.8" lengthAdjust="spacingAndGlyphs">=</text><text x="271.4" y="420.4" font-size="16.6" textLength="42.4" lengthAdjust="spacingAndGlyphs">GMm</text><text x="285.6" y="446.4">r<tspan font-size="10.5" dy="-8.6" dx="0.6" font-style="normal">2</tspan></text></g>
<line x1="269.6" y1="425.4" x2="315" y2="425.4" stroke="#1a1a1a" stroke-width="1.1"/>
</g>
<g id="p7">
<clipPath id="c7"><rect x="334.0" y="282.0" width="363.0" height="173.60000000000002"/></clipPath>
<rect x="334.0" y="282.0" width="363.0" height="173.60000000000002" fill="#000"/>
<g clip-path="url(#c7)">
<clipPath id="c7s"><path d="M410.1,304.7L406.4,305.0L402.9,305.5L399.4,306.1L396.0,306.9L392.5,307.8L389.0,309.0L385.8,310.2L382.6,311.7L379.3,313.3L376.4,314.9L373.4,316.8L370.4,318.9L367.7,321.0L365.0,323.4L362.5,325.7L360.0,328.3L357.7,331.0L355.6,333.7L353.5,336.6L351.7,339.6L350.1,342.5L348.5,345.7L347.1,348.9L346.0,352.1L345.0,355.3L344.1,358.8L343.4,362.2L342.9,365.6L342.5,369.1L342.4,372.5L342.4,376.0L342.6,379.4L343.0,382.8L343.5,386.3L344.3,389.7L345.2,392.9L346.3,396.4L347.5,399.6L348.9,402.7L350.4,405.7L352.1,408.6L354.0,411.6L356.0,414.5L358.2,417.2L360.5,419.8L363.0,422.4L365.4,424.7L368.2,427.0L370.9,429.1L373.9,431.1L376.9,433.0L379.8,434.6L383.1,436.2L386.3,437.6L389.5,438.8L393.0,439.9L396.4,440.8L399.9,441.6L403.4,442.2L407.1,442.7L410.6,442.9L414.3,443.1L418.0,443.0L421.5,442.8L424.7,442.5L427.9,442.0L431.2,441.4L434.1,440.8L437.4,439.9L440.6,439.0L443.6,438.0L446.8,436.7L450.0,435.4L453.0,434.0L456.0,432.5L459.0,430.8L461.9,429.0L465.0,427.1L467.8,425.1L470.8,422.9L473.6,420.7L476.5,418.2L479.6,415.5L482.4,412.8L485.4,409.9L488.2,406.9L493.8,400.5L497.4,396.1L501.3,391.2L504.9,386.3L508.4,381.4L510.4,378.4L511.7,376.2L512.3,374.7L512.4,374.2L512.4,373.5L512.3,372.8L512.0,372.0L510.9,370.1L508.7,366.6L505.2,361.7L501.2,356.3L497.6,351.6L493.7,347.0L490.1,342.8L487.2,339.6L484.1,336.4L481.0,333.4L477.8,330.5L474.7,327.8L471.6,325.3L468.4,322.9L465.2,320.7L461.9,318.6L458.7,316.6L455.5,314.9L452.0,313.1L448.8,311.7L445.3,310.3L441.8,309.0L438.4,307.9L434.9,307.0L431.4,306.2L427.7,305.5L424.2,305.1L420.8,304.7L417.0,304.6L413.6,304.5L410.1,304.7Z"/></clipPath>
<g clip-path="url(#c7s)"><path d="M410.1,304.7L406.4,305.0L402.9,305.5L399.4,306.1L396.0,306.9L392.5,307.8L389.0,309.0L385.8,310.2L382.6,311.7L379.3,313.3L376.4,314.9L373.4,316.8L370.4,318.9L367.7,321.0L365.0,323.4L362.5,325.7L360.0,328.3L357.7,331.0L355.6,333.7L353.5,336.6L351.7,339.6L350.1,342.5L348.5,345.7L347.1,348.9L346.0,352.1L345.0,355.3L344.1,358.8L343.4,362.2L342.9,365.6L342.5,369.1L342.4,372.5L342.4,376.0L342.6,379.4L343.0,382.8L343.5,386.3L344.3,389.7L345.2,392.9L346.3,396.4L347.5,399.6L348.9,402.7L350.4,405.7L352.1,408.6L354.0,411.6L356.0,414.5L358.2,417.2L360.5,419.8L363.0,422.4L365.4,424.7L368.2,427.0L370.9,429.1L373.9,431.1L376.9,433.0L379.8,434.6L383.1,436.2L386.3,437.6L389.5,438.8L393.0,439.9L396.4,440.8L399.9,441.6L403.4,442.2L407.1,442.7L410.6,442.9L414.3,443.1L418.0,443.0L421.5,442.8L424.7,442.5L427.9,442.0L431.2,441.4L434.1,440.8L437.4,439.9L440.6,439.0L443.6,438.0L446.8,436.7L450.0,435.4L453.0,434.0L456.0,432.5L459.0,430.8L461.9,429.0L465.0,427.1L467.8,425.1L470.8,422.9L473.6,420.7L476.5,418.2L479.6,415.5L482.4,412.8L485.4,409.9L488.2,406.9L493.8,400.5L497.4,396.1L501.3,391.2L504.9,386.3L508.4,381.4L510.4,378.4L511.7,376.2L512.3,374.7L512.4,374.2L512.4,373.5L512.3,372.8L512.0,372.0L510.9,370.1L508.7,366.6L505.2,361.7L501.2,356.3L497.6,351.6L493.7,347.0L490.1,342.8L487.2,339.6L484.1,336.4L481.0,333.4L477.8,330.5L474.7,327.8L471.6,325.3L468.4,322.9L465.2,320.7L461.9,318.6L458.7,316.6L455.5,314.9L452.0,313.1L448.8,311.7L445.3,310.3L441.8,309.0L438.4,307.9L434.9,307.0L431.4,306.2L427.7,305.5L424.2,305.1L420.8,304.7L417.0,304.6L413.6,304.5L410.1,304.7Z" fill="url(#gStar)"/><g mask="url(#mTex)"><rect x="338" y="298" width="180" height="150" filter="url(#fTex)" opacity="0.6"/></g><rect x="470" y="340" width="50" height="70" fill="url(#gTip)"/><path d="M410.1,304.7L406.4,305.0L402.9,305.5L399.4,306.1L396.0,306.9L392.5,307.8L389.0,309.0L385.8,310.2L382.6,311.7L379.3,313.3L376.4,314.9L373.4,316.8L370.4,318.9L367.7,321.0L365.0,323.4L362.5,325.7L360.0,328.3L357.7,331.0L355.6,333.7L353.5,336.6L351.7,339.6L350.1,342.5L348.5,345.7L347.1,348.9L346.0,352.1L345.0,355.3L344.1,358.8L343.4,362.2L342.9,365.6L342.5,369.1L342.4,372.5L342.4,376.0L342.6,379.4L343.0,382.8L343.5,386.3L344.3,389.7L345.2,392.9L346.3,396.4L347.5,399.6L348.9,402.7L350.4,405.7L352.1,408.6L354.0,411.6L356.0,414.5L358.2,417.2L360.5,419.8L363.0,422.4L365.4,424.7L368.2,427.0L370.9,429.1L373.9,431.1L376.9,433.0L379.8,434.6L383.1,436.2L386.3,437.6L389.5,438.8L393.0,439.9L396.4,440.8L399.9,441.6L403.4,442.2L407.1,442.7L410.6,442.9L414.3,443.1L418.0,443.0L421.5,442.8L424.7,442.5L427.9,442.0L431.2,441.4L434.1,440.8L437.4,439.9L440.6,439.0L443.6,438.0L446.8,436.7L450.0,435.4L453.0,434.0L456.0,432.5L459.0,430.8L461.9,429.0L465.0,427.1L467.8,425.1L470.8,422.9L473.6,420.7L476.5,418.2L479.6,415.5L482.4,412.8L485.4,409.9L488.2,406.9L493.8,400.5L497.4,396.1L501.3,391.2L504.9,386.3L508.4,381.4L510.4,378.4L511.7,376.2L512.3,374.7L512.4,374.2L512.4,373.5L512.3,372.8L512.0,372.0L510.9,370.1L508.7,366.6L505.2,361.7L501.2,356.3L497.6,351.6L493.7,347.0L490.1,342.8L487.2,339.6L484.1,336.4L481.0,333.4L477.8,330.5L474.7,327.8L471.6,325.3L468.4,322.9L465.2,320.7L461.9,318.6L458.7,316.6L455.5,314.9L452.0,313.1L448.8,311.7L445.3,310.3L441.8,309.0L438.4,307.9L434.9,307.0L431.4,306.2L427.7,305.5L424.2,305.1L420.8,304.7L417.0,304.6L413.6,304.5L410.1,304.7Z" fill="none" stroke="url(#gSh1)" stroke-width="34" filter="url(#fBlur5)" opacity="0.88" transform="translate(3 -7)"/><path d="M410.1,304.7L406.4,305.0L402.9,305.5L399.4,306.1L396.0,306.9L392.5,307.8L389.0,309.0L385.8,310.2L382.6,311.7L379.3,313.3L376.4,314.9L373.4,316.8L370.4,318.9L367.7,321.0L365.0,323.4L362.5,325.7L360.0,328.3L357.7,331.0L355.6,333.7L353.5,336.6L351.7,339.6L350.1,342.5L348.5,345.7L347.1,348.9L346.0,352.1L345.0,355.3L344.1,358.8L343.4,362.2L342.9,365.6L342.5,369.1L342.4,372.5L342.4,376.0L342.6,379.4L343.0,382.8L343.5,386.3L344.3,389.7L345.2,392.9L346.3,396.4L347.5,399.6L348.9,402.7L350.4,405.7L352.1,408.6L354.0,411.6L356.0,414.5L358.2,417.2L360.5,419.8L363.0,422.4L365.4,424.7L368.2,427.0L370.9,429.1L373.9,431.1L376.9,433.0L379.8,434.6L383.1,436.2L386.3,437.6L389.5,438.8L393.0,439.9L396.4,440.8L399.9,441.6L403.4,442.2L407.1,442.7L410.6,442.9L414.3,443.1L418.0,443.0L421.5,442.8L424.7,442.5L427.9,442.0L431.2,441.4L434.1,440.8L437.4,439.9L440.6,439.0L443.6,438.0L446.8,436.7L450.0,435.4L453.0,434.0L456.0,432.5L459.0,430.8L461.9,429.0L465.0,427.1L467.8,425.1L470.8,422.9L473.6,420.7L476.5,418.2L479.6,415.5L482.4,412.8L485.4,409.9L488.2,406.9L493.8,400.5L497.4,396.1L501.3,391.2L504.9,386.3L508.4,381.4L510.4,378.4L511.7,376.2L512.3,374.7L512.4,374.2L512.4,373.5L512.3,372.8L512.0,372.0L510.9,370.1L508.7,366.6L505.2,361.7L501.2,356.3L497.6,351.6L493.7,347.0L490.1,342.8L487.2,339.6L484.1,336.4L481.0,333.4L477.8,330.5L474.7,327.8L471.6,325.3L468.4,322.9L465.2,320.7L461.9,318.6L458.7,316.6L455.5,314.9L452.0,313.1L448.8,311.7L445.3,310.3L441.8,309.0L438.4,307.9L434.9,307.0L431.4,306.2L427.7,305.5L424.2,305.1L420.8,304.7L417.0,304.6L413.6,304.5L410.1,304.7Z" fill="none" stroke="url(#gSh2)" stroke-width="8" filter="url(#fBlur3)" opacity="0.9"/><path d="M410.1,304.7L406.4,305.0L402.9,305.5L399.4,306.1L396.0,306.9L392.5,307.8L389.0,309.0L385.8,310.2L382.6,311.7L379.3,313.3L376.4,314.9L373.4,316.8L370.4,318.9L367.7,321.0L365.0,323.4L362.5,325.7L360.0,328.3L357.7,331.0L355.6,333.7L353.5,336.6L351.7,339.6L350.1,342.5L348.5,345.7L347.1,348.9L346.0,352.1L345.0,355.3L344.1,358.8L343.4,362.2L342.9,365.6L342.5,369.1L342.4,372.5L342.4,376.0L342.6,379.4L343.0,382.8L343.5,386.3L344.3,389.7L345.2,392.9L346.3,396.4L347.5,399.6L348.9,402.7L350.4,405.7L352.1,408.6L354.0,411.6L356.0,414.5L358.2,417.2L360.5,419.8L363.0,422.4L365.4,424.7L368.2,427.0L370.9,429.1L373.9,431.1L376.9,433.0L379.8,434.6L383.1,436.2L386.3,437.6L389.5,438.8L393.0,439.9L396.4,440.8L399.9,441.6L403.4,442.2L407.1,442.7L410.6,442.9L414.3,443.1L418.0,443.0L421.5,442.8L424.7,442.5L427.9,442.0L431.2,441.4L434.1,440.8L437.4,439.9L440.6,439.0L443.6,438.0L446.8,436.7L450.0,435.4L453.0,434.0L456.0,432.5L459.0,430.8L461.9,429.0L465.0,427.1L467.8,425.1L470.8,422.9L473.6,420.7L476.5,418.2L479.6,415.5L482.4,412.8L485.4,409.9L488.2,406.9L493.8,400.5L497.4,396.1L501.3,391.2L504.9,386.3L508.4,381.4L510.4,378.4L511.7,376.2L512.3,374.7L512.4,374.2L512.4,373.5L512.3,372.8L512.0,372.0L510.9,370.1L508.7,366.6L505.2,361.7L501.2,356.3L497.6,351.6L493.7,347.0L490.1,342.8L487.2,339.6L484.1,336.4L481.0,333.4L477.8,330.5L474.7,327.8L471.6,325.3L468.4,322.9L465.2,320.7L461.9,318.6L458.7,316.6L455.5,314.9L452.0,313.1L448.8,311.7L445.3,310.3L441.8,309.0L438.4,307.9L434.9,307.0L431.4,306.2L427.7,305.5L424.2,305.1L420.8,304.7L417.0,304.6L413.6,304.5L410.1,304.7Z" fill="none" stroke="url(#gSh3)" stroke-width="2.5" filter="url(#fBlur1)" opacity="0.8"/><path d="M414,309 q10,-2 22,2 q8,4 14,3 l-2,3.5 q-12,1 -20,-3 q-8,-3 -14,-5z" fill="#f2c890" opacity="0.4" filter="url(#fBlur1)"/></g>
<ellipse cx="446.8" cy="393" rx="1.7" ry="2.3" fill="#2a1408" transform="rotate(25 446.8 393)"/>
<circle cx="441.3" cy="340.7" r="0.8" fill="#4a2208"/><circle cx="353.8" cy="399" r="1" fill="#4a2010"/>
<path d="M512,370.5 Q516,371.4 530,372.6 L590,375.2 L590,376.4 L530,376.8 Q518,376.8 512,377.5 Z" fill="url(#gStream)" filter="url(#fBlur05)"/>
<g fill="none" stroke="#6d6d6f" stroke-width="1.7">
<path d="M408.8,303.5L405.5,303.8L402.5,304.2L399.5,304.7L396.5,305.3L393.5,306.1L390.5,307.0L387.5,308.0L384.8,309.1L382.0,310.3L379.2,311.7L376.5,313.2L373.8,314.8L371.2,316.5L368.8,318.3L366.3,320.2L364.0,322.2L361.8,324.3L359.7,326.5L357.7,328.8L355.8,331.1L353.9,333.5L352.2,336.0L350.7,338.5L349.1,341.2L347.7,344.0L346.5,346.8L345.4,349.5L344.3,352.5L343.4,355.5L342.7,358.2L342.1,361.2L341.6,364.2L341.3,367.2L341.1,370.2L341.0,373.5L341.0,376.5L341.2,379.5L341.5,382.5L342.0,385.5L342.6,388.5L343.3,391.5L344.1,394.2L345.1,397.2L346.1,400.0L347.3,402.8L348.7,405.5L350.2,408.2L351.7,410.8L353.3,413.2L355.2,415.8L357.0,418.1L359.0,420.4L361.0,422.5L363.3,424.8L365.6,426.8L368.0,428.7L370.5,430.6L373.0,432.3L375.5,433.9L378.2,435.4L381.0,436.8L384.0,438.2L386.8,439.3L389.8,440.4L393.8,441.6L397.8,442.6L401.7,443.3L405.8,443.8L409.8,444.2L414.0,444.3L418.2,444.2L422.5,443.8L426.5,443.3L430.8,442.6L435.0,441.6L439.0,440.4L443.0,439.1L447.2,437.4L451.2,435.7L455.2,433.6L459.0,431.5L462.7,429.2L466.2,426.9L469.9,424.2L473.3,421.5L476.9,418.5L480.4,415.2L483.7,412.0L487.1,408.5L490.3,405.0L493.5,401.2L496.8,397.2L502.6,389.8L506.7,384.2L513.0,375.4L513.8,374.5L514.0,374.3L514.2,374.3L515.0,375.2L523.4,386.8L529.0,394.2L533.6,400.0L537.9,405.0L542.7,410.2L547.8,415.2L552.8,419.8L557.7,423.8L560.4,425.8L563.2,427.8L568.7,431.2L574.2,434.3L577.0,435.7L580.0,437.0L582.8,438.2L585.8,439.3L588.8,440.3L591.8,441.2L594.8,442.0L597.8,442.6L600.8,443.2L603.8,443.6L607.0,444.0L610.2,444.2L613.5,444.3L616.8,444.2L620.0,444.1L623.2,443.7L626.2,443.3L629.5,442.8L632.5,442.1L635.8,441.2L638.8,440.3L641.8,439.2L644.8,437.9L647.5,436.7L650.2,435.2L653.0,433.7L655.8,431.9L658.2,430.2L660.8,428.3L663.0,426.4L665.2,424.4L667.5,422.2L669.7,419.8L671.8,417.4L673.6,415.0L675.5,412.3L677.1,409.8L678.7,407.0L680.1,404.2L681.4,401.5L682.6,398.8L683.6,395.8L684.6,392.5L685.5,389.0L686.2,385.8L686.7,382.2L687.1,378.8L687.2,375.5L687.2,372.0L687.0,368.5L686.7,365.0L686.2,361.8L685.5,358.2L684.6,355.0L683.6,351.8L682.4,348.5L681.0,345.2L679.6,342.2L678.0,339.2L676.1,336.2L674.3,333.5L672.2,330.8L670.0,328.1L667.6,325.5L665.0,323.0L662.5,320.8L659.8,318.5L657.0,316.5L654.2,314.7L651.2,312.9L648.2,311.3L645.0,309.8L641.8,308.4L638.5,307.3L634.8,306.1L630.8,305.1L626.8,304.3L622.5,303.8L618.5,303.4L614.2,303.3L610.0,303.4L605.8,303.7L601.5,304.3L597.5,305.0L593.5,305.9L589.2,307.1L585.0,308.6L581.0,310.1L577.0,311.9L573.0,313.9L569.3,316.0L565.6,318.2L562.0,320.7L558.5,323.2L555.0,326.0L551.4,329.0L547.9,332.2L544.6,335.5L541.4,338.8L538.2,342.2L535.2,345.8L531.9,349.8L528.3,354.2L524.9,358.8L515.0,372.4L514.5,373.1L514.2,373.3L514.0,373.3L513.8,373.1L513.0,372.2L504.6,360.5L498.7,352.8L493.2,346.0L487.7,339.8L484.9,336.8L481.9,333.8L479.0,331.0L476.2,328.5L473.2,326.0L470.1,323.5L467.0,321.2L464.0,319.2L460.8,317.1L457.5,315.2L454.2,313.4L450.8,311.7L447.2,310.2L444.0,308.9L440.5,307.6L437.0,306.6L433.5,305.6L430.0,304.9L426.5,304.3L423.0,303.8L419.2,303.5L415.8,303.3L412.2,303.3L408.8,303.5"/>
<path d="M413.0,298.5L409.5,298.7L406.2,299.0L402.8,299.4L399.5,300.0L396.2,300.7L392.8,301.6L389.5,302.6L386.5,303.6L383.5,304.8L380.5,306.1L377.5,307.6L374.5,309.3L371.8,311.0L369.0,312.8L366.3,314.8L363.8,316.8L361.2,319.0L359.0,321.1L356.7,323.5L354.5,326.0L352.4,328.5L350.6,331.0L348.7,333.8L347.0,336.5L345.5,339.2L344.0,342.2L342.6,345.2L341.5,348.2L340.4,351.2L339.4,354.5L338.6,357.8L338.0,360.8L337.5,364.0L337.2,367.2L336.9,370.5L336.9,373.8L336.9,377.0L337.2,380.2L337.5,383.5L338.0,386.8L338.7,390.0L339.4,393.0L340.4,396.2L341.4,399.2L342.6,402.2L343.9,405.2L345.4,408.2L347.0,411.0L348.7,413.8L350.5,416.5L352.5,419.2L354.5,421.6L356.8,424.2L359.0,426.5L361.2,428.6L363.8,430.8L366.2,432.8L369.0,434.8L371.8,436.6L374.8,438.5L377.8,440.1L380.8,441.6L383.8,442.9L386.8,444.1L389.8,445.1L393.0,446.1L396.2,446.9L399.5,447.6L402.8,448.2L406.2,448.6L409.5,448.9L413.0,449.1L416.2,449.1L419.8,449.1L423.2,448.8L426.8,448.5L430.2,448.0L433.5,447.4L437.0,446.6L440.5,445.7L446.5,443.9L449.8,442.7L452.8,441.5L459.0,438.7L465.2,435.5L469.8,433.0L474.6,430.0L480.4,426.2L494.5,416.6L498.5,414.1L502.0,412.2L505.2,410.8L507.0,410.2L508.5,409.7L510.0,409.4L511.5,409.1L513.0,409.0L514.5,409.0L516.0,409.1L517.5,409.2L520.5,409.9L523.8,411.1L527.0,412.6L530.0,414.3L533.2,416.3L550.5,428.0L555.2,431.0L559.8,433.8L565.0,436.6L570.2,439.2L575.2,441.4L580.5,443.4L586.2,445.3L591.8,446.7L597.5,447.9L603.0,448.6L608.8,449.1L614.2,449.1L619.8,448.8L625.2,448.2L630.5,447.2L635.5,446.0L640.5,444.4L645.2,442.6L650.0,440.3L654.5,437.8L658.8,435.1L663.0,432.0L667.0,428.6L670.7,425.0L674.0,421.2L677.1,417.2L680.0,413.0L682.6,408.5L684.8,404.0L686.8,399.2L688.0,395.8L689.0,392.2L689.8,388.5L690.5,385.0L690.9,381.5L691.2,377.8L691.3,374.0L691.3,370.5L691.0,366.8L690.6,363.2L689.9,359.5L689.1,356.0L688.2,352.5L687.0,349.0L685.7,345.5L684.2,342.2L682.6,339.0L680.7,335.8L678.8,332.8L676.7,329.8L674.4,326.8L672.0,324.0L669.5,321.4L666.8,318.8L664.0,316.4L661.0,314.1L658.0,312.0L655.0,310.1L651.8,308.2L648.5,306.5L645.0,304.9L641.5,303.6L638.2,302.4L635.2,301.5L632.0,300.7L628.8,300.0L625.5,299.4L622.0,299.0L618.8,298.7L615.3,298.5L612.0,298.5L608.5,298.5L605.0,298.8L601.5,299.1L598.0,299.6L594.8,300.2L591.2,301.0L587.8,301.9L584.5,302.8L581.5,303.8L575.5,306.1L569.2,308.8L563.1,312.0L558.2,314.8L553.3,317.8L547.6,321.5L533.8,330.9L529.8,333.4L526.2,335.3L523.0,336.8L521.2,337.4L519.8,337.9L518.2,338.2L516.8,338.5L515.2,338.6L513.8,338.6L512.2,338.5L510.8,338.4L509.2,338.1L507.5,337.6L504.2,336.4L500.8,334.7L497.8,333.0L494.5,331.0L478.3,320.0L474.1,317.2L470.0,314.8L465.2,312.1L460.8,309.7L456.2,307.6L451.8,305.7L447.0,303.9L442.0,302.3L437.2,301.1L432.2,300.0L427.2,299.2L422.5,298.7L417.8,298.5L413.0,298.5"/>
<path d="M413.0,293.0L409.5,293.2L405.8,293.6L402.2,294.1L398.8,294.8L395.2,295.6L391.8,296.5L388.2,297.6L385.0,298.8L381.8,300.1L378.5,301.6L375.2,303.2L372.2,304.9L369.2,306.7L366.5,308.6L363.8,310.6L361.0,312.8L358.5,315.0L355.8,317.5L353.5,319.9L351.2,322.5L349.0,325.2L346.9,328.0L345.1,330.8L343.2,333.8L341.5,336.8L339.9,340.0L338.5,343.0L337.2,346.2L336.1,349.5L335.1,352.8L334.3,356.0L333.6,359.5L333.0,362.8L332.6,366.2L332.4,369.8L332.3,373.2L332.3,376.8L332.5,380.2L332.9,383.8L333.4,387.0L334.0,390.5L334.8,393.8L335.8,397.0L336.8,400.2L338.1,403.5L339.4,406.5L340.9,409.8L342.6,412.8L344.4,415.8L346.2,418.5L348.1,421.2L350.3,424.0L352.7,426.8L355.0,429.2L357.5,431.7L360.1,434.0L362.8,436.2L365.5,438.3L368.2,440.2L371.2,442.1L374.2,443.8L377.5,445.5L380.8,447.1L384.0,448.4L387.0,449.6L390.0,450.6L393.0,451.4L396.3,452.3L399.2,452.9L402.5,453.5L405.8,454.0L409.0,454.3L412.2,454.6L415.5,454.7L418.8,454.7L422.0,454.6L425.2,454.4L428.8,454.1L432.2,453.6L435.5,453.1L441.5,451.9L447.5,450.4L453.5,448.5L459.7,446.2L465.0,444.1L470.8,441.5L487.2,433.6L491.8,431.5L496.0,429.7L499.8,428.3L503.8,427.0L507.8,426.2L511.5,425.7L515.0,425.6L518.5,425.9L522.2,426.5L526.0,427.5L530.0,428.8L533.5,430.2L537.5,432.0L555.5,440.6L560.2,442.8L564.8,444.7L569.8,446.7L574.5,448.4L579.2,449.9L584.0,451.3L589.0,452.4L594.2,453.4L599.5,454.1L604.5,454.5L609.5,454.7L614.5,454.6L619.5,454.3L624.5,453.7L630.0,452.7L635.5,451.4L640.8,449.7L646.0,447.7L651.0,445.4L655.8,442.8L660.5,439.8L664.8,436.8L668.8,433.5L672.8,429.7L676.4,425.8L679.9,421.5L683.0,417.1L685.8,412.5L688.2,407.8L690.4,402.8L691.7,399.2L692.9,395.5L693.9,391.8L694.7,387.8L695.3,383.8L695.7,380.0L695.9,376.0L695.9,372.0L695.7,368.0L695.4,364.2L694.8,360.5L694.0,356.5L693.1,352.8L691.9,349.0L690.6,345.2L689.1,341.8L687.5,338.2L685.6,334.8L683.5,331.2L681.3,328.0L679.0,325.0L676.5,321.9L673.8,319.0L671.0,316.2L668.0,313.5L665.0,311.0L661.8,308.6L658.5,306.4L655.0,304.3L651.5,302.5L648.0,300.8L644.2,299.2L641.2,298.1L638.2,297.1L635.2,296.2L632.0,295.3L629.0,294.7L625.8,294.1L622.5,293.6L619.2,293.3L616.0,293.0L612.8,292.9L609.5,292.9L606.2,293.0L603.0,293.2L599.5,293.5L596.2,293.9L592.8,294.5L586.8,295.7L580.8,297.2L574.8,299.1L568.5,301.4L563.0,303.6L557.2,306.2L541.0,314.0L536.5,316.1L532.2,317.9L528.5,319.3L524.5,320.5L520.5,321.4L516.8,321.9L513.2,322.0L509.5,321.7L505.8,321.0L502.0,320.1L497.8,318.6L494.2,317.2L490.2,315.4L473.5,307.3L465.2,303.6L460.8,301.8L456.5,300.2L452.2,298.7L448.0,297.4L443.5,296.2L439.0,295.1L434.8,294.3L430.2,293.7L425.8,293.2L421.5,293.0L417.2,292.9L413.0,293.0"/>
<path d="M699.0,354.7L698.1,351.2L697.1,347.8L695.8,344.2L694.4,340.8L693.0,337.5L691.4,334.2L689.5,331.0L687.5,327.8L685.5,324.8L683.3,321.8L681.0,318.9L678.5,316.1L676.0,313.5L673.2,310.8L670.5,308.4L667.5,306.0L664.5,303.8L661.5,301.7L658.2,299.7L655.0,297.9L651.8,296.2L648.2,294.6L644.8,293.2L641.2,291.9L637.8,290.8L634.0,289.7L630.2,288.8L626.5,288.1L622.5,287.4L618.8,287.0L614.8,286.7L610.8,286.5L607.2,286.5L603.5,286.5L600.0,286.7L596.2,287.1L592.5,287.5L588.8,288.0L585.0,288.7L581.0,289.5L573.5,291.3L565.5,293.7L558.0,296.2L540.8,302.2L536.2,303.7L532.2,304.8L527.5,306.0L523.2,306.8L519.0,307.3L514.8,307.5L510.5,307.4L506.2,307.0L501.8,306.2L497.0,305.1L493.0,304.0L488.2,302.5L468.8,295.7L459.5,292.7L454.2,291.2L449.2,290.0L444.5,288.9L439.8,288.1L434.5,287.3L429.2,286.8L424.0,286.5L418.8,286.5L413.5,286.7L408.5,287.1L403.5,287.8L398.8,288.6L393.0,290.0L387.5,291.7L382.0,293.8L376.8,296.1L371.8,298.7L366.8,301.7L362.0,305.0L357.5,308.6L353.2,312.4L349.3,316.5L345.7,320.8L342.3,325.2L339.2,330.0L336.5,335.0L334.1,340.0L332.0,345.2 M332.0,402.4L333.9,407.2L336.1,412.0L338.7,416.8L341.6,421.2L344.8,425.7L348.1,429.8L351.8,433.8L355.8,437.5L359.9,441.0L364.2,444.2L368.8,447.1L373.5,449.9L378.2,452.2L383.2,454.3L388.5,456.2L393.7,457.7 M448.7,457.8L455.8,456.0L463.2,453.7L470.5,451.3L487.5,445.4L492.0,443.9L496.0,442.8L501.0,441.6L505.5,440.8L509.8,440.3L514.0,440.1L518.2,440.3L522.8,440.8L527.2,441.6L532.0,442.7L536.0,443.9L540.8,445.4L557.8,451.4L565.0,453.8L572.5,456.0L579.5,457.8 M634.5,457.7L637.5,456.9L640.5,456.0L646.2,453.8L651.8,451.4L654.5,450.0L657.2,448.4L662.2,445.4L664.8,443.6L667.2,441.8L669.5,440.0L671.9,438.0L674.1,436.0L676.2,433.9L678.3,431.7L680.3,429.5L684.0,424.9L685.8,422.5L687.5,420.0L689.0,417.5L690.5,414.9L693.1,409.8L694.4,407.0L695.5,404.2L697.4,398.8L698.3,395.8L699.0,392.9"/>
<path d="M407.9,280.0L401.8,281.0L395.8,282.3L390.0,283.8L384.2,285.8L378.8,288.0L373.2,290.6L368.0,293.4L363.1,296.5L358.2,299.9L353.8,303.5L349.4,307.5L345.3,311.8L341.5,316.1L338.0,320.8L334.9,325.5L332.0,330.5 M587.4,280.0L583.0,280.6L578.8,281.3L574.2,282.1L569.5,283.0L560.8,285.1L541.8,289.8L536.8,290.9L532.5,291.7L527.5,292.6L523.0,293.1L518.5,293.4L514.0,293.5L509.5,293.4L505.0,293.1L500.5,292.5L495.5,291.7L491.0,290.8L486.2,289.7L467.5,285.1L458.8,283.0L454.0,282.1L449.5,281.3L445.0,280.6L440.8,280.0 M699.0,336.1L697.6,333.2L696.2,330.5L693.2,325.2L691.6,322.8L689.8,320.1L688.0,317.8L686.0,315.2L683.8,312.8L681.8,310.5L677.5,306.2L675.2,304.2L672.8,302.1L670.2,300.1L667.8,298.3L665.2,296.6L662.5,294.8L659.8,293.2L657.0,291.6L654.2,290.2L651.2,288.8L645.5,286.4L639.5,284.2L633.2,282.5L627.0,281.1L620.3,280.0 M332.0,417.1L333.9,420.5L335.8,423.5L337.8,426.5L340.0,429.5L342.4,432.5L344.8,435.3L347.3,438.0L350.0,440.7L352.8,443.2L355.5,445.5L358.5,447.9L361.5,450.0L364.8,452.2L368.0,454.2L371.2,456.0L374.7,457.8 M486.8,457.8L494.8,456.0L501.5,454.9L507.8,454.3L511.0,454.1L514.0,454.1L517.0,454.1L520.2,454.3L523.5,454.5L526.8,454.9L533.5,456.0L541.4,457.8 M653.5,457.8L657.2,455.8L661.0,453.7L664.5,451.5L668.0,449.1L671.2,446.7L674.5,444.0L677.5,441.3L680.5,438.4L683.2,435.5L686.0,432.3L688.6,429.0L690.9,425.8L693.2,422.2L695.3,418.8L697.2,415.2L699.0,411.5"/>
<path d="M378.0,280.0L374.5,281.5L371.2,283.1L367.8,285.0L364.5,286.8L361.2,288.9L358.1,291.0L355.0,293.2L352.1,295.5L349.2,297.9L346.5,300.3L343.8,303.0L341.2,305.6L338.8,308.4L336.3,311.2L334.2,314.0L332.0,317.1 M699.0,321.3L696.8,318.0L694.5,314.8L692.1,311.5L689.5,308.4L686.8,305.4L684.0,302.5L681.1,299.8L678.0,297.1L674.8,294.4L671.5,292.0L668.2,289.7L664.8,287.5L661.2,285.4L657.8,283.5L654.0,281.7L650.2,280.0 M332.0,430.5L334.9,434.5L337.9,438.2L341.2,442.0L344.5,445.4L348.0,448.6L351.8,451.8L355.8,454.9L359.8,457.8 M668.4,457.8L673.0,454.5L677.5,451.0L681.5,447.4L685.5,443.5L689.2,439.5L692.7,435.2L696.0,430.8L699.0,426.3"/>
<path d="M359.1,280.0L355.2,282.5L351.5,285.2L348.0,287.9L344.5,290.8L341.2,293.8L338.0,296.9L334.9,300.2L332.0,303.5 M699.0,307.0L695.8,303.0L692.5,299.3L689.0,295.7L685.3,292.2L681.5,289.0L677.5,285.8L673.5,282.9L669.1,280.0 M332.0,444.1L335.2,447.8L338.5,451.2L342.0,454.5L345.6,457.8 M682.6,457.8L687.0,453.8L691.2,449.6L695.2,445.2L699.0,440.6"/>
<path d="M341.9,280.0L336.8,284.5L332.0,289.0 M699.0,292.0L696.0,288.8L692.8,285.8L689.5,282.8L686.3,280.0 M697.0,457.8L699.0,455.6"/>
<path d=""/>
</g>
<g transform="rotate(1.2 620 375.5)">
<ellipse cx="618" cy="375.6" rx="52" ry="6.4" fill="url(#gDisk)"/>
<ellipse cx="594" cy="377" rx="24" ry="1.5" fill="#b8c4e0" opacity="0.5" filter="url(#fBlur05)"/>
<ellipse cx="621" cy="375.3" rx="22" ry="2.4" fill="url(#gDisk2)" opacity="0.5"/>
</g>
<g stroke="url(#gSpike)" stroke-width="1.3" filter="url(#fBlur05)"><line x1="601" y1="355" x2="641" y2="395.4"/><line x1="641" y1="356" x2="601" y2="395"/></g>
<circle cx="621.2" cy="375.3" r="7" fill="url(#gGlow)"/>
<g stroke="#ececec" stroke-width="0.85"><line x1="481.3" y1="306.6" x2="467.6" y2="320.6"/><line x1="539.8" y1="306.8" x2="569" y2="316.4"/><line x1="558" y1="345.6" x2="515.5" y2="372.8"/></g>
<rect x="481.2" y="294.8" width="58.6" height="12" fill="#f2f2f2"/>
<text x="485" y="303.8" font-family="Liberation Sans,sans-serif" font-size="8.3" fill="#222" stroke="#222" stroke-width="0.15" textLength="50.4" lengthAdjust="spacingAndGlyphs">"Roche lobes"</text>
<rect x="588.6" y="289.2" width="58.4" height="12" fill="#f2f2f2"/>
<text x="592" y="298" font-family="Liberation Sans,sans-serif" font-size="8.3" fill="#222" stroke="#222" stroke-width="0.15" textLength="51.8" lengthAdjust="spacingAndGlyphs">Equipotentials</text>
<text x="585.4" y="339.2" font-family="Liberation Sans,sans-serif" font-size="8.3" fill="#e2e2e2" text-anchor="middle">Inner Lagrangian</text>
<text x="585.4" y="348.4" font-family="Liberation Sans,sans-serif" font-size="8.3" fill="#e2e2e2" text-anchor="middle">point, L1</text>
</g>
</g>
</svg>
</body></html>
